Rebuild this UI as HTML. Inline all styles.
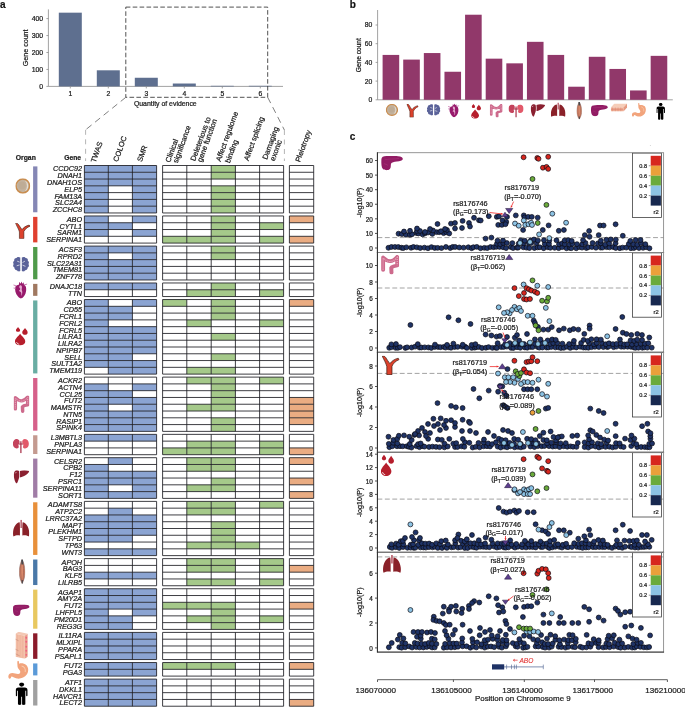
<!DOCTYPE html><html><head><meta charset="utf-8"><style>html,body{margin:0;padding:0;background:#fff;width:685px;height:707px;overflow:hidden}svg{display:block;font-family:"Liberation Sans",sans-serif;will-change:transform}svg text{stroke:#1a1a1a;stroke-width:.22px}</style></head><body>
<svg width="685" height="707" viewBox="0 0 685 707" font-family="Liberation Sans, sans-serif">
<defs><symbol id="ic-adipose" viewBox="0.7 0.7 18.6 18.6" preserveAspectRatio="none"><circle cx="10" cy="10" r="8.4" fill="#c3b29d" stroke="#c98d4f" stroke-width="1.8"/><path d="M12.5 3.6a7 7 0 0 1 0 12.8a9 9 0 0 0 0-12.8z" fill="#e4ddd3"/><circle cx="9" cy="9.5" r="4.5" fill="#b9a690" opacity="0.5"/></symbol><symbol id="ic-artery" viewBox="1 1.2 18.2 18.4" preserveAspectRatio="none"><path d="M1.2 1.6C2.6 1.2 3.8 1.6 4.6 2.6C6.4 4.8 7.6 7.2 9.2 8.8C11 6.6 13.5 4.6 17.8 3.6L18.9 4.9C15.2 6.2 12.8 8.6 11.4 11.2L11.4 19.4L6 19.4L6 11.6C5.2 8.6 3.2 5.4 1.2 1.6Z" fill="#dc412c" stroke="#3a1a10" stroke-width="0.7"/></symbol><symbol id="ic-brain" viewBox="1.6 1.6 16.8 16.4" preserveAspectRatio="none"><path d="M9.2 2.6C7.6 1.6 5.8 2 5.2 3.2C3.6 3.2 2.6 4.6 3 6C1.6 6.8 1.6 8.6 2.4 9.6C1.4 10.8 1.8 12.8 3.2 13.4C3 15 4.2 16.4 5.8 16.2C6.4 17.6 8.2 17.8 9.2 17Z" fill="#5a6299"/><path d="M10.8 2.6C12.4 1.6 14.2 2 14.8 3.2C16.4 3.2 17.4 4.6 17 6C18.4 6.8 18.4 8.6 17.6 9.6C18.6 10.8 18.2 12.8 16.8 13.4C17 15 15.8 16.4 14.2 16.2C13.6 17.6 11.8 17.8 10.8 17Z" fill="#5a6299"/><path d="M6 6.5l2.5 1M5.5 11.5l3 -1M14 6.5l-2.5 1.5M14.5 12l-3 -1.2" stroke="#fff" stroke-width="0.7" fill="none"/></symbol><symbol id="ic-heart" viewBox="1.5 2.5 16.5 17.2" preserveAspectRatio="none"><path d="M4 8C3 11 4 15 7 17.5C8.5 18.8 10 19.5 10.5 19.5C13 18.5 16 16 16.5 12C17 9 16 6.5 14 6L13.5 3.5L12.2 5L11 2.8L10 5L8.6 3.2L8 6C6 6.2 4.6 7 4 8Z" fill="#981a6c"/><path d="M9.5 6.5C8.2 7 8 9 9.5 9.8C10 10.5 9 11.5 8 12C9 12.5 10.5 12.5 10.8 14C11 15.5 10.5 16.5 10.5 17C12 16 12.5 13 11.5 11.5C11 10.5 12 9 11.5 7.5C11 6.5 10.3 6.3 9.5 6.5Z" fill="#e4acd0"/><path d="M1.5 6.2L5 7.2M1.6 9.2L4.4 9.6M13.8 6.2L17.8 5.4" stroke="#c46aa6" stroke-width="0.9" fill="none"/></symbol><symbol id="ic-blood" viewBox="3.2 0.6 11 19" preserveAspectRatio="none"><path d="M7.6 7.6C6 10.4 3.2 12.6 3.2 15.4C3.2 18 5.2 19.6 7.6 19.6C10 19.6 12 18 12 15.4C12 12.6 9.2 10.4 7.6 7.6Z" fill="#b61e2c"/><path d="M4.6 16.2C4.8 17.4 5.6 18.2 6.8 18.4" stroke="#fff" stroke-width="0.8" fill="none"/><path d="M5.8 0.6C5 2 4 2.8 4 4C4 5 4.8 5.6 5.8 5.6C6.8 5.6 7.6 5 7.6 4C7.6 2.8 6.6 2 5.8 0.6Z" fill="#b61e2c"/><path d="M11.8 1.6C10.8 3.4 9.4 4.6 9.4 6.2C9.4 7.6 10.6 8.6 11.8 8.6C13 8.6 14.2 7.6 14.2 6.2C14.2 4.6 12.8 3.4 11.8 1.6Z" fill="#b61e2c"/></symbol><symbol id="ic-colon" viewBox="1.8 1.6 16.4 19.2" preserveAspectRatio="none"><path d="M3.6 16.4L3.6 4C6.2 6.6 8 7.6 10 7.6C12 7.6 14 6.4 16.4 3.4L16.4 12C14 12.4 11.8 12.8 11 14.2L11.2 19" stroke="#cd6a8c" stroke-width="3.6" stroke-linecap="round" stroke-linejoin="round" fill="none"/><path d="M3.6 16L3.6 4.6C6.2 7 8 8 10 8C12 8 14 6.8 16.4 4L16.4 11.6" stroke="#eeb0c2" stroke-width="1" stroke-dasharray="1.1 0.9" fill="none"/></symbol><symbol id="ic-kidney" viewBox="1.4 3 17.2 16" preserveAspectRatio="none"><path d="M5.6 3C2.6 3 1.2 6 1.4 9C1.6 12 3.6 14 6 13.6C7.4 13.4 8 12.4 7.6 11.2C7.2 10 7.4 8.8 8.2 8C9 7 8.8 3.2 5.6 3Z" fill="#c4435c"/><path d="M14.4 3C17.4 3 18.8 6 18.6 9C18.4 12 16.4 14 14 13.6C12.6 13.4 12 12.4 12.4 11.2C12.8 10 12.6 8.8 11.8 8C11 7 11.2 3.2 14.4 3Z" fill="#e2596a"/><path d="M10 5.5L10 19M7.8 8.6L12.2 8.6" stroke="#a52a42" stroke-width="1.3" fill="none"/></symbol><symbol id="ic-liver" viewBox="0.6 1.6 18.6 14.6" preserveAspectRatio="none"><path d="M3 2C1 3 0.5 6 1 9C1.5 12 2.5 15 4 16C5 15.5 6 13 7 10C7.5 8 7.5 5 7 2.5C6 1.5 4.5 1.5 3 2Z" fill="#8a2030"/><path d="M8 2.5C11 1.5 15 1.5 19 2.5C18.5 4.5 16 6.5 13 8C11 9 9 9.5 8 9.5C8.3 7 8.3 4.5 8 2.5Z" fill="#8a2030"/><path d="M2.6 5L3.8 3.6" stroke="#f3dde0" stroke-width="0.8" fill="none"/></symbol><symbol id="ic-lung" viewBox="1.8 0.5 16.4 17.7" preserveAspectRatio="none"><path d="M8.5 3C5 3.5 2.5 8 2 13C1.8 15.5 2 17.5 2.5 18C4 17 6.5 16.5 8.8 17L8.8 10C8.8 7 8.8 5 8.5 3Z" fill="#8a2129"/><path d="M11.5 3C15 3.5 17.5 8 18 13C18.2 15.5 18 17.5 17.5 18C16 17 13.5 16.5 11.2 17L11.2 10C11.2 7 11.2 5 11.5 3Z" fill="#8a2129"/><path d="M9.3 0.5H10.7V9H9.3Z" fill="#b45462"/></symbol><symbol id="ic-muscle" viewBox="0.3 0.4 5.4 17.5" preserveAspectRatio="none"><path d="M3 0.5C1.5 3 0.5 6.5 0.5 9.5C0.5 12.5 1.5 15.5 3 17.8C4.5 15.5 5.5 12.5 5.5 9.5C5.5 6.5 4.5 3 3 0.5Z" fill="#d98a6c" stroke="#6a5050" stroke-width="0.35"/><path d="M2.2 0.5L3.6 0.5L4.2 4.2L2.3 4.2Z" fill="#4a4a4e"/><path d="M2.4 15.2L3.8 15.2L3.5 17.9L2.7 17.9Z" fill="#4a4a4e"/><path d="M2 4C1.5 8 1.8 13 2.6 16M4 4C4.4 8 4.2 12 3.6 16" stroke="#8a4a40" stroke-width="0.4" fill="none"/></symbol><symbol id="ic-pancreas" viewBox="0.8 0.2 21.2 15" preserveAspectRatio="none"><path d="M1 4C1 1.5 3 0.5 6 0.5C10 0.3 15 0.2 19 0.8C21 1.2 22 2.5 21.5 3.8C21 5 19 5.5 16 6C13 6.4 11.2 6.8 10.4 8C9.8 9.5 10.6 12 9.2 13.6C7.6 15.2 4.4 15.2 2.6 13.6C1 12 0.8 8 1 4Z" fill="#921c64"/><path d="M4 3.5C6 4.5 8 3.2 11 3.5C13 3.7 16 3 18 2.8M3.5 8C5 9 6 8.5 7.5 10" stroke="#a8357a" stroke-width="0.6" fill="none"/></symbol><symbol id="ic-skin" viewBox="1 6 18 8" preserveAspectRatio="none"><path d="M1 10L5 6L19 6L15 10Z" fill="#f6cdb8"/><path d="M1 10L15 10L15 14L1 14Z" fill="#efae94"/><path d="M15 10L19 6L19 10L15 14Z" fill="#e59a80"/><path d="M1 12L15 12M3 10V14M6 10V14M9 10V14M12 10V14" stroke="#d98070" stroke-width="0.5" fill="none"/></symbol><symbol id="ic-stomach" viewBox="0.3 0.3 20.4 18.3" preserveAspectRatio="none"><path d="M9.5 0.5C10.5 0.3 11 1 11 2L11 3.2C13 2.6 16 2.8 18 4.5C20.5 7 20.5 11 18.5 14C16.5 17 12.5 18.5 9 18C6.5 17.6 5.5 16.5 4 16C3 15.8 3.5 17.5 2.5 18C1 18.5 0.3 17 0.5 15.5C0.8 13.5 2.5 12.5 4.5 12.5C6.5 12.5 8 13.5 10 13.5C12 13.5 12.5 12 12 10.5C11.5 9 9.5 8 9.5 6C9.5 4 9 2 9.5 0.5Z" fill="#f2a47c"/><path d="M13.5 5.5C16 6 17.5 8.5 17 11.5" stroke="#f9cdb0" stroke-width="1" fill="none"/></symbol><symbol id="ic-person" viewBox="0 0 12 23.2" preserveAspectRatio="none"><ellipse cx="6" cy="2.3" rx="2.4" ry="2.1" fill="#000"/><path d="M3 5.2H9C10.8 5.2 11.8 6.2 11.8 8V13.2C11.8 14.2 10.4 14.2 10.4 13.2V8.6H9.6V22C9.6 23.2 6.4 23.2 6.4 22V14.6H5.6V22C5.6 23.2 2.4 23.2 2.4 22V8.6H1.6V13.2C1.6 14.2 0.2 14.2 0.2 13.2V8C0.2 6.2 1.2 5.2 3 5.2Z" fill="#000"/></symbol><symbol id="ic-skinv" viewBox="0 0 12 27" preserveAspectRatio="none"><path d="M0 2L3 0L12 2L9 4Z" fill="#f3c8b4"/><path d="M0 2L9 4L9 27L0 25Z" fill="#f3bea6"/><path d="M9 4L12 2L12 25L9 27Z" fill="#e9a08c"/><path d="M2 3V25M4.5 3.5V25.5M7 4V26" stroke="#e8a890" stroke-width="0.4" fill="none"/><path d="M-1 7L3 9M-1 17L3 19M0 22L4 24" stroke="#b07060" stroke-width="0.4" fill="none"/><circle cx="10.5" cy="6" r="0.9" fill="#f06080"/><circle cx="10.5" cy="10" r="0.9" fill="#f06080"/><circle cx="10.5" cy="15" r="0.9" fill="#f06080"/><circle cx="10.5" cy="19" r="0.9" fill="#f06080"/><circle cx="10.5" cy="23" r="0.9" fill="#f06080"/></symbol></defs>
<text x="0" y="8" font-size="10" font-weight="bold" fill="#111">a</text>
<line x1="48.4" y1="9.4" x2="48.4" y2="86.4" stroke="#8a8a8a" stroke-width="0.8"/>
<line x1="48.4" y1="86.4" x2="283" y2="86.4" stroke="#8a8a8a" stroke-width="0.8"/>
<line x1="46.4" y1="86.4" x2="48.4" y2="86.4" stroke="#8a8a8a" stroke-width="0.8"/>
<text x="43.199999999999996" y="88.8" font-size="6.9" text-anchor="end" fill="#1a1a1a">0</text>
<line x1="46.4" y1="69.45" x2="48.4" y2="69.45" stroke="#8a8a8a" stroke-width="0.8"/>
<text x="43.199999999999996" y="71.85" font-size="6.9" text-anchor="end" fill="#1a1a1a">100</text>
<line x1="46.4" y1="52.5" x2="48.4" y2="52.5" stroke="#8a8a8a" stroke-width="0.8"/>
<text x="43.199999999999996" y="54.9" font-size="6.9" text-anchor="end" fill="#1a1a1a">200</text>
<line x1="46.4" y1="35.55" x2="48.4" y2="35.55" stroke="#8a8a8a" stroke-width="0.8"/>
<text x="43.199999999999996" y="37.95" font-size="6.9" text-anchor="end" fill="#1a1a1a">300</text>
<line x1="46.4" y1="18.6" x2="48.4" y2="18.6" stroke="#8a8a8a" stroke-width="0.8"/>
<text x="43.199999999999996" y="21" font-size="6.9" text-anchor="end" fill="#1a1a1a">400</text>
<text transform="translate(28.3,47.8) rotate(-90)" font-size="7.1" text-anchor="middle" fill="#1a1a1a">Gene count</text>
<rect x="58.8" y="12.67" width="23" height="73.73" fill="#5e6f8f"/>
<line x1="70.3" y1="86.4" x2="70.3" y2="88.4" stroke="#8a8a8a" stroke-width="0.8"/>
<text x="70.3" y="96.4" font-size="6.8" text-anchor="middle" fill="#1a1a1a">1</text>
<rect x="96.8" y="70.3" width="23" height="16.1" fill="#5e6f8f"/>
<line x1="108.3" y1="86.4" x2="108.3" y2="88.4" stroke="#8a8a8a" stroke-width="0.8"/>
<text x="108.3" y="96.4" font-size="6.8" text-anchor="middle" fill="#1a1a1a">2</text>
<rect x="134.8" y="77.76" width="23" height="8.64" fill="#5e6f8f"/>
<line x1="146.3" y1="86.4" x2="146.3" y2="88.4" stroke="#8a8a8a" stroke-width="0.8"/>
<text x="146.3" y="96.4" font-size="6.8" text-anchor="middle" fill="#1a1a1a">3</text>
<rect x="172.8" y="83.52" width="23" height="2.88" fill="#5e6f8f"/>
<line x1="184.3" y1="86.4" x2="184.3" y2="88.4" stroke="#8a8a8a" stroke-width="0.8"/>
<text x="184.3" y="96.4" font-size="6.8" text-anchor="middle" fill="#1a1a1a">4</text>
<rect x="210.8" y="85.8" width="23" height="0.6" fill="#5e6f8f"/>
<line x1="222.3" y1="86.4" x2="222.3" y2="88.4" stroke="#8a8a8a" stroke-width="0.8"/>
<text x="222.3" y="96.4" font-size="6.8" text-anchor="middle" fill="#1a1a1a">5</text>
<rect x="248.8" y="85.8" width="23" height="0.6" fill="#5e6f8f"/>
<line x1="260.3" y1="86.4" x2="260.3" y2="88.4" stroke="#8a8a8a" stroke-width="0.8"/>
<text x="260.3" y="96.4" font-size="6.8" text-anchor="middle" fill="#1a1a1a">6</text>
<text x="165.3" y="105.6" font-size="6.9" text-anchor="middle" fill="#1a1a1a">Quantity of evidence</text>
<rect x="125.8" y="7.1" width="141.9" height="90.2" fill="none" stroke="#333" stroke-width="0.85" stroke-dasharray="4.6 2.3"/>
<line x1="125.8" y1="97.3" x2="85.6" y2="129.8" stroke="#555" stroke-width="0.75" stroke-dasharray="6.5 4.5"/>
<line x1="85.6" y1="129.8" x2="85.6" y2="161" stroke="#b5b5b5" stroke-width="1" stroke-dasharray="5 4.5"/>
<line x1="267.7" y1="97.3" x2="284.4" y2="130" stroke="#555" stroke-width="0.75" stroke-dasharray="6.5 4.5"/>
<line x1="284.4" y1="130" x2="284.4" y2="161" stroke="#b5b5b5" stroke-width="1" stroke-dasharray="5 4.5"/>
<text x="25.8" y="159.8" font-size="6.8" font-weight="bold" text-anchor="middle" fill="#222">Organ</text>
<text x="81" y="159.8" font-size="6.7" font-weight="bold" text-anchor="end" fill="#222">Gene</text>
<text transform="translate(95.4,163.0) rotate(-70)" font-size="7.5" fill="#1a1a1a">TWAS</text>
<text transform="translate(117.8,162.3) rotate(-70)" font-size="7.5" fill="#1a1a1a">COLOC</text>
<text transform="translate(141.7,162.3) rotate(-70)" font-size="7.5" fill="#1a1a1a">SMR</text>
<text transform="translate(170.0,162.9) rotate(-70)" font-size="7.5" fill="#1a1a1a">Clinical</text>
<text transform="translate(177.6,163.5) rotate(-70)" font-size="7.5" fill="#1a1a1a">significance</text>
<text transform="translate(195.1,161.5) rotate(-70)" font-size="7.5" fill="#1a1a1a">Deleterious to</text>
<text transform="translate(201.8,162.5) rotate(-70)" font-size="7.5" fill="#1a1a1a">gene function</text>
<text transform="translate(220.4,161.9) rotate(-70)" font-size="7.5" fill="#1a1a1a">Affect regulome</text>
<text transform="translate(229.8,163.5) rotate(-70)" font-size="7.5" fill="#1a1a1a">binding</text>
<text transform="translate(248.4,161.3) rotate(-70)" font-size="7.5" fill="#1a1a1a">Affect splicing</text>
<text transform="translate(267.0,160.0) rotate(-70)" font-size="7.5" fill="#1a1a1a">Damaging</text>
<text transform="translate(274.6,161.4) rotate(-70)" font-size="7.5" fill="#1a1a1a">exonic</text>
<text transform="translate(299.9,162.6) rotate(-70)" font-size="7.5" fill="#1a1a1a">Pleiotropy</text>
<rect x="33.1" y="166.4" width="4.3" height="45.86" fill="#8587b5"/>
<text x="82.1" y="171.4" font-size="7.25" font-style="italic" text-anchor="end" fill="#1a1a1a">CCDC92</text>
<text x="82.1" y="178.18" font-size="7.25" font-style="italic" text-anchor="end" fill="#1a1a1a">DNAH1</text>
<text x="82.1" y="184.96" font-size="7.25" font-style="italic" text-anchor="end" fill="#1a1a1a">DNAH1OS</text>
<text x="82.1" y="191.74" font-size="7.25" font-style="italic" text-anchor="end" fill="#1a1a1a">ELP5</text>
<text x="82.1" y="198.52" font-size="7.25" font-style="italic" text-anchor="end" fill="#1a1a1a">FAM13A</text>
<text x="82.1" y="205.3" font-size="7.25" font-style="italic" text-anchor="end" fill="#1a1a1a">SLC2A4</text>
<text x="82.1" y="212.08" font-size="7.25" font-style="italic" text-anchor="end" fill="#1a1a1a">ZCCHC8</text>
<rect x="84.4" y="165.5" width="23.9" height="6.78" fill="#8ba4d2"/>
<rect x="108.3" y="165.5" width="24.1" height="6.78" fill="#8ba4d2"/>
<rect x="132.4" y="165.5" width="24.2" height="6.78" fill="#8ba4d2"/>
<rect x="84.4" y="172.28" width="23.9" height="6.78" fill="#8ba4d2"/>
<rect x="108.3" y="172.28" width="24.1" height="6.78" fill="#8ba4d2"/>
<rect x="132.4" y="172.28" width="24.2" height="6.78" fill="#8ba4d2"/>
<rect x="84.4" y="179.06" width="23.9" height="6.78" fill="#8ba4d2"/>
<rect x="108.3" y="179.06" width="24.1" height="6.78" fill="#8ba4d2"/>
<rect x="132.4" y="179.06" width="24.2" height="6.78" fill="#8ba4d2"/>
<rect x="84.4" y="185.84" width="23.9" height="6.78" fill="#8ba4d2"/>
<rect x="132.4" y="185.84" width="24.2" height="6.78" fill="#8ba4d2"/>
<rect x="84.4" y="192.62" width="23.9" height="6.78" fill="#8ba4d2"/>
<rect x="132.4" y="192.62" width="24.2" height="6.78" fill="#8ba4d2"/>
<rect x="84.4" y="199.4" width="23.9" height="6.78" fill="#8ba4d2"/>
<rect x="132.4" y="199.4" width="24.2" height="6.78" fill="#8ba4d2"/>
<rect x="84.4" y="206.18" width="23.9" height="6.78" fill="#8ba4d2"/>
<rect x="132.4" y="206.18" width="24.2" height="6.78" fill="#8ba4d2"/>
<path d="M84.4 165.5H156.6M84.4 172.28H156.6M84.4 179.06H156.6M84.4 185.84H156.6M84.4 192.62H156.6M84.4 199.4H156.6M84.4 206.18H156.6M84.4 212.96H156.6M84.4 165.5V212.96M108.3 165.5V212.96M132.4 165.5V212.96M156.6 165.5V212.96" stroke="#1c1c22" stroke-width="0.85" fill="none"/>
<rect x="211.2" y="165.5" width="24.2" height="6.78" fill="#a5c98a"/>
<rect x="211.2" y="172.28" width="24.2" height="6.78" fill="#a5c98a"/>
<rect x="211.2" y="185.84" width="24.2" height="6.78" fill="#a5c98a"/>
<rect x="211.2" y="192.62" width="24.2" height="6.78" fill="#a5c98a"/>
<rect x="211.2" y="199.4" width="24.2" height="6.78" fill="#a5c98a"/>
<rect x="211.2" y="206.18" width="24.2" height="6.78" fill="#a5c98a"/>
<path d="M162.6 165.5H283.6M162.6 172.28H283.6M162.6 179.06H283.6M162.6 185.84H283.6M162.6 192.62H283.6M162.6 199.4H283.6M162.6 206.18H283.6M162.6 212.96H283.6M162.6 165.5V212.96M186.8 165.5V212.96M211.2 165.5V212.96M235.4 165.5V212.96M259.6 165.5V212.96M283.6 165.5V212.96" stroke="#1c1c22" stroke-width="0.85" fill="none"/>
<path d="M289.4 165.5H313.7M289.4 172.28H313.7M289.4 179.06H313.7M289.4 185.84H313.7M289.4 192.62H313.7M289.4 199.4H313.7M289.4 206.18H313.7M289.4 212.96H313.7M289.4 165.5V212.96M313.7 165.5V212.96" stroke="#1c1c22" stroke-width="0.85" fill="none"/>
<use href="#ic-adipose" x="15.3" y="178.2" width="15" height="15.5"/>
<rect x="33.1" y="216.86" width="4.3" height="25.52" fill="#e0402f"/>
<text x="82.1" y="221.86" font-size="7.25" font-style="italic" text-anchor="end" fill="#1a1a1a">ABO</text>
<text x="82.1" y="228.64" font-size="7.25" font-style="italic" text-anchor="end" fill="#1a1a1a">CYTL1</text>
<text x="82.1" y="235.42" font-size="7.25" font-style="italic" text-anchor="end" fill="#1a1a1a">SARM1</text>
<text x="82.1" y="242.2" font-size="7.25" font-style="italic" text-anchor="end" fill="#1a1a1a">SERPINA1</text>
<rect x="84.4" y="215.96" width="23.9" height="6.78" fill="#8ba4d2"/>
<rect x="132.4" y="215.96" width="24.2" height="6.78" fill="#8ba4d2"/>
<rect x="84.4" y="222.74" width="23.9" height="6.78" fill="#8ba4d2"/>
<rect x="108.3" y="222.74" width="24.1" height="6.78" fill="#8ba4d2"/>
<rect x="84.4" y="229.52" width="23.9" height="6.78" fill="#8ba4d2"/>
<rect x="132.4" y="229.52" width="24.2" height="6.78" fill="#8ba4d2"/>
<path d="M84.4 215.96H156.6M84.4 222.74H156.6M84.4 229.52H156.6M84.4 236.3H156.6M84.4 243.08H156.6M84.4 215.96V243.08M108.3 215.96V243.08M132.4 215.96V243.08M156.6 215.96V243.08" stroke="#1c1c22" stroke-width="0.85" fill="none"/>
<rect x="211.2" y="215.96" width="24.2" height="6.78" fill="#a5c98a"/>
<rect x="211.2" y="222.74" width="24.2" height="6.78" fill="#a5c98a"/>
<rect x="259.6" y="222.74" width="24" height="6.78" fill="#a5c98a"/>
<rect x="211.2" y="229.52" width="24.2" height="6.78" fill="#a5c98a"/>
<rect x="162.6" y="236.3" width="24.2" height="6.78" fill="#a5c98a"/>
<rect x="186.8" y="236.3" width="24.4" height="6.78" fill="#a5c98a"/>
<rect x="211.2" y="236.3" width="24.2" height="6.78" fill="#a5c98a"/>
<rect x="259.6" y="236.3" width="24" height="6.78" fill="#a5c98a"/>
<path d="M162.6 215.96H283.6M162.6 222.74H283.6M162.6 229.52H283.6M162.6 236.3H283.6M162.6 243.08H283.6M162.6 215.96V243.08M186.8 215.96V243.08M211.2 215.96V243.08M235.4 215.96V243.08M259.6 215.96V243.08M283.6 215.96V243.08" stroke="#1c1c22" stroke-width="0.85" fill="none"/>
<rect x="289.4" y="215.96" width="24.3" height="6.78" fill="#eaac82"/>
<rect x="289.4" y="236.3" width="24.3" height="6.78" fill="#eaac82"/>
<path d="M289.4 215.96H313.7M289.4 222.74H313.7M289.4 229.52H313.7M289.4 236.3H313.7M289.4 243.08H313.7M289.4 215.96V243.08M313.7 215.96V243.08" stroke="#1c1c22" stroke-width="0.85" fill="none"/>
<use href="#ic-artery" x="15.3" y="223" width="15" height="15.8"/>
<rect x="33.1" y="246.98" width="4.3" height="32.3" fill="#4f9a4a"/>
<text x="82.1" y="251.98" font-size="7.25" font-style="italic" text-anchor="end" fill="#1a1a1a">ACSF3</text>
<text x="82.1" y="258.76" font-size="7.25" font-style="italic" text-anchor="end" fill="#1a1a1a">RPRD2</text>
<text x="82.1" y="265.54" font-size="7.25" font-style="italic" text-anchor="end" fill="#1a1a1a">SLC22A31</text>
<text x="82.1" y="272.32" font-size="7.25" font-style="italic" text-anchor="end" fill="#1a1a1a">TMEM81</text>
<text x="82.1" y="279.1" font-size="7.25" font-style="italic" text-anchor="end" fill="#1a1a1a">ZNF778</text>
<rect x="84.4" y="246.08" width="23.9" height="6.78" fill="#8ba4d2"/>
<rect x="108.3" y="246.08" width="24.1" height="6.78" fill="#8ba4d2"/>
<rect x="132.4" y="246.08" width="24.2" height="6.78" fill="#8ba4d2"/>
<rect x="84.4" y="252.86" width="23.9" height="6.78" fill="#8ba4d2"/>
<rect x="132.4" y="252.86" width="24.2" height="6.78" fill="#8ba4d2"/>
<rect x="84.4" y="259.64" width="23.9" height="6.78" fill="#8ba4d2"/>
<rect x="108.3" y="259.64" width="24.1" height="6.78" fill="#8ba4d2"/>
<rect x="132.4" y="259.64" width="24.2" height="6.78" fill="#8ba4d2"/>
<rect x="84.4" y="266.42" width="23.9" height="6.78" fill="#8ba4d2"/>
<rect x="108.3" y="266.42" width="24.1" height="6.78" fill="#8ba4d2"/>
<rect x="132.4" y="266.42" width="24.2" height="6.78" fill="#8ba4d2"/>
<rect x="84.4" y="273.2" width="23.9" height="6.78" fill="#8ba4d2"/>
<rect x="108.3" y="273.2" width="24.1" height="6.78" fill="#8ba4d2"/>
<rect x="132.4" y="273.2" width="24.2" height="6.78" fill="#8ba4d2"/>
<path d="M84.4 246.08H156.6M84.4 252.86H156.6M84.4 259.64H156.6M84.4 266.42H156.6M84.4 273.2H156.6M84.4 279.98H156.6M84.4 246.08V279.98M108.3 246.08V279.98M132.4 246.08V279.98M156.6 246.08V279.98" stroke="#1c1c22" stroke-width="0.85" fill="none"/>
<rect x="211.2" y="246.08" width="24.2" height="6.78" fill="#a5c98a"/>
<rect x="211.2" y="252.86" width="24.2" height="6.78" fill="#a5c98a"/>
<path d="M162.6 246.08H283.6M162.6 252.86H283.6M162.6 259.64H283.6M162.6 266.42H283.6M162.6 273.2H283.6M162.6 279.98H283.6M162.6 246.08V279.98M186.8 246.08V279.98M211.2 246.08V279.98M235.4 246.08V279.98M259.6 246.08V279.98M283.6 246.08V279.98" stroke="#1c1c22" stroke-width="0.85" fill="none"/>
<path d="M289.4 246.08H313.7M289.4 252.86H313.7M289.4 259.64H313.7M289.4 266.42H313.7M289.4 273.2H313.7M289.4 279.98H313.7M289.4 246.08V279.98M313.7 246.08V279.98" stroke="#1c1c22" stroke-width="0.85" fill="none"/>
<use href="#ic-brain" x="12.9" y="256.6" width="16.3" height="15.3"/>
<rect x="33.1" y="283.88" width="4.3" height="11.96" fill="#a07860"/>
<text x="82.1" y="288.88" font-size="7.25" font-style="italic" text-anchor="end" fill="#1a1a1a">DNAJC18</text>
<text x="82.1" y="295.66" font-size="7.25" font-style="italic" text-anchor="end" fill="#1a1a1a">TTN</text>
<rect x="84.4" y="282.98" width="23.9" height="6.78" fill="#8ba4d2"/>
<rect x="108.3" y="282.98" width="24.1" height="6.78" fill="#8ba4d2"/>
<rect x="132.4" y="282.98" width="24.2" height="6.78" fill="#8ba4d2"/>
<path d="M84.4 282.98H156.6M84.4 289.76H156.6M84.4 296.54H156.6M84.4 282.98V296.54M108.3 282.98V296.54M132.4 282.98V296.54M156.6 282.98V296.54" stroke="#1c1c22" stroke-width="0.85" fill="none"/>
<rect x="211.2" y="282.98" width="24.2" height="6.78" fill="#a5c98a"/>
<rect x="186.8" y="289.76" width="24.4" height="6.78" fill="#a5c98a"/>
<rect x="211.2" y="289.76" width="24.2" height="6.78" fill="#a5c98a"/>
<rect x="259.6" y="289.76" width="24" height="6.78" fill="#a5c98a"/>
<path d="M162.6 282.98H283.6M162.6 289.76H283.6M162.6 296.54H283.6M162.6 282.98V296.54M186.8 282.98V296.54M211.2 282.98V296.54M235.4 282.98V296.54M259.6 282.98V296.54M283.6 282.98V296.54" stroke="#1c1c22" stroke-width="0.85" fill="none"/>
<path d="M289.4 282.98H313.7M289.4 289.76H313.7M289.4 296.54H313.7M289.4 282.98V296.54M313.7 282.98V296.54" stroke="#1c1c22" stroke-width="0.85" fill="none"/>
<use href="#ic-heart" x="13.3" y="281.1" width="14.1" height="17.7"/>
<rect x="33.1" y="300.44" width="4.3" height="72.98" fill="#69ada3"/>
<text x="82.1" y="305.44" font-size="7.25" font-style="italic" text-anchor="end" fill="#1a1a1a">ABO</text>
<text x="82.1" y="312.22" font-size="7.25" font-style="italic" text-anchor="end" fill="#1a1a1a">CD55</text>
<text x="82.1" y="319" font-size="7.25" font-style="italic" text-anchor="end" fill="#1a1a1a">FCRL1</text>
<text x="82.1" y="325.78" font-size="7.25" font-style="italic" text-anchor="end" fill="#1a1a1a">FCRL2</text>
<text x="82.1" y="332.56" font-size="7.25" font-style="italic" text-anchor="end" fill="#1a1a1a">FCRL5</text>
<text x="82.1" y="339.34" font-size="7.25" font-style="italic" text-anchor="end" fill="#1a1a1a">LILRA1</text>
<text x="82.1" y="346.12" font-size="7.25" font-style="italic" text-anchor="end" fill="#1a1a1a">LILRA2</text>
<text x="82.1" y="352.9" font-size="7.25" font-style="italic" text-anchor="end" fill="#1a1a1a">NPIPB7</text>
<text x="82.1" y="359.68" font-size="7.25" font-style="italic" text-anchor="end" fill="#1a1a1a">SELL</text>
<text x="82.1" y="366.46" font-size="7.25" font-style="italic" text-anchor="end" fill="#1a1a1a">SULT1A2</text>
<text x="82.1" y="373.24" font-size="7.25" font-style="italic" text-anchor="end" fill="#1a1a1a">TMEM119</text>
<rect x="84.4" y="299.54" width="23.9" height="6.78" fill="#8ba4d2"/>
<rect x="132.4" y="299.54" width="24.2" height="6.78" fill="#8ba4d2"/>
<rect x="84.4" y="306.32" width="23.9" height="6.78" fill="#8ba4d2"/>
<rect x="108.3" y="306.32" width="24.1" height="6.78" fill="#8ba4d2"/>
<rect x="84.4" y="313.1" width="23.9" height="6.78" fill="#8ba4d2"/>
<rect x="108.3" y="313.1" width="24.1" height="6.78" fill="#8ba4d2"/>
<rect x="84.4" y="319.88" width="23.9" height="6.78" fill="#8ba4d2"/>
<rect x="84.4" y="326.66" width="23.9" height="6.78" fill="#8ba4d2"/>
<rect x="108.3" y="326.66" width="24.1" height="6.78" fill="#8ba4d2"/>
<rect x="132.4" y="326.66" width="24.2" height="6.78" fill="#8ba4d2"/>
<rect x="84.4" y="333.44" width="23.9" height="6.78" fill="#8ba4d2"/>
<rect x="108.3" y="333.44" width="24.1" height="6.78" fill="#8ba4d2"/>
<rect x="132.4" y="333.44" width="24.2" height="6.78" fill="#8ba4d2"/>
<rect x="84.4" y="340.22" width="23.9" height="6.78" fill="#8ba4d2"/>
<rect x="108.3" y="340.22" width="24.1" height="6.78" fill="#8ba4d2"/>
<rect x="132.4" y="340.22" width="24.2" height="6.78" fill="#8ba4d2"/>
<rect x="84.4" y="347" width="23.9" height="6.78" fill="#8ba4d2"/>
<rect x="108.3" y="347" width="24.1" height="6.78" fill="#8ba4d2"/>
<rect x="132.4" y="347" width="24.2" height="6.78" fill="#8ba4d2"/>
<rect x="84.4" y="353.78" width="23.9" height="6.78" fill="#8ba4d2"/>
<rect x="108.3" y="353.78" width="24.1" height="6.78" fill="#8ba4d2"/>
<rect x="84.4" y="360.56" width="23.9" height="6.78" fill="#8ba4d2"/>
<rect x="108.3" y="360.56" width="24.1" height="6.78" fill="#8ba4d2"/>
<rect x="132.4" y="360.56" width="24.2" height="6.78" fill="#8ba4d2"/>
<rect x="108.3" y="367.34" width="24.1" height="6.78" fill="#8ba4d2"/>
<rect x="132.4" y="367.34" width="24.2" height="6.78" fill="#8ba4d2"/>
<path d="M84.4 299.54H156.6M84.4 306.32H156.6M84.4 313.1H156.6M84.4 319.88H156.6M84.4 326.66H156.6M84.4 333.44H156.6M84.4 340.22H156.6M84.4 347H156.6M84.4 353.78H156.6M84.4 360.56H156.6M84.4 367.34H156.6M84.4 374.12H156.6M84.4 299.54V374.12M108.3 299.54V374.12M132.4 299.54V374.12M156.6 299.54V374.12" stroke="#1c1c22" stroke-width="0.85" fill="none"/>
<rect x="162.6" y="299.54" width="24.2" height="6.78" fill="#a5c98a"/>
<rect x="211.2" y="299.54" width="24.2" height="6.78" fill="#a5c98a"/>
<rect x="211.2" y="306.32" width="24.2" height="6.78" fill="#a5c98a"/>
<rect x="211.2" y="313.1" width="24.2" height="6.78" fill="#a5c98a"/>
<rect x="186.8" y="319.88" width="24.4" height="6.78" fill="#a5c98a"/>
<rect x="259.6" y="319.88" width="24" height="6.78" fill="#a5c98a"/>
<rect x="211.2" y="333.44" width="24.2" height="6.78" fill="#a5c98a"/>
<rect x="211.2" y="353.78" width="24.2" height="6.78" fill="#a5c98a"/>
<rect x="186.8" y="367.34" width="24.4" height="6.78" fill="#a5c98a"/>
<rect x="211.2" y="367.34" width="24.2" height="6.78" fill="#a5c98a"/>
<path d="M162.6 299.54H283.6M162.6 306.32H283.6M162.6 313.1H283.6M162.6 319.88H283.6M162.6 326.66H283.6M162.6 333.44H283.6M162.6 340.22H283.6M162.6 347H283.6M162.6 353.78H283.6M162.6 360.56H283.6M162.6 367.34H283.6M162.6 374.12H283.6M162.6 299.54V374.12M186.8 299.54V374.12M211.2 299.54V374.12M235.4 299.54V374.12M259.6 299.54V374.12M283.6 299.54V374.12" stroke="#1c1c22" stroke-width="0.85" fill="none"/>
<rect x="289.4" y="299.54" width="24.3" height="6.78" fill="#eaac82"/>
<path d="M289.4 299.54H313.7M289.4 306.32H313.7M289.4 313.1H313.7M289.4 319.88H313.7M289.4 326.66H313.7M289.4 333.44H313.7M289.4 340.22H313.7M289.4 347H313.7M289.4 353.78H313.7M289.4 360.56H313.7M289.4 367.34H313.7M289.4 374.12H313.7M289.4 299.54V374.12M313.7 299.54V374.12" stroke="#1c1c22" stroke-width="0.85" fill="none"/>
<use href="#ic-blood" x="15" y="327" width="12.8" height="18.4"/>
<rect x="33.1" y="378.02" width="4.3" height="52.64" fill="#d6608a"/>
<text x="82.1" y="383.02" font-size="7.25" font-style="italic" text-anchor="end" fill="#1a1a1a">ACKR2</text>
<text x="82.1" y="389.8" font-size="7.25" font-style="italic" text-anchor="end" fill="#1a1a1a">ACTN4</text>
<text x="82.1" y="396.58" font-size="7.25" font-style="italic" text-anchor="end" fill="#1a1a1a">CCL25</text>
<text x="82.1" y="403.36" font-size="7.25" font-style="italic" text-anchor="end" fill="#1a1a1a">FUT2</text>
<text x="82.1" y="410.14" font-size="7.25" font-style="italic" text-anchor="end" fill="#1a1a1a">MAMSTR</text>
<text x="82.1" y="416.92" font-size="7.25" font-style="italic" text-anchor="end" fill="#1a1a1a">NTN5</text>
<text x="82.1" y="423.7" font-size="7.25" font-style="italic" text-anchor="end" fill="#1a1a1a">RASIP1</text>
<text x="82.1" y="430.48" font-size="7.25" font-style="italic" text-anchor="end" fill="#1a1a1a">SPINK4</text>
<rect x="84.4" y="383.9" width="23.9" height="6.78" fill="#8ba4d2"/>
<rect x="132.4" y="383.9" width="24.2" height="6.78" fill="#8ba4d2"/>
<rect x="84.4" y="390.68" width="23.9" height="6.78" fill="#8ba4d2"/>
<rect x="108.3" y="390.68" width="24.1" height="6.78" fill="#8ba4d2"/>
<rect x="84.4" y="397.46" width="23.9" height="6.78" fill="#8ba4d2"/>
<rect x="108.3" y="397.46" width="24.1" height="6.78" fill="#8ba4d2"/>
<rect x="132.4" y="397.46" width="24.2" height="6.78" fill="#8ba4d2"/>
<rect x="84.4" y="404.24" width="23.9" height="6.78" fill="#8ba4d2"/>
<rect x="132.4" y="404.24" width="24.2" height="6.78" fill="#8ba4d2"/>
<rect x="84.4" y="411.02" width="23.9" height="6.78" fill="#8ba4d2"/>
<rect x="108.3" y="411.02" width="24.1" height="6.78" fill="#8ba4d2"/>
<rect x="132.4" y="411.02" width="24.2" height="6.78" fill="#8ba4d2"/>
<rect x="84.4" y="417.8" width="23.9" height="6.78" fill="#8ba4d2"/>
<rect x="108.3" y="417.8" width="24.1" height="6.78" fill="#8ba4d2"/>
<rect x="132.4" y="417.8" width="24.2" height="6.78" fill="#8ba4d2"/>
<rect x="84.4" y="424.58" width="23.9" height="6.78" fill="#8ba4d2"/>
<rect x="108.3" y="424.58" width="24.1" height="6.78" fill="#8ba4d2"/>
<rect x="132.4" y="424.58" width="24.2" height="6.78" fill="#8ba4d2"/>
<path d="M84.4 377.12H156.6M84.4 383.9H156.6M84.4 390.68H156.6M84.4 397.46H156.6M84.4 404.24H156.6M84.4 411.02H156.6M84.4 417.8H156.6M84.4 424.58H156.6M84.4 431.36H156.6M84.4 377.12V431.36M108.3 377.12V431.36M132.4 377.12V431.36M156.6 377.12V431.36" stroke="#1c1c22" stroke-width="0.85" fill="none"/>
<rect x="186.8" y="377.12" width="24.4" height="6.78" fill="#a5c98a"/>
<rect x="211.2" y="377.12" width="24.2" height="6.78" fill="#a5c98a"/>
<rect x="259.6" y="377.12" width="24" height="6.78" fill="#a5c98a"/>
<rect x="211.2" y="383.9" width="24.2" height="6.78" fill="#a5c98a"/>
<rect x="211.2" y="390.68" width="24.2" height="6.78" fill="#a5c98a"/>
<rect x="211.2" y="397.46" width="24.2" height="6.78" fill="#a5c98a"/>
<rect x="186.8" y="404.24" width="24.4" height="6.78" fill="#a5c98a"/>
<rect x="211.2" y="404.24" width="24.2" height="6.78" fill="#a5c98a"/>
<rect x="211.2" y="417.8" width="24.2" height="6.78" fill="#a5c98a"/>
<rect x="211.2" y="424.58" width="24.2" height="6.78" fill="#a5c98a"/>
<path d="M162.6 377.12H283.6M162.6 383.9H283.6M162.6 390.68H283.6M162.6 397.46H283.6M162.6 404.24H283.6M162.6 411.02H283.6M162.6 417.8H283.6M162.6 424.58H283.6M162.6 431.36H283.6M162.6 377.12V431.36M186.8 377.12V431.36M211.2 377.12V431.36M235.4 377.12V431.36M259.6 377.12V431.36M283.6 377.12V431.36" stroke="#1c1c22" stroke-width="0.85" fill="none"/>
<rect x="289.4" y="397.46" width="24.3" height="6.78" fill="#eaac82"/>
<rect x="289.4" y="404.24" width="24.3" height="6.78" fill="#eaac82"/>
<rect x="289.4" y="411.02" width="24.3" height="6.78" fill="#eaac82"/>
<rect x="289.4" y="417.8" width="24.3" height="6.78" fill="#eaac82"/>
<path d="M289.4 377.12H313.7M289.4 383.9H313.7M289.4 390.68H313.7M289.4 397.46H313.7M289.4 404.24H313.7M289.4 411.02H313.7M289.4 417.8H313.7M289.4 424.58H313.7M289.4 431.36H313.7M289.4 377.12V431.36M313.7 377.12V431.36" stroke="#1c1c22" stroke-width="0.85" fill="none"/>
<use href="#ic-colon" x="13.6" y="395.4" width="15.8" height="17.5"/>
<rect x="33.1" y="435.26" width="4.3" height="18.74" fill="#c49a90"/>
<text x="82.1" y="440.26" font-size="7.25" font-style="italic" text-anchor="end" fill="#1a1a1a">L3MBTL3</text>
<text x="82.1" y="447.04" font-size="7.25" font-style="italic" text-anchor="end" fill="#1a1a1a">PNPLA3</text>
<text x="82.1" y="453.82" font-size="7.25" font-style="italic" text-anchor="end" fill="#1a1a1a">SERPINA1</text>
<rect x="84.4" y="434.36" width="23.9" height="6.78" fill="#8ba4d2"/>
<rect x="108.3" y="434.36" width="24.1" height="6.78" fill="#8ba4d2"/>
<rect x="132.4" y="434.36" width="24.2" height="6.78" fill="#8ba4d2"/>
<path d="M84.4 434.36H156.6M84.4 441.14H156.6M84.4 447.92H156.6M84.4 454.7H156.6M84.4 434.36V454.7M108.3 434.36V454.7M132.4 434.36V454.7M156.6 434.36V454.7" stroke="#1c1c22" stroke-width="0.85" fill="none"/>
<rect x="186.8" y="441.14" width="24.4" height="6.78" fill="#a5c98a"/>
<rect x="211.2" y="441.14" width="24.2" height="6.78" fill="#a5c98a"/>
<rect x="259.6" y="441.14" width="24" height="6.78" fill="#a5c98a"/>
<rect x="162.6" y="447.92" width="24.2" height="6.78" fill="#a5c98a"/>
<rect x="186.8" y="447.92" width="24.4" height="6.78" fill="#a5c98a"/>
<rect x="211.2" y="447.92" width="24.2" height="6.78" fill="#a5c98a"/>
<rect x="259.6" y="447.92" width="24" height="6.78" fill="#a5c98a"/>
<path d="M162.6 434.36H283.6M162.6 441.14H283.6M162.6 447.92H283.6M162.6 454.7H283.6M162.6 434.36V454.7M186.8 434.36V454.7M211.2 434.36V454.7M235.4 434.36V454.7M259.6 434.36V454.7M283.6 434.36V454.7" stroke="#1c1c22" stroke-width="0.85" fill="none"/>
<rect x="289.4" y="447.92" width="24.3" height="6.78" fill="#eaac82"/>
<path d="M289.4 434.36H313.7M289.4 441.14H313.7M289.4 447.92H313.7M289.4 454.7H313.7M289.4 434.36V454.7M313.7 434.36V454.7" stroke="#1c1c22" stroke-width="0.85" fill="none"/>
<use href="#ic-kidney" x="12.9" y="439" width="16" height="14.2"/>
<rect x="33.1" y="458.6" width="4.3" height="39.08" fill="#a07ca6"/>
<text x="82.1" y="463.6" font-size="7.25" font-style="italic" text-anchor="end" fill="#1a1a1a">CELSR2</text>
<text x="82.1" y="470.38" font-size="7.25" font-style="italic" text-anchor="end" fill="#1a1a1a">CPB2</text>
<text x="82.1" y="477.16" font-size="7.25" font-style="italic" text-anchor="end" fill="#1a1a1a">F12</text>
<text x="82.1" y="483.94" font-size="7.25" font-style="italic" text-anchor="end" fill="#1a1a1a">PSRC1</text>
<text x="82.1" y="490.72" font-size="7.25" font-style="italic" text-anchor="end" fill="#1a1a1a">SERPINA11</text>
<text x="82.1" y="497.5" font-size="7.25" font-style="italic" text-anchor="end" fill="#1a1a1a">SORT1</text>
<rect x="108.3" y="457.7" width="24.1" height="6.78" fill="#8ba4d2"/>
<rect x="84.4" y="464.48" width="23.9" height="6.78" fill="#8ba4d2"/>
<rect x="84.4" y="471.26" width="23.9" height="6.78" fill="#8ba4d2"/>
<rect x="108.3" y="471.26" width="24.1" height="6.78" fill="#8ba4d2"/>
<rect x="132.4" y="471.26" width="24.2" height="6.78" fill="#8ba4d2"/>
<rect x="84.4" y="478.04" width="23.9" height="6.78" fill="#8ba4d2"/>
<rect x="108.3" y="478.04" width="24.1" height="6.78" fill="#8ba4d2"/>
<rect x="132.4" y="478.04" width="24.2" height="6.78" fill="#8ba4d2"/>
<rect x="84.4" y="484.82" width="23.9" height="6.78" fill="#8ba4d2"/>
<rect x="132.4" y="484.82" width="24.2" height="6.78" fill="#8ba4d2"/>
<rect x="84.4" y="491.6" width="23.9" height="6.78" fill="#8ba4d2"/>
<rect x="108.3" y="491.6" width="24.1" height="6.78" fill="#8ba4d2"/>
<rect x="132.4" y="491.6" width="24.2" height="6.78" fill="#8ba4d2"/>
<path d="M84.4 457.7H156.6M84.4 464.48H156.6M84.4 471.26H156.6M84.4 478.04H156.6M84.4 484.82H156.6M84.4 491.6H156.6M84.4 498.38H156.6M84.4 457.7V498.38M108.3 457.7V498.38M132.4 457.7V498.38M156.6 457.7V498.38" stroke="#1c1c22" stroke-width="0.85" fill="none"/>
<rect x="186.8" y="457.7" width="24.4" height="6.78" fill="#a5c98a"/>
<rect x="211.2" y="457.7" width="24.2" height="6.78" fill="#a5c98a"/>
<rect x="186.8" y="464.48" width="24.4" height="6.78" fill="#a5c98a"/>
<rect x="211.2" y="464.48" width="24.2" height="6.78" fill="#a5c98a"/>
<rect x="211.2" y="478.04" width="24.2" height="6.78" fill="#a5c98a"/>
<rect x="186.8" y="484.82" width="24.4" height="6.78" fill="#a5c98a"/>
<rect x="211.2" y="484.82" width="24.2" height="6.78" fill="#a5c98a"/>
<path d="M162.6 457.7H283.6M162.6 464.48H283.6M162.6 471.26H283.6M162.6 478.04H283.6M162.6 484.82H283.6M162.6 491.6H283.6M162.6 498.38H283.6M162.6 457.7V498.38M186.8 457.7V498.38M211.2 457.7V498.38M235.4 457.7V498.38M259.6 457.7V498.38M283.6 457.7V498.38" stroke="#1c1c22" stroke-width="0.85" fill="none"/>
<rect x="289.4" y="457.7" width="24.3" height="6.78" fill="#eaac82"/>
<rect x="289.4" y="478.04" width="24.3" height="6.78" fill="#eaac82"/>
<rect x="289.4" y="491.6" width="24.3" height="6.78" fill="#eaac82"/>
<path d="M289.4 457.7H313.7M289.4 464.48H313.7M289.4 471.26H313.7M289.4 478.04H313.7M289.4 484.82H313.7M289.4 491.6H313.7M289.4 498.38H313.7M289.4 457.7V498.38M313.7 457.7V498.38" stroke="#1c1c22" stroke-width="0.85" fill="none"/>
<use href="#ic-liver" x="13.6" y="470.2" width="15.8" height="13.5"/>
<rect x="33.1" y="502.28" width="4.3" height="52.64" fill="#e8903a"/>
<text x="82.1" y="507.28" font-size="7.25" font-style="italic" text-anchor="end" fill="#1a1a1a">ADAMTS8</text>
<text x="82.1" y="514.06" font-size="7.25" font-style="italic" text-anchor="end" fill="#1a1a1a">ATP2C2</text>
<text x="82.1" y="520.84" font-size="7.25" font-style="italic" text-anchor="end" fill="#1a1a1a">LRRC37A2</text>
<text x="82.1" y="527.62" font-size="7.25" font-style="italic" text-anchor="end" fill="#1a1a1a">MAPT</text>
<text x="82.1" y="534.4" font-size="7.25" font-style="italic" text-anchor="end" fill="#1a1a1a">PLEKHM1</text>
<text x="82.1" y="541.18" font-size="7.25" font-style="italic" text-anchor="end" fill="#1a1a1a">SFTPD</text>
<text x="82.1" y="547.96" font-size="7.25" font-style="italic" text-anchor="end" fill="#1a1a1a">TP63</text>
<text x="82.1" y="554.74" font-size="7.25" font-style="italic" text-anchor="end" fill="#1a1a1a">WNT3</text>
<rect x="108.3" y="508.16" width="24.1" height="6.78" fill="#8ba4d2"/>
<rect x="84.4" y="514.94" width="23.9" height="6.78" fill="#8ba4d2"/>
<rect x="108.3" y="514.94" width="24.1" height="6.78" fill="#8ba4d2"/>
<rect x="132.4" y="514.94" width="24.2" height="6.78" fill="#8ba4d2"/>
<rect x="84.4" y="521.72" width="23.9" height="6.78" fill="#8ba4d2"/>
<rect x="108.3" y="521.72" width="24.1" height="6.78" fill="#8ba4d2"/>
<rect x="132.4" y="521.72" width="24.2" height="6.78" fill="#8ba4d2"/>
<rect x="84.4" y="528.5" width="23.9" height="6.78" fill="#8ba4d2"/>
<rect x="108.3" y="528.5" width="24.1" height="6.78" fill="#8ba4d2"/>
<rect x="132.4" y="528.5" width="24.2" height="6.78" fill="#8ba4d2"/>
<rect x="84.4" y="535.28" width="23.9" height="6.78" fill="#8ba4d2"/>
<rect x="108.3" y="535.28" width="24.1" height="6.78" fill="#8ba4d2"/>
<rect x="84.4" y="548.84" width="23.9" height="6.78" fill="#8ba4d2"/>
<rect x="108.3" y="548.84" width="24.1" height="6.78" fill="#8ba4d2"/>
<rect x="132.4" y="548.84" width="24.2" height="6.78" fill="#8ba4d2"/>
<path d="M84.4 501.38H156.6M84.4 508.16H156.6M84.4 514.94H156.6M84.4 521.72H156.6M84.4 528.5H156.6M84.4 535.28H156.6M84.4 542.06H156.6M84.4 548.84H156.6M84.4 555.62H156.6M84.4 501.38V555.62M108.3 501.38V555.62M132.4 501.38V555.62M156.6 501.38V555.62" stroke="#1c1c22" stroke-width="0.85" fill="none"/>
<rect x="186.8" y="501.38" width="24.4" height="6.78" fill="#a5c98a"/>
<rect x="211.2" y="501.38" width="24.2" height="6.78" fill="#a5c98a"/>
<rect x="259.6" y="501.38" width="24" height="6.78" fill="#a5c98a"/>
<rect x="186.8" y="508.16" width="24.4" height="6.78" fill="#a5c98a"/>
<rect x="211.2" y="508.16" width="24.2" height="6.78" fill="#a5c98a"/>
<rect x="211.2" y="521.72" width="24.2" height="6.78" fill="#a5c98a"/>
<rect x="211.2" y="528.5" width="24.2" height="6.78" fill="#a5c98a"/>
<rect x="211.2" y="535.28" width="24.2" height="6.78" fill="#a5c98a"/>
<rect x="186.8" y="542.06" width="24.4" height="6.78" fill="#a5c98a"/>
<rect x="211.2" y="542.06" width="24.2" height="6.78" fill="#a5c98a"/>
<rect x="235.4" y="542.06" width="24.2" height="6.78" fill="#a5c98a"/>
<path d="M162.6 501.38H283.6M162.6 508.16H283.6M162.6 514.94H283.6M162.6 521.72H283.6M162.6 528.5H283.6M162.6 535.28H283.6M162.6 542.06H283.6M162.6 548.84H283.6M162.6 555.62H283.6M162.6 501.38V555.62M186.8 501.38V555.62M211.2 501.38V555.62M235.4 501.38V555.62M259.6 501.38V555.62M283.6 501.38V555.62" stroke="#1c1c22" stroke-width="0.85" fill="none"/>
<path d="M289.4 501.38H313.7M289.4 508.16H313.7M289.4 514.94H313.7M289.4 521.72H313.7M289.4 528.5H313.7M289.4 535.28H313.7M289.4 542.06H313.7M289.4 548.84H313.7M289.4 555.62H313.7M289.4 501.38V555.62M313.7 501.38V555.62" stroke="#1c1c22" stroke-width="0.85" fill="none"/>
<use href="#ic-lung" x="12.9" y="519.8" width="16.5" height="16.9"/>
<rect x="33.1" y="559.52" width="4.3" height="25.52" fill="#4a78a8"/>
<text x="82.1" y="564.52" font-size="7.25" font-style="italic" text-anchor="end" fill="#1a1a1a">APOH</text>
<text x="82.1" y="571.3" font-size="7.25" font-style="italic" text-anchor="end" fill="#1a1a1a">BAG3</text>
<text x="82.1" y="578.08" font-size="7.25" font-style="italic" text-anchor="end" fill="#1a1a1a">KLF5</text>
<text x="82.1" y="584.86" font-size="7.25" font-style="italic" text-anchor="end" fill="#1a1a1a">LILRB5</text>
<rect x="84.4" y="572.18" width="23.9" height="6.78" fill="#8ba4d2"/>
<rect x="108.3" y="572.18" width="24.1" height="6.78" fill="#8ba4d2"/>
<rect x="132.4" y="572.18" width="24.2" height="6.78" fill="#8ba4d2"/>
<path d="M84.4 558.62H156.6M84.4 565.4H156.6M84.4 572.18H156.6M84.4 578.96H156.6M84.4 585.74H156.6M84.4 558.62V585.74M108.3 558.62V585.74M132.4 558.62V585.74M156.6 558.62V585.74" stroke="#1c1c22" stroke-width="0.85" fill="none"/>
<rect x="186.8" y="558.62" width="24.4" height="6.78" fill="#a5c98a"/>
<rect x="211.2" y="558.62" width="24.2" height="6.78" fill="#a5c98a"/>
<rect x="259.6" y="558.62" width="24" height="6.78" fill="#a5c98a"/>
<rect x="186.8" y="565.4" width="24.4" height="6.78" fill="#a5c98a"/>
<rect x="211.2" y="565.4" width="24.2" height="6.78" fill="#a5c98a"/>
<rect x="259.6" y="565.4" width="24" height="6.78" fill="#a5c98a"/>
<rect x="186.8" y="578.96" width="24.4" height="6.78" fill="#a5c98a"/>
<rect x="211.2" y="578.96" width="24.2" height="6.78" fill="#a5c98a"/>
<rect x="259.6" y="578.96" width="24" height="6.78" fill="#a5c98a"/>
<path d="M162.6 558.62H283.6M162.6 565.4H283.6M162.6 572.18H283.6M162.6 578.96H283.6M162.6 585.74H283.6M162.6 558.62V585.74M186.8 558.62V585.74M211.2 558.62V585.74M235.4 558.62V585.74M259.6 558.62V585.74M283.6 558.62V585.74" stroke="#1c1c22" stroke-width="0.85" fill="none"/>
<rect x="289.4" y="565.4" width="24.3" height="6.78" fill="#eaac82"/>
<path d="M289.4 558.62H313.7M289.4 565.4H313.7M289.4 572.18H313.7M289.4 578.96H313.7M289.4 585.74H313.7M289.4 558.62V585.74M313.7 558.62V585.74" stroke="#1c1c22" stroke-width="0.85" fill="none"/>
<use href="#ic-muscle" x="19" y="559.3" width="6.3" height="24.4"/>
<rect x="33.1" y="589.64" width="4.3" height="39.08" fill="#e8c860"/>
<text x="82.1" y="594.64" font-size="7.25" font-style="italic" text-anchor="end" fill="#1a1a1a">AGAP1</text>
<text x="82.1" y="601.42" font-size="7.25" font-style="italic" text-anchor="end" fill="#1a1a1a">AMY2A</text>
<text x="82.1" y="608.2" font-size="7.25" font-style="italic" text-anchor="end" fill="#1a1a1a">FUT2</text>
<text x="82.1" y="614.98" font-size="7.25" font-style="italic" text-anchor="end" fill="#1a1a1a">LHFPL5</text>
<text x="82.1" y="621.76" font-size="7.25" font-style="italic" text-anchor="end" fill="#1a1a1a">PM20D1</text>
<text x="82.1" y="628.54" font-size="7.25" font-style="italic" text-anchor="end" fill="#1a1a1a">REG3G</text>
<rect x="84.4" y="588.74" width="23.9" height="6.78" fill="#8ba4d2"/>
<rect x="108.3" y="588.74" width="24.1" height="6.78" fill="#8ba4d2"/>
<rect x="132.4" y="588.74" width="24.2" height="6.78" fill="#8ba4d2"/>
<rect x="84.4" y="595.52" width="23.9" height="6.78" fill="#8ba4d2"/>
<rect x="108.3" y="595.52" width="24.1" height="6.78" fill="#8ba4d2"/>
<rect x="132.4" y="595.52" width="24.2" height="6.78" fill="#8ba4d2"/>
<rect x="84.4" y="602.3" width="23.9" height="6.78" fill="#8ba4d2"/>
<rect x="108.3" y="602.3" width="24.1" height="6.78" fill="#8ba4d2"/>
<rect x="132.4" y="602.3" width="24.2" height="6.78" fill="#8ba4d2"/>
<rect x="84.4" y="609.08" width="23.9" height="6.78" fill="#8ba4d2"/>
<rect x="132.4" y="609.08" width="24.2" height="6.78" fill="#8ba4d2"/>
<rect x="84.4" y="615.86" width="23.9" height="6.78" fill="#8ba4d2"/>
<rect x="108.3" y="615.86" width="24.1" height="6.78" fill="#8ba4d2"/>
<rect x="84.4" y="622.64" width="23.9" height="6.78" fill="#8ba4d2"/>
<rect x="108.3" y="622.64" width="24.1" height="6.78" fill="#8ba4d2"/>
<path d="M84.4 588.74H156.6M84.4 595.52H156.6M84.4 602.3H156.6M84.4 609.08H156.6M84.4 615.86H156.6M84.4 622.64H156.6M84.4 629.42H156.6M84.4 588.74V629.42M108.3 588.74V629.42M132.4 588.74V629.42M156.6 588.74V629.42" stroke="#1c1c22" stroke-width="0.85" fill="none"/>
<rect x="162.6" y="602.3" width="24.2" height="6.78" fill="#a5c98a"/>
<rect x="186.8" y="602.3" width="24.4" height="6.78" fill="#a5c98a"/>
<rect x="211.2" y="602.3" width="24.2" height="6.78" fill="#a5c98a"/>
<rect x="211.2" y="609.08" width="24.2" height="6.78" fill="#a5c98a"/>
<rect x="186.8" y="615.86" width="24.4" height="6.78" fill="#a5c98a"/>
<rect x="211.2" y="615.86" width="24.2" height="6.78" fill="#a5c98a"/>
<rect x="259.6" y="615.86" width="24" height="6.78" fill="#a5c98a"/>
<rect x="211.2" y="622.64" width="24.2" height="6.78" fill="#a5c98a"/>
<path d="M162.6 588.74H283.6M162.6 595.52H283.6M162.6 602.3H283.6M162.6 609.08H283.6M162.6 615.86H283.6M162.6 622.64H283.6M162.6 629.42H283.6M162.6 588.74V629.42M186.8 588.74V629.42M211.2 588.74V629.42M235.4 588.74V629.42M259.6 588.74V629.42M283.6 588.74V629.42" stroke="#1c1c22" stroke-width="0.85" fill="none"/>
<rect x="289.4" y="602.3" width="24.3" height="6.78" fill="#eaac82"/>
<path d="M289.4 588.74H313.7M289.4 595.52H313.7M289.4 602.3H313.7M289.4 609.08H313.7M289.4 615.86H313.7M289.4 622.64H313.7M289.4 629.42H313.7M289.4 588.74V629.42M313.7 588.74V629.42" stroke="#1c1c22" stroke-width="0.85" fill="none"/>
<use href="#ic-pancreas" x="12.9" y="604.5" width="16.9" height="11.7"/>
<rect x="33.1" y="633.32" width="4.3" height="25.52" fill="#8b1a2a"/>
<text x="82.1" y="638.32" font-size="7.25" font-style="italic" text-anchor="end" fill="#1a1a1a">IL11RA</text>
<text x="82.1" y="645.1" font-size="7.25" font-style="italic" text-anchor="end" fill="#1a1a1a">MLXIPL</text>
<text x="82.1" y="651.88" font-size="7.25" font-style="italic" text-anchor="end" fill="#1a1a1a">PPARA</text>
<text x="82.1" y="658.66" font-size="7.25" font-style="italic" text-anchor="end" fill="#1a1a1a">PSAPL1</text>
<rect x="84.4" y="632.42" width="23.9" height="6.78" fill="#8ba4d2"/>
<rect x="108.3" y="632.42" width="24.1" height="6.78" fill="#8ba4d2"/>
<rect x="132.4" y="632.42" width="24.2" height="6.78" fill="#8ba4d2"/>
<rect x="84.4" y="639.2" width="23.9" height="6.78" fill="#8ba4d2"/>
<rect x="108.3" y="639.2" width="24.1" height="6.78" fill="#8ba4d2"/>
<rect x="132.4" y="639.2" width="24.2" height="6.78" fill="#8ba4d2"/>
<rect x="84.4" y="645.98" width="23.9" height="6.78" fill="#8ba4d2"/>
<rect x="108.3" y="645.98" width="24.1" height="6.78" fill="#8ba4d2"/>
<rect x="132.4" y="645.98" width="24.2" height="6.78" fill="#8ba4d2"/>
<rect x="84.4" y="652.76" width="23.9" height="6.78" fill="#8ba4d2"/>
<rect x="108.3" y="652.76" width="24.1" height="6.78" fill="#8ba4d2"/>
<rect x="132.4" y="652.76" width="24.2" height="6.78" fill="#8ba4d2"/>
<path d="M84.4 632.42H156.6M84.4 639.2H156.6M84.4 645.98H156.6M84.4 652.76H156.6M84.4 659.54H156.6M84.4 632.42V659.54M108.3 632.42V659.54M132.4 632.42V659.54M156.6 632.42V659.54" stroke="#1c1c22" stroke-width="0.85" fill="none"/>
<path d="M162.6 632.42H283.6M162.6 639.2H283.6M162.6 645.98H283.6M162.6 652.76H283.6M162.6 659.54H283.6M162.6 632.42V659.54M186.8 632.42V659.54M211.2 632.42V659.54M235.4 632.42V659.54M259.6 632.42V659.54M283.6 632.42V659.54" stroke="#1c1c22" stroke-width="0.85" fill="none"/>
<path d="M289.4 632.42H313.7M289.4 639.2H313.7M289.4 645.98H313.7M289.4 652.76H313.7M289.4 659.54H313.7M289.4 632.42V659.54M313.7 632.42V659.54" stroke="#1c1c22" stroke-width="0.85" fill="none"/>
<use href="#ic-skinv" x="15.5" y="631.7" width="12.3" height="27.1"/>
<rect x="33.1" y="663.44" width="4.3" height="11.96" fill="#5a9ad8"/>
<text x="82.1" y="668.44" font-size="7.25" font-style="italic" text-anchor="end" fill="#1a1a1a">FUT2</text>
<text x="82.1" y="675.22" font-size="7.25" font-style="italic" text-anchor="end" fill="#1a1a1a">PGA3</text>
<rect x="84.4" y="662.54" width="23.9" height="6.78" fill="#8ba4d2"/>
<rect x="108.3" y="662.54" width="24.1" height="6.78" fill="#8ba4d2"/>
<rect x="132.4" y="662.54" width="24.2" height="6.78" fill="#8ba4d2"/>
<rect x="84.4" y="669.32" width="23.9" height="6.78" fill="#8ba4d2"/>
<rect x="108.3" y="669.32" width="24.1" height="6.78" fill="#8ba4d2"/>
<rect x="132.4" y="669.32" width="24.2" height="6.78" fill="#8ba4d2"/>
<path d="M84.4 662.54H156.6M84.4 669.32H156.6M84.4 676.1H156.6M84.4 662.54V676.1M108.3 662.54V676.1M132.4 662.54V676.1M156.6 662.54V676.1" stroke="#1c1c22" stroke-width="0.85" fill="none"/>
<rect x="162.6" y="662.54" width="24.2" height="6.78" fill="#a5c98a"/>
<rect x="186.8" y="662.54" width="24.4" height="6.78" fill="#a5c98a"/>
<rect x="211.2" y="662.54" width="24.2" height="6.78" fill="#a5c98a"/>
<path d="M162.6 662.54H283.6M162.6 669.32H283.6M162.6 676.1H283.6M162.6 662.54V676.1M186.8 662.54V676.1M211.2 662.54V676.1M235.4 662.54V676.1M259.6 662.54V676.1M283.6 662.54V676.1" stroke="#1c1c22" stroke-width="0.85" fill="none"/>
<rect x="289.4" y="662.54" width="24.3" height="6.78" fill="#eaac82"/>
<path d="M289.4 662.54H313.7M289.4 669.32H313.7M289.4 676.1H313.7M289.4 662.54V676.1M313.7 662.54V676.1" stroke="#1c1c22" stroke-width="0.85" fill="none"/>
<use href="#ic-stomach" x="8.1" y="660.7" width="20.9" height="18.5"/>
<rect x="33.1" y="680" width="4.3" height="25.52" fill="#a0a0a0"/>
<text x="82.1" y="685" font-size="7.25" font-style="italic" text-anchor="end" fill="#1a1a1a">ATF1</text>
<text x="82.1" y="691.78" font-size="7.25" font-style="italic" text-anchor="end" fill="#1a1a1a">DKKL1</text>
<text x="82.1" y="698.56" font-size="7.25" font-style="italic" text-anchor="end" fill="#1a1a1a">HAVCR1</text>
<text x="82.1" y="705.34" font-size="7.25" font-style="italic" text-anchor="end" fill="#1a1a1a">LECT2</text>
<rect x="84.4" y="679.1" width="23.9" height="6.78" fill="#8ba4d2"/>
<rect x="108.3" y="679.1" width="24.1" height="6.78" fill="#8ba4d2"/>
<rect x="132.4" y="679.1" width="24.2" height="6.78" fill="#8ba4d2"/>
<rect x="84.4" y="685.88" width="23.9" height="6.78" fill="#8ba4d2"/>
<rect x="108.3" y="685.88" width="24.1" height="6.78" fill="#8ba4d2"/>
<rect x="132.4" y="685.88" width="24.2" height="6.78" fill="#8ba4d2"/>
<rect x="84.4" y="692.66" width="23.9" height="6.78" fill="#8ba4d2"/>
<rect x="108.3" y="692.66" width="24.1" height="6.78" fill="#8ba4d2"/>
<rect x="132.4" y="692.66" width="24.2" height="6.78" fill="#8ba4d2"/>
<rect x="84.4" y="699.44" width="23.9" height="6.78" fill="#8ba4d2"/>
<rect x="108.3" y="699.44" width="24.1" height="6.78" fill="#8ba4d2"/>
<rect x="132.4" y="699.44" width="24.2" height="6.78" fill="#8ba4d2"/>
<path d="M84.4 679.1H156.6M84.4 685.88H156.6M84.4 692.66H156.6M84.4 699.44H156.6M84.4 706.22H156.6M84.4 679.1V706.22M108.3 679.1V706.22M132.4 679.1V706.22M156.6 679.1V706.22" stroke="#1c1c22" stroke-width="0.85" fill="none"/>
<path d="M162.6 679.1H283.6M162.6 685.88H283.6M162.6 692.66H283.6M162.6 699.44H283.6M162.6 706.22H283.6M162.6 679.1V706.22M186.8 679.1V706.22M211.2 679.1V706.22M235.4 679.1V706.22M259.6 679.1V706.22M283.6 679.1V706.22" stroke="#1c1c22" stroke-width="0.85" fill="none"/>
<rect x="289.4" y="699.44" width="24.3" height="6.78" fill="#eaac82"/>
<path d="M289.4 679.1H313.7M289.4 685.88H313.7M289.4 692.66H313.7M289.4 699.44H313.7M289.4 706.22H313.7M289.4 679.1V706.22M313.7 679.1V706.22" stroke="#1c1c22" stroke-width="0.85" fill="none"/>
<use href="#ic-person" x="15.5" y="682.3" width="12.3" height="23"/>
<text x="349.8" y="7.9" font-size="10" font-weight="bold" fill="#111">b</text>
<line x1="377.6" y1="10" x2="377.6" y2="99.8" stroke="#8a8a8a" stroke-width="0.8"/>
<line x1="377.6" y1="99.8" x2="672.8" y2="99.8" stroke="#8a8a8a" stroke-width="0.8"/>
<line x1="375.6" y1="99.8" x2="377.6" y2="99.8" stroke="#8a8a8a" stroke-width="0.8"/>
<text x="372.3" y="102.2" font-size="6.8" text-anchor="end" fill="#1a1a1a">0</text>
<line x1="375.6" y1="81.1" x2="377.6" y2="81.1" stroke="#8a8a8a" stroke-width="0.8"/>
<text x="372.3" y="83.5" font-size="6.8" text-anchor="end" fill="#1a1a1a">20</text>
<line x1="375.6" y1="62.4" x2="377.6" y2="62.4" stroke="#8a8a8a" stroke-width="0.8"/>
<text x="372.3" y="64.8" font-size="6.8" text-anchor="end" fill="#1a1a1a">40</text>
<line x1="375.6" y1="43.7" x2="377.6" y2="43.7" stroke="#8a8a8a" stroke-width="0.8"/>
<text x="372.3" y="46.1" font-size="6.8" text-anchor="end" fill="#1a1a1a">60</text>
<line x1="375.6" y1="25" x2="377.6" y2="25" stroke="#8a8a8a" stroke-width="0.8"/>
<text x="372.3" y="27.4" font-size="6.8" text-anchor="end" fill="#1a1a1a">80</text>
<text transform="translate(361.2,55.2) rotate(-90)" font-size="6.6" text-anchor="middle" fill="#1a1a1a">Gene count</text>
<rect x="382.6" y="54.92" width="16.6" height="44.88" fill="#91386a"/>
<use href="#ic-adipose" x="385.8" y="103.9" width="12.3" height="12.1"/>
<rect x="403.22" y="59.59" width="16.6" height="40.2" fill="#91386a"/>
<use href="#ic-artery" x="406.6" y="103.9" width="11.9" height="13.6"/>
<rect x="423.84" y="53.05" width="16.6" height="46.75" fill="#91386a"/>
<use href="#ic-brain" x="426.7" y="103.9" width="13.8" height="11.9"/>
<rect x="444.46" y="71.75" width="16.6" height="28.05" fill="#91386a"/>
<use href="#ic-heart" x="448" y="103.3" width="11.4" height="14.2"/>
<rect x="465.08" y="14.72" width="16.6" height="85.08" fill="#91386a"/>
<use href="#ic-blood" x="471.1" y="104.1" width="9.9" height="14.6"/>
<rect x="485.7" y="58.66" width="16.6" height="41.14" fill="#91386a"/>
<use href="#ic-colon" x="489.8" y="103.9" width="12.8" height="13.6"/>
<rect x="506.32" y="63.34" width="16.6" height="36.46" fill="#91386a"/>
<use href="#ic-kidney" x="508.5" y="104.4" width="15.1" height="13.1"/>
<rect x="526.94" y="41.83" width="16.6" height="57.97" fill="#91386a"/>
<use href="#ic-liver" x="530.6" y="104.1" width="14.7" height="12.8"/>
<rect x="547.56" y="54.92" width="16.6" height="44.88" fill="#91386a"/>
<use href="#ic-lung" x="550.8" y="102.6" width="14.8" height="14.3"/>
<rect x="568.18" y="86.71" width="16.6" height="13.09" fill="#91386a"/>
<use href="#ic-muscle" x="576.5" y="101.8" width="5.5" height="17.5"/>
<rect x="588.8" y="56.79" width="16.6" height="43.01" fill="#91386a"/>
<use href="#ic-pancreas" x="590.9" y="105" width="17.2" height="11.5"/>
<rect x="609.42" y="68.94" width="16.6" height="30.85" fill="#91386a"/>
<use href="#ic-skin" x="610.8" y="103.6" width="16.3" height="7.8"/>
<rect x="630.04" y="90.45" width="16.6" height="9.35" fill="#91386a"/>
<use href="#ic-stomach" x="631.8" y="102.9" width="14.6" height="14"/>
<rect x="650.66" y="55.85" width="16.6" height="43.95" fill="#91386a"/>
<use href="#ic-person" x="656.3" y="102.7" width="8.8" height="17.3"/>
<text x="349.8" y="139.8" font-size="10" font-weight="bold" fill="#111">c</text>
<circle cx="650.3" cy="145.6" r="0.45" fill="#999"/>
<g>
<line x1="375.0" y1="248" x2="377.4" y2="248" stroke="#222" stroke-width="0.8"/>
<text x="372.9" y="250.8" font-size="6.4" text-anchor="end" fill="#1a1a1a">0</text>
<line x1="375.0" y1="233.42" x2="377.4" y2="233.42" stroke="#222" stroke-width="0.8"/>
<text x="372.9" y="236.22" font-size="6.4" text-anchor="end" fill="#1a1a1a">10</text>
<line x1="375.0" y1="218.84" x2="377.4" y2="218.84" stroke="#222" stroke-width="0.8"/>
<text x="372.9" y="221.64" font-size="6.4" text-anchor="end" fill="#1a1a1a">20</text>
<line x1="375.0" y1="204.26" x2="377.4" y2="204.26" stroke="#222" stroke-width="0.8"/>
<text x="372.9" y="207.06" font-size="6.4" text-anchor="end" fill="#1a1a1a">30</text>
<line x1="375.0" y1="189.68" x2="377.4" y2="189.68" stroke="#222" stroke-width="0.8"/>
<text x="372.9" y="192.48" font-size="6.4" text-anchor="end" fill="#1a1a1a">40</text>
<line x1="375.0" y1="175.1" x2="377.4" y2="175.1" stroke="#222" stroke-width="0.8"/>
<text x="372.9" y="177.9" font-size="6.4" text-anchor="end" fill="#1a1a1a">50</text>
<line x1="375.0" y1="160.52" x2="377.4" y2="160.52" stroke="#222" stroke-width="0.8"/>
<text x="372.9" y="163.32" font-size="6.4" text-anchor="end" fill="#1a1a1a">60</text>
<text transform="translate(362.0,202.6) rotate(-90)" font-size="7.2" text-anchor="middle" fill="#1a1a1a">-log10(P)</text>
<line x1="377.4" y1="237.6" x2="663.6" y2="237.6" stroke="#a3a3a3" stroke-width="1" stroke-dasharray="4.9 2.55"/>
<use href="#ic-pancreas" x="381.1" y="155.8" width="22.1" height="14.9"/>
<g stroke="#0a0a12" stroke-width="0.7">
<circle cx="388.44" cy="247.81" r="2.45" fill="#1f3366"/>
<circle cx="391.46" cy="246.98" r="2.45" fill="#1f3366"/>
<circle cx="394.98" cy="247" r="2.45" fill="#1f3366"/>
<circle cx="398.31" cy="247.07" r="2.45" fill="#1f3366"/>
<circle cx="401.44" cy="247.71" r="2.45" fill="#1f3366"/>
<circle cx="403.22" cy="248.1" r="2.45" fill="#1f3366"/>
<circle cx="406.37" cy="247.33" r="2.45" fill="#1f3366"/>
<circle cx="411.05" cy="247.79" r="2.45" fill="#1f3366"/>
<circle cx="413.41" cy="246.98" r="2.45" fill="#1f3366"/>
<circle cx="416.89" cy="247.34" r="2.45" fill="#1f3366"/>
<circle cx="420.23" cy="248.01" r="2.45" fill="#1f3366"/>
<circle cx="424.41" cy="247.64" r="2.45" fill="#1f3366"/>
<circle cx="427.99" cy="248.27" r="2.45" fill="#1f3366"/>
<circle cx="431.49" cy="247.11" r="2.45" fill="#1f3366"/>
<circle cx="434.73" cy="247.97" r="2.45" fill="#1f3366"/>
<circle cx="437.69" cy="247.87" r="2.45" fill="#1f3366"/>
<circle cx="441.47" cy="248.08" r="2.45" fill="#1f3366"/>
<circle cx="445.96" cy="246.98" r="2.45" fill="#1f3366"/>
<circle cx="450.23" cy="248.05" r="2.45" fill="#1f3366"/>
<circle cx="452.75" cy="246.93" r="2.45" fill="#1f3366"/>
<circle cx="455.2" cy="246.98" r="2.45" fill="#1f3366"/>
<circle cx="459.26" cy="247.45" r="2.45" fill="#1f3366"/>
<circle cx="463.62" cy="247.67" r="2.45" fill="#1f3366"/>
<circle cx="468.33" cy="247.29" r="2.45" fill="#1f3366"/>
<circle cx="471.62" cy="248.24" r="2.45" fill="#1f3366"/>
<circle cx="473.38" cy="247.23" r="2.45" fill="#1f3366"/>
<circle cx="476.81" cy="246.91" r="2.45" fill="#1f3366"/>
<circle cx="480.56" cy="248.23" r="2.45" fill="#1f3366"/>
<circle cx="484.36" cy="247.85" r="2.45" fill="#1f3366"/>
<circle cx="487.26" cy="248.12" r="2.45" fill="#1f3366"/>
<circle cx="490.56" cy="247.04" r="2.45" fill="#1f3366"/>
<circle cx="493.66" cy="247.19" r="2.45" fill="#1f3366"/>
<circle cx="496.28" cy="246.9" r="2.45" fill="#1f3366"/>
<circle cx="499.51" cy="246.94" r="2.45" fill="#1f3366"/>
<circle cx="503.08" cy="247.25" r="2.45" fill="#1f3366"/>
<circle cx="506.09" cy="248.09" r="2.45" fill="#1f3366"/>
<circle cx="510.78" cy="247.02" r="2.45" fill="#1f3366"/>
<circle cx="513.07" cy="248.06" r="2.45" fill="#1f3366"/>
<circle cx="516.91" cy="247.64" r="2.45" fill="#1f3366"/>
<circle cx="518.15" cy="247.64" r="2.45" fill="#1f3366"/>
<circle cx="523.31" cy="247.27" r="2.45" fill="#1f3366"/>
<circle cx="526.51" cy="247.65" r="2.45" fill="#1f3366"/>
<circle cx="529.39" cy="248.04" r="2.45" fill="#1f3366"/>
<circle cx="534.43" cy="248.05" r="2.45" fill="#1f3366"/>
<circle cx="537.66" cy="247.4" r="2.45" fill="#1f3366"/>
<circle cx="539.8" cy="247.26" r="2.45" fill="#1f3366"/>
<circle cx="543.69" cy="248.21" r="2.45" fill="#1f3366"/>
<circle cx="547.66" cy="247.21" r="2.45" fill="#1f3366"/>
<circle cx="550.25" cy="247.77" r="2.45" fill="#1f3366"/>
<circle cx="554.65" cy="247.81" r="2.45" fill="#1f3366"/>
<circle cx="558.74" cy="248.17" r="2.45" fill="#1f3366"/>
<circle cx="562.21" cy="247.15" r="2.45" fill="#1f3366"/>
<circle cx="566.51" cy="248.26" r="2.45" fill="#1f3366"/>
<circle cx="569.87" cy="247.91" r="2.45" fill="#1f3366"/>
<circle cx="571.35" cy="248.17" r="2.45" fill="#1f3366"/>
<circle cx="576.24" cy="248.27" r="2.45" fill="#1f3366"/>
<circle cx="579.35" cy="247.08" r="2.45" fill="#1f3366"/>
<circle cx="582.01" cy="247.64" r="2.45" fill="#1f3366"/>
<circle cx="586.38" cy="248.06" r="2.45" fill="#1f3366"/>
<circle cx="588.28" cy="247.24" r="2.45" fill="#1f3366"/>
<circle cx="591.92" cy="247.08" r="2.45" fill="#1f3366"/>
<circle cx="595.96" cy="247.72" r="2.45" fill="#1f3366"/>
<circle cx="600.67" cy="247.6" r="2.45" fill="#1f3366"/>
<circle cx="602.58" cy="247.52" r="2.45" fill="#1f3366"/>
<circle cx="606.61" cy="247.14" r="2.45" fill="#1f3366"/>
<circle cx="609.47" cy="247.36" r="2.45" fill="#1f3366"/>
<circle cx="613.17" cy="247.05" r="2.45" fill="#1f3366"/>
<circle cx="615.76" cy="247.98" r="2.45" fill="#1f3366"/>
<circle cx="619.84" cy="248.18" r="2.45" fill="#1f3366"/>
<circle cx="622.64" cy="247.62" r="2.45" fill="#1f3366"/>
<circle cx="626.3" cy="247.57" r="2.45" fill="#1f3366"/>
<circle cx="630.88" cy="248.22" r="2.45" fill="#1f3366"/>
<circle cx="633.89" cy="248.08" r="2.45" fill="#1f3366"/>
<circle cx="635.79" cy="247" r="2.45" fill="#1f3366"/>
<circle cx="639.03" cy="248" r="2.45" fill="#1f3366"/>
<circle cx="643.06" cy="247.82" r="2.45" fill="#1f3366"/>
<circle cx="646.17" cy="247.21" r="2.45" fill="#1f3366"/>
<circle cx="649.45" cy="248.29" r="2.45" fill="#1f3366"/>
<circle cx="496.89" cy="243.83" r="2.45" fill="#1f3366"/>
<circle cx="500.2" cy="244.2" r="2.45" fill="#1f3366"/>
<circle cx="503.29" cy="242.93" r="2.45" fill="#1f3366"/>
<circle cx="506.88" cy="243.02" r="2.45" fill="#1f3366"/>
<circle cx="512.34" cy="243.09" r="2.45" fill="#1f3366"/>
<circle cx="518.67" cy="243.66" r="2.45" fill="#1f3366"/>
<circle cx="523.46" cy="243.17" r="2.45" fill="#1f3366"/>
<circle cx="528.77" cy="243.06" r="2.45" fill="#1f3366"/>
<circle cx="531.29" cy="243.03" r="2.45" fill="#1f3366"/>
<circle cx="536.52" cy="243.05" r="2.45" fill="#1f3366"/>
<circle cx="544.75" cy="243.9" r="2.45" fill="#1f3366"/>
<circle cx="549.02" cy="243.85" r="2.45" fill="#1f3366"/>
<circle cx="559" cy="244.27" r="2.45" fill="#1f3366"/>
<circle cx="562.19" cy="243.52" r="2.45" fill="#1f3366"/>
<circle cx="564.82" cy="244.22" r="2.45" fill="#1f3366"/>
<circle cx="569.45" cy="244.58" r="2.45" fill="#1f3366"/>
<circle cx="572.43" cy="243.79" r="2.45" fill="#1f3366"/>
<circle cx="576.99" cy="244.14" r="2.45" fill="#1f3366"/>
<circle cx="582.23" cy="244.17" r="2.45" fill="#1f3366"/>
<circle cx="585.51" cy="243" r="2.45" fill="#1f3366"/>
<circle cx="592.57" cy="243.05" r="2.45" fill="#1f3366"/>
<circle cx="597.83" cy="243.41" r="2.45" fill="#1f3366"/>
<circle cx="600.8" cy="243.18" r="2.45" fill="#1f3366"/>
<circle cx="605.3" cy="244.65" r="2.45" fill="#1f3366"/>
<circle cx="609.2" cy="243.46" r="2.45" fill="#1f3366"/>
<circle cx="615.56" cy="243.26" r="2.45" fill="#1f3366"/>
<circle cx="628.79" cy="243.95" r="2.45" fill="#1f3366"/>
<circle cx="633.33" cy="244.19" r="2.45" fill="#1f3366"/>
<circle cx="637.32" cy="244.67" r="2.45" fill="#1f3366"/>
<circle cx="640.96" cy="242.98" r="2.45" fill="#1f3366"/>
<circle cx="645.37" cy="244.22" r="2.45" fill="#1f3366"/>
<circle cx="497.54" cy="240.69" r="2.45" fill="#1f3366"/>
<circle cx="502.98" cy="240.49" r="2.45" fill="#1f3366"/>
<circle cx="520.77" cy="240.4" r="2.45" fill="#1f3366"/>
<circle cx="524.79" cy="240.68" r="2.45" fill="#1f3366"/>
<circle cx="530.81" cy="240.45" r="2.45" fill="#1f3366"/>
<circle cx="533.96" cy="239.52" r="2.45" fill="#1f3366"/>
<circle cx="537.95" cy="240.58" r="2.45" fill="#1f3366"/>
<circle cx="543.92" cy="240.17" r="2.45" fill="#1f3366"/>
<circle cx="549.32" cy="240.43" r="2.45" fill="#1f3366"/>
<circle cx="556.48" cy="240.31" r="2.45" fill="#1f3366"/>
<circle cx="564.65" cy="240.48" r="2.45" fill="#1f3366"/>
<circle cx="568.41" cy="240.15" r="2.45" fill="#1f3366"/>
<circle cx="571.7" cy="240.97" r="2.45" fill="#1f3366"/>
<circle cx="583.04" cy="240.12" r="2.45" fill="#1f3366"/>
<circle cx="600.84" cy="240.71" r="2.45" fill="#1f3366"/>
<circle cx="606.38" cy="239.77" r="2.45" fill="#1f3366"/>
<circle cx="610.8" cy="239.41" r="2.45" fill="#1f3366"/>
<circle cx="615.83" cy="239.63" r="2.45" fill="#1f3366"/>
<circle cx="630.34" cy="240.88" r="2.45" fill="#1f3366"/>
<circle cx="635.7" cy="240" r="2.45" fill="#1f3366"/>
<circle cx="640.53" cy="239.98" r="2.45" fill="#1f3366"/>
<circle cx="398.54" cy="233.71" r="2.45" fill="#1f3366"/>
<circle cx="401.89" cy="234.09" r="2.45" fill="#1f3366"/>
<circle cx="405.95" cy="234.77" r="2.45" fill="#1f3366"/>
<circle cx="409.93" cy="234.75" r="2.45" fill="#1f3366"/>
<circle cx="412.13" cy="234.22" r="2.45" fill="#1f3366"/>
<circle cx="416.5" cy="233.08" r="2.45" fill="#1f3366"/>
<circle cx="418.38" cy="233.43" r="2.45" fill="#1f3366"/>
<circle cx="422.59" cy="234.39" r="2.45" fill="#1f3366"/>
<circle cx="424.96" cy="233.38" r="2.45" fill="#1f3366"/>
<circle cx="428.06" cy="232.51" r="2.45" fill="#1f3366"/>
<circle cx="432.36" cy="233.89" r="2.45" fill="#1f3366"/>
<circle cx="436.6" cy="232.17" r="2.45" fill="#1f3366"/>
<circle cx="439.31" cy="232.18" r="2.45" fill="#1f3366"/>
<circle cx="443.66" cy="233.15" r="2.45" fill="#1f3366"/>
<circle cx="446.42" cy="232.23" r="2.45" fill="#1f3366"/>
<circle cx="449.25" cy="233.44" r="2.45" fill="#1f3366"/>
<circle cx="404" cy="231.5" r="2.45" fill="#1f3366"/>
<circle cx="410" cy="230.8" r="2.45" fill="#1f3366"/>
<circle cx="417" cy="231" r="2.45" fill="#1f3366"/>
<circle cx="425" cy="232" r="2.45" fill="#1f3366"/>
<circle cx="433" cy="230.5" r="2.45" fill="#1f3366"/>
<circle cx="441" cy="231.2" r="2.45" fill="#1f3366"/>
<circle cx="447" cy="230" r="2.45" fill="#1f3366"/>
<circle cx="437.5" cy="224" r="2.45" fill="#1f3366"/>
<circle cx="451" cy="223.6" r="2.45" fill="#1f3366"/>
<circle cx="455" cy="223" r="2.45" fill="#1f3366"/>
<circle cx="462.6" cy="220.9" r="2.45" fill="#1f3366"/>
<circle cx="469" cy="223" r="2.45" fill="#1f3366"/>
<circle cx="474" cy="217.8" r="2.45" fill="#1f3366"/>
<circle cx="479" cy="220.3" r="2.45" fill="#1f3366"/>
<circle cx="488.8" cy="216.2" r="2.45" fill="#1f3366"/>
<circle cx="480.7" cy="220.5" r="2.45" fill="#1f3366"/>
<circle cx="455" cy="228.5" r="2.45" fill="#1f3366"/>
<circle cx="462" cy="228" r="2.45" fill="#1f3366"/>
<circle cx="445" cy="229" r="2.45" fill="#1f3366"/>
<circle cx="470" cy="226.5" r="2.45" fill="#1f3366"/>
<circle cx="485.6" cy="238.6" r="2.45" fill="#1f3366"/>
<circle cx="491.4" cy="237.6" r="2.45" fill="#1f3366"/>
<circle cx="496.8" cy="216.9" r="2.45" fill="#1f3366"/>
<circle cx="499" cy="216.5" r="2.45" fill="#1f3366"/>
<circle cx="507" cy="216.9" r="2.45" fill="#1f3366"/>
<circle cx="502.6" cy="220.5" r="2.45" fill="#1f3366"/>
<circle cx="506.3" cy="222" r="2.45" fill="#1f3366"/>
<circle cx="498.2" cy="224.9" r="2.45" fill="#1f3366"/>
<circle cx="501.9" cy="224.9" r="2.45" fill="#1f3366"/>
<circle cx="505.5" cy="224.2" r="2.45" fill="#1f3366"/>
<circle cx="515.8" cy="215.4" r="2.45" fill="#1f3366"/>
<circle cx="523.8" cy="215.4" r="2.45" fill="#1f3366"/>
<circle cx="524.5" cy="217.5" r="2.45" fill="#1f3366"/>
<circle cx="528.2" cy="216.9" r="2.45" fill="#1f3366"/>
<circle cx="531.8" cy="216.9" r="2.45" fill="#1f3366"/>
<circle cx="537.7" cy="217.6" r="2.45" fill="#1f3366"/>
<circle cx="523.1" cy="230" r="2.45" fill="#1f3366"/>
<circle cx="548.6" cy="225.4" r="2.45" fill="#1f3366"/>
<circle cx="542.8" cy="230" r="2.45" fill="#1f3366"/>
<circle cx="558.8" cy="230.8" r="2.45" fill="#1f3366"/>
<circle cx="563.9" cy="230" r="2.45" fill="#1f3366"/>
<circle cx="589.1" cy="231" r="2.45" fill="#1f3366"/>
<circle cx="584.8" cy="235.1" r="2.45" fill="#1f3366"/>
<circle cx="589.6" cy="236.8" r="2.45" fill="#1f3366"/>
<circle cx="600" cy="225.5" r="2.45" fill="#1f3366"/>
<circle cx="603.6" cy="225.5" r="2.45" fill="#1f3366"/>
<circle cx="615.6" cy="224.3" r="2.45" fill="#1f3366"/>
<circle cx="598.7" cy="235.1" r="2.45" fill="#1f3366"/>
<circle cx="622.8" cy="235.8" r="2.45" fill="#1f3366"/>
<circle cx="430" cy="229" r="2.45" fill="#1f3366"/>
<circle cx="420" cy="231" r="2.45" fill="#1f3366"/>
<circle cx="417" cy="228.5" r="2.45" fill="#1f3366"/>
<circle cx="515" cy="223.5" r="2.45" fill="#8cc3e4"/>
<circle cx="518.7" cy="225.7" r="2.45" fill="#8cc3e4"/>
<circle cx="523.8" cy="220.5" r="2.45" fill="#8cc3e4"/>
<circle cx="525.3" cy="224.9" r="2.45" fill="#8cc3e4"/>
<circle cx="528.5" cy="224.2" r="2.45" fill="#8cc3e4"/>
<circle cx="531.1" cy="222.7" r="2.45" fill="#8cc3e4"/>
<circle cx="532" cy="225" r="2.45" fill="#8cc3e4"/>
<circle cx="552.3" cy="213.7" r="2.45" fill="#8cc3e4"/>
<circle cx="566.1" cy="222.7" r="2.45" fill="#8cc3e4"/>
<circle cx="539.1" cy="234.4" r="2.45" fill="#8cc3e4"/>
<circle cx="549.3" cy="238.1" r="2.45" fill="#8cc3e4"/>
<circle cx="520" cy="243" r="2.45" fill="#8cc3e4"/>
<circle cx="530" cy="242" r="2.45" fill="#8cc3e4"/>
<circle cx="546.4" cy="204.9" r="2.45" fill="#6aaa3a"/>
<circle cx="537.7" cy="223" r="2.45" fill="#6aaa3a"/>
<circle cx="532.5" cy="179" r="2.45" fill="#6aaa3a"/>
<circle cx="523.6" cy="157.3" r="2.45" fill="#d7261e"/>
<circle cx="537.3" cy="158" r="2.45" fill="#d7261e"/>
<circle cx="538.5" cy="158.8" r="2.45" fill="#d7261e"/>
<circle cx="548.2" cy="156.8" r="2.45" fill="#d7261e"/>
<circle cx="542.9" cy="167.7" r="2.45" fill="#d7261e"/>
<circle cx="546.5" cy="166.9" r="2.45" fill="#d7261e"/>
<circle cx="548.2" cy="168.9" r="2.45" fill="#d7261e"/>
</g>
<text x="453.2" y="205.6" font-size="7.3" text-anchor="start" fill="#1a1a1a">rs8176746</text><text x="453.0" y="214.4" font-size="7.3" text-anchor="start" fill="#1a1a1a">(β<tspan font-size="5.0" dy="1.9">G</tspan><tspan dy="-1.9">=0.173)</tspan></text><text x="504.6" y="190.1" font-size="7.3" text-anchor="start" fill="#1a1a1a">rs8176719</text><text x="504.2" y="199.1" font-size="7.3" text-anchor="start" fill="#1a1a1a">(β<tspan font-size="5.0" dy="1.9">T</tspan><tspan dy="-1.9">=-0.070)</tspan></text><path d="M505.60 208.46L512.80 208.46L509.20 213.50Z" fill="#5e3f8f" stroke="#1a1030" stroke-width="0.5"/><path d="M501.80 216.68L508.20 216.68L505.00 212.20Z" fill="#5e3f8f" stroke="#1a1030" stroke-width="0.5"/><path d="M489.5 212.5L502.8 214.0" stroke="#ee2a2a" stroke-width="0.8" fill="none"/><path d="M502.8 214.0L500.7 214.7L500.9 212.8Z" fill="#ee2a2a"/><path d="M513.6 201.6L510.9 207.6" stroke="#ee2a2a" stroke-width="0.8" fill="none"/><path d="M510.9 207.6L510.8 205.4L512.6 206.2Z" fill="#ee2a2a"/>
<rect x="632.5" y="153.1" width="29.1" height="64.3" fill="#fff" stroke="#333" stroke-width="0.75"/>
<rect x="650.7" y="155.8" width="10.2" height="10" fill="#d7261e"/>
<rect x="650.7" y="165.75" width="10.2" height="10" fill="#eba03a"/>
<rect x="650.7" y="175.7" width="10.2" height="10" fill="#6aaa3a"/>
<rect x="650.7" y="185.65" width="10.2" height="10" fill="#8cc3e4"/>
<rect x="650.7" y="195.6" width="10.2" height="10" fill="#17284f"/>
<text x="647" y="167.75" font-size="5.6" text-anchor="end" fill="#1a1a1a">0.8</text>
<line x1="648.8" y1="165.75" x2="650.5" y2="165.75" stroke="#333" stroke-width="0.5"/>
<text x="647" y="177.7" font-size="5.6" text-anchor="end" fill="#1a1a1a">0.6</text>
<line x1="648.8" y1="175.7" x2="650.5" y2="175.7" stroke="#333" stroke-width="0.5"/>
<text x="647" y="187.65" font-size="5.6" text-anchor="end" fill="#1a1a1a">0.4</text>
<line x1="648.8" y1="185.65" x2="650.5" y2="185.65" stroke="#333" stroke-width="0.5"/>
<text x="647" y="197.6" font-size="5.6" text-anchor="end" fill="#1a1a1a">0.2</text>
<line x1="648.8" y1="195.6" x2="650.5" y2="195.6" stroke="#333" stroke-width="0.5"/>
<text x="656.2" y="214.3" font-size="5.8" text-anchor="middle" fill="#1a1a1a">r2</text>
</g>
<rect x="377.4" y="152.7" width="286.2" height="99.8" fill="none" stroke="#8a8a8a" stroke-width="0.9"/>
<line x1="377.4" y1="252.5" x2="664.0500000000001" y2="252.5" stroke="#333" stroke-width="0.95"/>
<line x1="377.4" y1="152.25" x2="377.4" y2="252.95" stroke="#222" stroke-width="0.95"/>
<g>
<line x1="375.0" y1="348" x2="377.4" y2="348" stroke="#222" stroke-width="0.8"/>
<text x="372.9" y="350.8" font-size="6.4" text-anchor="end" fill="#1a1a1a">0</text>
<line x1="375.0" y1="331.5" x2="377.4" y2="331.5" stroke="#222" stroke-width="0.8"/>
<text x="372.9" y="334.3" font-size="6.4" text-anchor="end" fill="#1a1a1a">2</text>
<line x1="375.0" y1="315" x2="377.4" y2="315" stroke="#222" stroke-width="0.8"/>
<text x="372.9" y="317.8" font-size="6.4" text-anchor="end" fill="#1a1a1a">4</text>
<line x1="375.0" y1="298.5" x2="377.4" y2="298.5" stroke="#222" stroke-width="0.8"/>
<text x="372.9" y="301.3" font-size="6.4" text-anchor="end" fill="#1a1a1a">6</text>
<line x1="375.0" y1="282" x2="377.4" y2="282" stroke="#222" stroke-width="0.8"/>
<text x="372.9" y="284.8" font-size="6.4" text-anchor="end" fill="#1a1a1a">8</text>
<line x1="375.0" y1="265.5" x2="377.4" y2="265.5" stroke="#222" stroke-width="0.8"/>
<text x="372.9" y="268.3" font-size="6.4" text-anchor="end" fill="#1a1a1a">10</text>
<text transform="translate(362.0,302.4) rotate(-90)" font-size="7.2" text-anchor="middle" fill="#1a1a1a">-log10(P)</text>
<line x1="377.4" y1="288.0" x2="663.6" y2="288.0" stroke="#a3a3a3" stroke-width="1" stroke-dasharray="4.9 2.55"/>
<use href="#ic-colon" x="381.1" y="255" width="18.1" height="19.5"/>
<g stroke="#0a0a12" stroke-width="0.7">
<circle cx="389.21" cy="347.81" r="2.45" fill="#1f3366"/>
<circle cx="391.43" cy="347.16" r="2.45" fill="#1f3366"/>
<circle cx="395.6" cy="347.82" r="2.45" fill="#1f3366"/>
<circle cx="397.89" cy="347.85" r="2.45" fill="#1f3366"/>
<circle cx="400.01" cy="347.15" r="2.45" fill="#1f3366"/>
<circle cx="405.38" cy="347.96" r="2.45" fill="#1f3366"/>
<circle cx="407.15" cy="347.33" r="2.45" fill="#1f3366"/>
<circle cx="411.65" cy="347.51" r="2.45" fill="#1f3366"/>
<circle cx="415.12" cy="346.66" r="2.45" fill="#1f3366"/>
<circle cx="419.47" cy="347.5" r="2.45" fill="#1f3366"/>
<circle cx="421.38" cy="347.49" r="2.45" fill="#1f3366"/>
<circle cx="424.72" cy="347.33" r="2.45" fill="#1f3366"/>
<circle cx="428.4" cy="347.44" r="2.45" fill="#1f3366"/>
<circle cx="431.27" cy="347.94" r="2.45" fill="#1f3366"/>
<circle cx="434.83" cy="346.93" r="2.45" fill="#1f3366"/>
<circle cx="438.08" cy="347.03" r="2.45" fill="#1f3366"/>
<circle cx="440.55" cy="347.19" r="2.45" fill="#1f3366"/>
<circle cx="443.85" cy="346.92" r="2.45" fill="#1f3366"/>
<circle cx="445.57" cy="347.56" r="2.45" fill="#1f3366"/>
<circle cx="448.88" cy="347.31" r="2.45" fill="#1f3366"/>
<circle cx="451.01" cy="347.75" r="2.45" fill="#1f3366"/>
<circle cx="454.59" cy="347.01" r="2.45" fill="#1f3366"/>
<circle cx="457.71" cy="346.91" r="2.45" fill="#1f3366"/>
<circle cx="462.1" cy="346.8" r="2.45" fill="#1f3366"/>
<circle cx="465.26" cy="346.8" r="2.45" fill="#1f3366"/>
<circle cx="466.89" cy="347.86" r="2.45" fill="#1f3366"/>
<circle cx="471.79" cy="347.9" r="2.45" fill="#1f3366"/>
<circle cx="474.71" cy="347.64" r="2.45" fill="#1f3366"/>
<circle cx="476.35" cy="347.12" r="2.45" fill="#1f3366"/>
<circle cx="478.77" cy="346.99" r="2.45" fill="#1f3366"/>
<circle cx="482.02" cy="347.95" r="2.45" fill="#1f3366"/>
<circle cx="485.95" cy="347.75" r="2.45" fill="#1f3366"/>
<circle cx="488.58" cy="347.12" r="2.45" fill="#1f3366"/>
<circle cx="492.4" cy="347.86" r="2.45" fill="#1f3366"/>
<circle cx="495.64" cy="347.67" r="2.45" fill="#1f3366"/>
<circle cx="496.98" cy="347.89" r="2.45" fill="#1f3366"/>
<circle cx="501.22" cy="347.07" r="2.45" fill="#1f3366"/>
<circle cx="503.69" cy="346.97" r="2.45" fill="#1f3366"/>
<circle cx="506.8" cy="346.61" r="2.45" fill="#1f3366"/>
<circle cx="511.1" cy="347.92" r="2.45" fill="#1f3366"/>
<circle cx="513.36" cy="347.94" r="2.45" fill="#1f3366"/>
<circle cx="517.05" cy="347.2" r="2.45" fill="#1f3366"/>
<circle cx="520.23" cy="347.72" r="2.45" fill="#1f3366"/>
<circle cx="524.87" cy="347.45" r="2.45" fill="#1f3366"/>
<circle cx="527.23" cy="347.7" r="2.45" fill="#1f3366"/>
<circle cx="530.46" cy="346.95" r="2.45" fill="#1f3366"/>
<circle cx="532.72" cy="347.06" r="2.45" fill="#1f3366"/>
<circle cx="537.51" cy="346.97" r="2.45" fill="#1f3366"/>
<circle cx="539.34" cy="347.59" r="2.45" fill="#1f3366"/>
<circle cx="542.42" cy="347.47" r="2.45" fill="#1f3366"/>
<circle cx="546.7" cy="347.53" r="2.45" fill="#1f3366"/>
<circle cx="548.49" cy="347.39" r="2.45" fill="#1f3366"/>
<circle cx="551.43" cy="346.95" r="2.45" fill="#1f3366"/>
<circle cx="555.4" cy="347.41" r="2.45" fill="#1f3366"/>
<circle cx="558.59" cy="347.31" r="2.45" fill="#1f3366"/>
<circle cx="560.9" cy="347.99" r="2.45" fill="#1f3366"/>
<circle cx="563.81" cy="347.78" r="2.45" fill="#1f3366"/>
<circle cx="566.95" cy="346.77" r="2.45" fill="#1f3366"/>
<circle cx="570.21" cy="347.9" r="2.45" fill="#1f3366"/>
<circle cx="573.08" cy="346.96" r="2.45" fill="#1f3366"/>
<circle cx="576.29" cy="347.43" r="2.45" fill="#1f3366"/>
<circle cx="580.21" cy="346.8" r="2.45" fill="#1f3366"/>
<circle cx="583.39" cy="347.51" r="2.45" fill="#1f3366"/>
<circle cx="585.76" cy="347.55" r="2.45" fill="#1f3366"/>
<circle cx="588.35" cy="347.71" r="2.45" fill="#1f3366"/>
<circle cx="591.56" cy="347.15" r="2.45" fill="#1f3366"/>
<circle cx="594.93" cy="346.83" r="2.45" fill="#1f3366"/>
<circle cx="598.86" cy="347.03" r="2.45" fill="#1f3366"/>
<circle cx="603.36" cy="347.1" r="2.45" fill="#1f3366"/>
<circle cx="607.21" cy="347.11" r="2.45" fill="#1f3366"/>
<circle cx="608.74" cy="346.61" r="2.45" fill="#1f3366"/>
<circle cx="613.69" cy="347.17" r="2.45" fill="#1f3366"/>
<circle cx="616.57" cy="346.62" r="2.45" fill="#1f3366"/>
<circle cx="621.15" cy="346.72" r="2.45" fill="#1f3366"/>
<circle cx="624" cy="346.8" r="2.45" fill="#1f3366"/>
<circle cx="627.62" cy="346.75" r="2.45" fill="#1f3366"/>
<circle cx="630.97" cy="346.88" r="2.45" fill="#1f3366"/>
<circle cx="633.67" cy="347.28" r="2.45" fill="#1f3366"/>
<circle cx="635.29" cy="347.87" r="2.45" fill="#1f3366"/>
<circle cx="638.42" cy="347.7" r="2.45" fill="#1f3366"/>
<circle cx="642.36" cy="347.76" r="2.45" fill="#1f3366"/>
<circle cx="644.43" cy="347.33" r="2.45" fill="#1f3366"/>
<circle cx="647.29" cy="347.61" r="2.45" fill="#1f3366"/>
<circle cx="651.75" cy="347.66" r="2.45" fill="#1f3366"/>
<circle cx="391.39" cy="344.38" r="2.45" fill="#1f3366"/>
<circle cx="396" cy="344.06" r="2.45" fill="#1f3366"/>
<circle cx="417.82" cy="344.12" r="2.45" fill="#1f3366"/>
<circle cx="434.98" cy="344.62" r="2.45" fill="#1f3366"/>
<circle cx="447.05" cy="344.84" r="2.45" fill="#1f3366"/>
<circle cx="453.38" cy="343.65" r="2.45" fill="#1f3366"/>
<circle cx="462.71" cy="344.72" r="2.45" fill="#1f3366"/>
<circle cx="471.69" cy="344.91" r="2.45" fill="#1f3366"/>
<circle cx="475.4" cy="344.2" r="2.45" fill="#1f3366"/>
<circle cx="497.63" cy="343.2" r="2.45" fill="#1f3366"/>
<circle cx="504.98" cy="344.47" r="2.45" fill="#1f3366"/>
<circle cx="509.72" cy="343.09" r="2.45" fill="#1f3366"/>
<circle cx="513.67" cy="344.34" r="2.45" fill="#1f3366"/>
<circle cx="517.32" cy="343.55" r="2.45" fill="#1f3366"/>
<circle cx="520.98" cy="344.24" r="2.45" fill="#1f3366"/>
<circle cx="524.04" cy="344.05" r="2.45" fill="#1f3366"/>
<circle cx="529.42" cy="343.46" r="2.45" fill="#1f3366"/>
<circle cx="535.04" cy="343.82" r="2.45" fill="#1f3366"/>
<circle cx="542.21" cy="342.9" r="2.45" fill="#1f3366"/>
<circle cx="550.17" cy="343.96" r="2.45" fill="#1f3366"/>
<circle cx="553.23" cy="343.14" r="2.45" fill="#1f3366"/>
<circle cx="557.34" cy="343.07" r="2.45" fill="#1f3366"/>
<circle cx="562.41" cy="343.62" r="2.45" fill="#1f3366"/>
<circle cx="569.15" cy="344.06" r="2.45" fill="#1f3366"/>
<circle cx="573.46" cy="343.35" r="2.45" fill="#1f3366"/>
<circle cx="581.09" cy="343.01" r="2.45" fill="#1f3366"/>
<circle cx="589.16" cy="343.26" r="2.45" fill="#1f3366"/>
<circle cx="593.97" cy="344.36" r="2.45" fill="#1f3366"/>
<circle cx="596.6" cy="342.99" r="2.45" fill="#1f3366"/>
<circle cx="601.81" cy="342.91" r="2.45" fill="#1f3366"/>
<circle cx="605.86" cy="344.24" r="2.45" fill="#1f3366"/>
<circle cx="609" cy="343.32" r="2.45" fill="#1f3366"/>
<circle cx="612.95" cy="344.15" r="2.45" fill="#1f3366"/>
<circle cx="616.63" cy="343.9" r="2.45" fill="#1f3366"/>
<circle cx="620.72" cy="343.38" r="2.45" fill="#1f3366"/>
<circle cx="624.3" cy="344.48" r="2.45" fill="#1f3366"/>
<circle cx="627.21" cy="344.24" r="2.45" fill="#1f3366"/>
<circle cx="632" cy="344.48" r="2.45" fill="#1f3366"/>
<circle cx="636.41" cy="344.04" r="2.45" fill="#1f3366"/>
<circle cx="640.69" cy="343.75" r="2.45" fill="#1f3366"/>
<circle cx="644.94" cy="343.69" r="2.45" fill="#1f3366"/>
<circle cx="648.28" cy="343.28" r="2.45" fill="#1f3366"/>
<circle cx="519.18" cy="340.55" r="2.45" fill="#1f3366"/>
<circle cx="534.87" cy="339.42" r="2.45" fill="#1f3366"/>
<circle cx="540.41" cy="339.49" r="2.45" fill="#1f3366"/>
<circle cx="547.65" cy="340.44" r="2.45" fill="#1f3366"/>
<circle cx="552.15" cy="339.48" r="2.45" fill="#1f3366"/>
<circle cx="555.7" cy="339.87" r="2.45" fill="#1f3366"/>
<circle cx="573.92" cy="340.83" r="2.45" fill="#1f3366"/>
<circle cx="583.63" cy="339.92" r="2.45" fill="#1f3366"/>
<circle cx="587.81" cy="340.85" r="2.45" fill="#1f3366"/>
<circle cx="591.39" cy="339.3" r="2.45" fill="#1f3366"/>
<circle cx="596.6" cy="339.31" r="2.45" fill="#1f3366"/>
<circle cx="600.89" cy="339.63" r="2.45" fill="#1f3366"/>
<circle cx="619.93" cy="339.5" r="2.45" fill="#1f3366"/>
<circle cx="630.56" cy="340.43" r="2.45" fill="#1f3366"/>
<circle cx="634.2" cy="340.9" r="2.45" fill="#1f3366"/>
<circle cx="637.26" cy="339.67" r="2.45" fill="#1f3366"/>
<circle cx="642.08" cy="339.98" r="2.45" fill="#1f3366"/>
<circle cx="410.4" cy="325" r="2.45" fill="#1f3366"/>
<circle cx="448.6" cy="317.3" r="2.45" fill="#1f3366"/>
<circle cx="458.4" cy="320.3" r="2.45" fill="#1f3366"/>
<circle cx="470.5" cy="324" r="2.45" fill="#1f3366"/>
<circle cx="485.6" cy="334.5" r="2.45" fill="#1f3366"/>
<circle cx="491.4" cy="335.5" r="2.45" fill="#1f3366"/>
<circle cx="496.6" cy="336.6" r="2.45" fill="#1f3366"/>
<circle cx="514.8" cy="337.6" r="2.45" fill="#1f3366"/>
<circle cx="543.4" cy="329.6" r="2.45" fill="#1f3366"/>
<circle cx="548.2" cy="329.6" r="2.45" fill="#1f3366"/>
<circle cx="551.8" cy="327.1" r="2.45" fill="#1f3366"/>
<circle cx="559" cy="330.3" r="2.45" fill="#1f3366"/>
<circle cx="563.8" cy="328.6" r="2.45" fill="#1f3366"/>
<circle cx="569.8" cy="330.3" r="2.45" fill="#1f3366"/>
<circle cx="573.5" cy="329" r="2.45" fill="#1f3366"/>
<circle cx="578.3" cy="329.6" r="2.45" fill="#1f3366"/>
<circle cx="584.3" cy="333.9" r="2.45" fill="#1f3366"/>
<circle cx="589.6" cy="325.5" r="2.45" fill="#1f3366"/>
<circle cx="589.6" cy="328.6" r="2.45" fill="#1f3366"/>
<circle cx="615.6" cy="329" r="2.45" fill="#1f3366"/>
<circle cx="622.3" cy="317" r="2.45" fill="#1f3366"/>
<circle cx="622.8" cy="332.7" r="2.45" fill="#1f3366"/>
<circle cx="626.5" cy="334" r="2.45" fill="#1f3366"/>
<circle cx="631.3" cy="335" r="2.45" fill="#1f3366"/>
<circle cx="637.3" cy="334" r="2.45" fill="#1f3366"/>
<circle cx="642" cy="335" r="2.45" fill="#1f3366"/>
<circle cx="649.3" cy="337.5" r="2.45" fill="#1f3366"/>
<circle cx="533.7" cy="320.6" r="2.45" fill="#1f3366"/>
<circle cx="534.9" cy="323" r="2.45" fill="#1f3366"/>
<circle cx="500" cy="336" r="2.45" fill="#1f3366"/>
<circle cx="507" cy="337" r="2.45" fill="#1f3366"/>
<circle cx="517" cy="335" r="2.45" fill="#1f3366"/>
<circle cx="527" cy="334" r="2.45" fill="#1f3366"/>
<circle cx="538" cy="327" r="2.45" fill="#1f3366"/>
<circle cx="523.6" cy="284.5" r="2.45" fill="#8cc3e4"/>
<circle cx="537.3" cy="285.7" r="2.45" fill="#8cc3e4"/>
<circle cx="548.2" cy="287" r="2.45" fill="#8cc3e4"/>
<circle cx="545.8" cy="307.9" r="2.45" fill="#8cc3e4"/>
<circle cx="514.5" cy="306.9" r="2.45" fill="#8cc3e4"/>
<circle cx="517" cy="309.3" r="2.45" fill="#8cc3e4"/>
<circle cx="519.3" cy="307.9" r="2.45" fill="#8cc3e4"/>
<circle cx="509.6" cy="313.4" r="2.45" fill="#8cc3e4"/>
<circle cx="507.2" cy="312.2" r="2.45" fill="#8cc3e4"/>
<circle cx="504" cy="313" r="2.45" fill="#8cc3e4"/>
<circle cx="527.7" cy="315.8" r="2.45" fill="#8cc3e4"/>
<circle cx="532.5" cy="315.8" r="2.45" fill="#8cc3e4"/>
<circle cx="549.4" cy="321.1" r="2.45" fill="#8cc3e4"/>
<circle cx="607.2" cy="336.3" r="2.45" fill="#8cc3e4"/>
<circle cx="498.7" cy="307.3" r="2.45" fill="#8cc3e4"/>
<circle cx="512" cy="310" r="2.45" fill="#8cc3e4"/>
<circle cx="521" cy="311" r="2.45" fill="#8cc3e4"/>
<circle cx="515" cy="343" r="2.45" fill="#8cc3e4"/>
<circle cx="522" cy="344" r="2.45" fill="#8cc3e4"/>
<circle cx="530" cy="342.5" r="2.45" fill="#8cc3e4"/>
<circle cx="538" cy="344" r="2.45" fill="#8cc3e4"/>
<circle cx="507" cy="345" r="2.45" fill="#8cc3e4"/>
<circle cx="545" cy="343" r="2.45" fill="#8cc3e4"/>
<circle cx="532.5" cy="280.4" r="2.45" fill="#6aaa3a"/>
<circle cx="542.1" cy="300.7" r="2.45" fill="#6aaa3a"/>
<circle cx="547" cy="301.4" r="2.45" fill="#6aaa3a"/>
<circle cx="548.2" cy="297.8" r="2.45" fill="#6aaa3a"/>
<circle cx="535.6" cy="325.5" r="2.45" fill="#6aaa3a"/>
<circle cx="538.5" cy="330.3" r="2.45" fill="#6aaa3a"/>
<circle cx="514.5" cy="288.1" r="2.45" fill="#d7261e"/>
<circle cx="518.8" cy="296.1" r="2.45" fill="#d7261e"/>
<circle cx="524" cy="293" r="2.45" fill="#d7261e"/>
<circle cx="526.5" cy="288.1" r="2.45" fill="#d7261e"/>
<circle cx="528.9" cy="289.3" r="2.45" fill="#d7261e"/>
<circle cx="531.3" cy="290.5" r="2.45" fill="#d7261e"/>
<circle cx="534.9" cy="291.7" r="2.45" fill="#d7261e"/>
<circle cx="537.3" cy="293" r="2.45" fill="#d7261e"/>
<circle cx="524" cy="299" r="2.45" fill="#d7261e"/>
<circle cx="526.5" cy="299.5" r="2.45" fill="#d7261e"/>
<circle cx="530" cy="299" r="2.45" fill="#d7261e"/>
</g>
<text x="470.5" y="259.7" font-size="7.3" text-anchor="start" fill="#1a1a1a">rs8176719</text><text x="470.5" y="268.7" font-size="7.3" text-anchor="start" fill="#1a1a1a">(β<tspan font-size="5.0" dy="1.9">T</tspan><tspan dy="-1.9">=0.062)</tspan></text><path d="M505.60 259.54L512.80 259.54L509.20 254.50Z" fill="#5e3f8f" stroke="#1a1030" stroke-width="0.5"/><text x="481.0" y="321.7" font-size="7.3" text-anchor="start" fill="#1a1a1a">rs8176746</text><text x="480.2" y="329.7" font-size="7.3" text-anchor="start" fill="#1a1a1a">(β<tspan font-size="5.0" dy="1.9">G</tspan><tspan dy="-1.9">=-0.005)</tspan></text><path d="M503.0 332.5L505.0 337.6" stroke="#ee2a2a" stroke-width="0.8" fill="none"/><path d="M505.0 337.6L503.4 336.1L505.2 335.4Z" fill="#ee2a2a"/><path d="M501.80 338.75L507.80 338.75L504.80 342.95Z" fill="#5e3f8f" stroke="#1a1030" stroke-width="0.5"/>
<rect x="632.5" y="252.9" width="29.1" height="64.3" fill="#fff" stroke="#333" stroke-width="0.75"/>
<rect x="650.7" y="255.6" width="10.2" height="10" fill="#d7261e"/>
<rect x="650.7" y="265.55" width="10.2" height="10" fill="#eba03a"/>
<rect x="650.7" y="275.5" width="10.2" height="10" fill="#6aaa3a"/>
<rect x="650.7" y="285.45" width="10.2" height="10" fill="#8cc3e4"/>
<rect x="650.7" y="295.4" width="10.2" height="10" fill="#17284f"/>
<text x="647" y="267.55" font-size="5.6" text-anchor="end" fill="#1a1a1a">0.8</text>
<line x1="648.8" y1="265.55" x2="650.5" y2="265.55" stroke="#333" stroke-width="0.5"/>
<text x="647" y="277.5" font-size="5.6" text-anchor="end" fill="#1a1a1a">0.6</text>
<line x1="648.8" y1="275.5" x2="650.5" y2="275.5" stroke="#333" stroke-width="0.5"/>
<text x="647" y="287.45" font-size="5.6" text-anchor="end" fill="#1a1a1a">0.4</text>
<line x1="648.8" y1="285.45" x2="650.5" y2="285.45" stroke="#333" stroke-width="0.5"/>
<text x="647" y="297.4" font-size="5.6" text-anchor="end" fill="#1a1a1a">0.2</text>
<line x1="648.8" y1="295.4" x2="650.5" y2="295.4" stroke="#333" stroke-width="0.5"/>
<text x="656.2" y="314.1" font-size="5.8" text-anchor="middle" fill="#1a1a1a">r2</text>
</g>
<rect x="377.4" y="252.5" width="286.2" height="99.8" fill="none" stroke="#8a8a8a" stroke-width="0.9"/>
<line x1="377.4" y1="352.3" x2="664.0500000000001" y2="352.3" stroke="#333" stroke-width="0.95"/>
<line x1="377.4" y1="252.05" x2="377.4" y2="352.75" stroke="#222" stroke-width="0.95"/>
<g>
<line x1="375.0" y1="448" x2="377.4" y2="448" stroke="#222" stroke-width="0.8"/>
<text x="372.9" y="450.8" font-size="6.4" text-anchor="end" fill="#1a1a1a">0</text>
<line x1="375.0" y1="427.5" x2="377.4" y2="427.5" stroke="#222" stroke-width="0.8"/>
<text x="372.9" y="430.3" font-size="6.4" text-anchor="end" fill="#1a1a1a">2</text>
<line x1="375.0" y1="407" x2="377.4" y2="407" stroke="#222" stroke-width="0.8"/>
<text x="372.9" y="409.8" font-size="6.4" text-anchor="end" fill="#1a1a1a">4</text>
<line x1="375.0" y1="386.5" x2="377.4" y2="386.5" stroke="#222" stroke-width="0.8"/>
<text x="372.9" y="389.3" font-size="6.4" text-anchor="end" fill="#1a1a1a">6</text>
<line x1="375.0" y1="366" x2="377.4" y2="366" stroke="#222" stroke-width="0.8"/>
<text x="372.9" y="368.8" font-size="6.4" text-anchor="end" fill="#1a1a1a">8</text>
<text transform="translate(362.0,402.3) rotate(-90)" font-size="7.2" text-anchor="middle" fill="#1a1a1a">-log10(P)</text>
<line x1="377.4" y1="373.4" x2="663.6" y2="373.4" stroke="#a3a3a3" stroke-width="1" stroke-dasharray="4.9 2.55"/>
<use href="#ic-artery" x="382" y="355.7" width="17.5" height="19.2"/>
<g stroke="#0a0a12" stroke-width="0.7">
<circle cx="389.41" cy="447.2" r="2.45" fill="#1f3366"/>
<circle cx="392.37" cy="446.25" r="2.45" fill="#1f3366"/>
<circle cx="397.02" cy="446.27" r="2.45" fill="#1f3366"/>
<circle cx="400.05" cy="446.2" r="2.45" fill="#1f3366"/>
<circle cx="402.84" cy="446.31" r="2.45" fill="#1f3366"/>
<circle cx="406.88" cy="446.25" r="2.45" fill="#1f3366"/>
<circle cx="408.86" cy="446.84" r="2.45" fill="#1f3366"/>
<circle cx="411.47" cy="447.56" r="2.45" fill="#1f3366"/>
<circle cx="416.49" cy="446.16" r="2.45" fill="#1f3366"/>
<circle cx="419.43" cy="447.17" r="2.45" fill="#1f3366"/>
<circle cx="422.47" cy="446.17" r="2.45" fill="#1f3366"/>
<circle cx="424.4" cy="446.64" r="2.45" fill="#1f3366"/>
<circle cx="429.04" cy="447.01" r="2.45" fill="#1f3366"/>
<circle cx="432.55" cy="446.65" r="2.45" fill="#1f3366"/>
<circle cx="436.08" cy="446.92" r="2.45" fill="#1f3366"/>
<circle cx="439.58" cy="447.16" r="2.45" fill="#1f3366"/>
<circle cx="444.38" cy="447.36" r="2.45" fill="#1f3366"/>
<circle cx="447.69" cy="446.5" r="2.45" fill="#1f3366"/>
<circle cx="454.99" cy="447.01" r="2.45" fill="#1f3366"/>
<circle cx="457.55" cy="446.99" r="2.45" fill="#1f3366"/>
<circle cx="461.55" cy="446.29" r="2.45" fill="#1f3366"/>
<circle cx="464.35" cy="446.78" r="2.45" fill="#1f3366"/>
<circle cx="472.66" cy="447.5" r="2.45" fill="#1f3366"/>
<circle cx="475.76" cy="446.87" r="2.45" fill="#1f3366"/>
<circle cx="479.63" cy="447.33" r="2.45" fill="#1f3366"/>
<circle cx="483.57" cy="446.34" r="2.45" fill="#1f3366"/>
<circle cx="486.98" cy="446.2" r="2.45" fill="#1f3366"/>
<circle cx="490.08" cy="446.44" r="2.45" fill="#1f3366"/>
<circle cx="497.59" cy="446.56" r="2.45" fill="#1f3366"/>
<circle cx="500.66" cy="447.5" r="2.45" fill="#1f3366"/>
<circle cx="504.21" cy="446.63" r="2.45" fill="#1f3366"/>
<circle cx="507.08" cy="447.3" r="2.45" fill="#1f3366"/>
<circle cx="510.36" cy="446.36" r="2.45" fill="#1f3366"/>
<circle cx="514.67" cy="447.31" r="2.45" fill="#1f3366"/>
<circle cx="518.06" cy="446.88" r="2.45" fill="#1f3366"/>
<circle cx="520.92" cy="447.36" r="2.45" fill="#1f3366"/>
<circle cx="523.76" cy="446.68" r="2.45" fill="#1f3366"/>
<circle cx="530.39" cy="446.48" r="2.45" fill="#1f3366"/>
<circle cx="534.38" cy="447.05" r="2.45" fill="#1f3366"/>
<circle cx="537.9" cy="446.09" r="2.45" fill="#1f3366"/>
<circle cx="541.74" cy="446.22" r="2.45" fill="#1f3366"/>
<circle cx="544.47" cy="446.02" r="2.45" fill="#1f3366"/>
<circle cx="549.02" cy="446.16" r="2.45" fill="#1f3366"/>
<circle cx="552.65" cy="446.55" r="2.45" fill="#1f3366"/>
<circle cx="555.49" cy="446.27" r="2.45" fill="#1f3366"/>
<circle cx="559.54" cy="447.07" r="2.45" fill="#1f3366"/>
<circle cx="563.7" cy="446.32" r="2.45" fill="#1f3366"/>
<circle cx="567.27" cy="446.7" r="2.45" fill="#1f3366"/>
<circle cx="570.56" cy="446.37" r="2.45" fill="#1f3366"/>
<circle cx="573.01" cy="446.75" r="2.45" fill="#1f3366"/>
<circle cx="576.51" cy="446.86" r="2.45" fill="#1f3366"/>
<circle cx="584.61" cy="447.06" r="2.45" fill="#1f3366"/>
<circle cx="588.36" cy="447.54" r="2.45" fill="#1f3366"/>
<circle cx="591.39" cy="446.05" r="2.45" fill="#1f3366"/>
<circle cx="595.45" cy="446.53" r="2.45" fill="#1f3366"/>
<circle cx="598.95" cy="447.44" r="2.45" fill="#1f3366"/>
<circle cx="601.78" cy="446.54" r="2.45" fill="#1f3366"/>
<circle cx="605.56" cy="446.84" r="2.45" fill="#1f3366"/>
<circle cx="609.35" cy="446.68" r="2.45" fill="#1f3366"/>
<circle cx="612.62" cy="447.32" r="2.45" fill="#1f3366"/>
<circle cx="615.82" cy="446.81" r="2.45" fill="#1f3366"/>
<circle cx="620.86" cy="446.53" r="2.45" fill="#1f3366"/>
<circle cx="623.62" cy="447.02" r="2.45" fill="#1f3366"/>
<circle cx="631.22" cy="446.08" r="2.45" fill="#1f3366"/>
<circle cx="637.25" cy="447.05" r="2.45" fill="#1f3366"/>
<circle cx="641.15" cy="446.99" r="2.45" fill="#1f3366"/>
<circle cx="644.74" cy="447.09" r="2.45" fill="#1f3366"/>
<circle cx="647.43" cy="447.22" r="2.45" fill="#1f3366"/>
<circle cx="649.48" cy="447.24" r="2.45" fill="#1f3366"/>
<circle cx="388.79" cy="443.85" r="2.45" fill="#1f3366"/>
<circle cx="393.19" cy="442.8" r="2.45" fill="#1f3366"/>
<circle cx="397.31" cy="443.48" r="2.45" fill="#1f3366"/>
<circle cx="409.78" cy="444.04" r="2.45" fill="#1f3366"/>
<circle cx="418.02" cy="444.16" r="2.45" fill="#1f3366"/>
<circle cx="420.64" cy="443.49" r="2.45" fill="#1f3366"/>
<circle cx="444.39" cy="443.67" r="2.45" fill="#1f3366"/>
<circle cx="453.3" cy="443.66" r="2.45" fill="#1f3366"/>
<circle cx="456.23" cy="443.12" r="2.45" fill="#1f3366"/>
<circle cx="464.91" cy="442.23" r="2.45" fill="#1f3366"/>
<circle cx="469.32" cy="442.82" r="2.45" fill="#1f3366"/>
<circle cx="478.47" cy="442.94" r="2.45" fill="#1f3366"/>
<circle cx="483.61" cy="442.49" r="2.45" fill="#1f3366"/>
<circle cx="488.15" cy="443.46" r="2.45" fill="#1f3366"/>
<circle cx="492.21" cy="444.09" r="2.45" fill="#1f3366"/>
<circle cx="495.99" cy="442.32" r="2.45" fill="#1f3366"/>
<circle cx="501.79" cy="442.86" r="2.45" fill="#1f3366"/>
<circle cx="506.01" cy="443.4" r="2.45" fill="#1f3366"/>
<circle cx="509.72" cy="442.95" r="2.45" fill="#1f3366"/>
<circle cx="514.1" cy="443.81" r="2.45" fill="#1f3366"/>
<circle cx="520.7" cy="443.83" r="2.45" fill="#1f3366"/>
<circle cx="530.59" cy="443.34" r="2.45" fill="#1f3366"/>
<circle cx="534.04" cy="443.57" r="2.45" fill="#1f3366"/>
<circle cx="537.71" cy="443.31" r="2.45" fill="#1f3366"/>
<circle cx="547.05" cy="443.41" r="2.45" fill="#1f3366"/>
<circle cx="551.36" cy="442.71" r="2.45" fill="#1f3366"/>
<circle cx="556.27" cy="442.38" r="2.45" fill="#1f3366"/>
<circle cx="560.52" cy="443.36" r="2.45" fill="#1f3366"/>
<circle cx="565.77" cy="443.15" r="2.45" fill="#1f3366"/>
<circle cx="577.81" cy="443" r="2.45" fill="#1f3366"/>
<circle cx="584.63" cy="442.41" r="2.45" fill="#1f3366"/>
<circle cx="588.54" cy="443.39" r="2.45" fill="#1f3366"/>
<circle cx="592.02" cy="442.27" r="2.45" fill="#1f3366"/>
<circle cx="597.74" cy="443.33" r="2.45" fill="#1f3366"/>
<circle cx="601.17" cy="444.09" r="2.45" fill="#1f3366"/>
<circle cx="606.56" cy="442.71" r="2.45" fill="#1f3366"/>
<circle cx="615.95" cy="443.12" r="2.45" fill="#1f3366"/>
<circle cx="619.56" cy="443.4" r="2.45" fill="#1f3366"/>
<circle cx="633.83" cy="443.54" r="2.45" fill="#1f3366"/>
<circle cx="636.34" cy="444.13" r="2.45" fill="#1f3366"/>
<circle cx="649.29" cy="443.87" r="2.45" fill="#1f3366"/>
<circle cx="652.08" cy="443.49" r="2.45" fill="#1f3366"/>
<circle cx="393.49" cy="439.95" r="2.45" fill="#1f3366"/>
<circle cx="397.33" cy="438.81" r="2.45" fill="#1f3366"/>
<circle cx="411.69" cy="440.03" r="2.45" fill="#1f3366"/>
<circle cx="428.17" cy="438.88" r="2.45" fill="#1f3366"/>
<circle cx="437.82" cy="439.5" r="2.45" fill="#1f3366"/>
<circle cx="441.81" cy="439.86" r="2.45" fill="#1f3366"/>
<circle cx="449.29" cy="438.89" r="2.45" fill="#1f3366"/>
<circle cx="462.86" cy="438.94" r="2.45" fill="#1f3366"/>
<circle cx="483.98" cy="439.55" r="2.45" fill="#1f3366"/>
<circle cx="498.87" cy="438.8" r="2.45" fill="#1f3366"/>
<circle cx="501.6" cy="440.05" r="2.45" fill="#1f3366"/>
<circle cx="505.66" cy="440.21" r="2.45" fill="#1f3366"/>
<circle cx="514.17" cy="438.97" r="2.45" fill="#1f3366"/>
<circle cx="518.12" cy="439.74" r="2.45" fill="#1f3366"/>
<circle cx="527.08" cy="438.76" r="2.45" fill="#1f3366"/>
<circle cx="531.21" cy="439.15" r="2.45" fill="#1f3366"/>
<circle cx="535.47" cy="440.22" r="2.45" fill="#1f3366"/>
<circle cx="543.38" cy="440.04" r="2.45" fill="#1f3366"/>
<circle cx="546.84" cy="440.28" r="2.45" fill="#1f3366"/>
<circle cx="555.99" cy="440.34" r="2.45" fill="#1f3366"/>
<circle cx="589.06" cy="439.24" r="2.45" fill="#1f3366"/>
<circle cx="604.19" cy="439.63" r="2.45" fill="#1f3366"/>
<circle cx="608.1" cy="440.53" r="2.45" fill="#1f3366"/>
<circle cx="625.03" cy="438.64" r="2.45" fill="#1f3366"/>
<circle cx="630.39" cy="440.01" r="2.45" fill="#1f3366"/>
<circle cx="634.38" cy="438.69" r="2.45" fill="#1f3366"/>
<circle cx="650.44" cy="438.89" r="2.45" fill="#1f3366"/>
<circle cx="388.46" cy="436.78" r="2.45" fill="#1f3366"/>
<circle cx="398.85" cy="435.75" r="2.45" fill="#1f3366"/>
<circle cx="404.04" cy="435.38" r="2.45" fill="#1f3366"/>
<circle cx="409.2" cy="436.73" r="2.45" fill="#1f3366"/>
<circle cx="414.41" cy="434.93" r="2.45" fill="#1f3366"/>
<circle cx="419.09" cy="435.4" r="2.45" fill="#1f3366"/>
<circle cx="539.78" cy="436.07" r="2.45" fill="#1f3366"/>
<circle cx="553.48" cy="437.05" r="2.45" fill="#1f3366"/>
<circle cx="558.98" cy="436.92" r="2.45" fill="#1f3366"/>
<circle cx="561.83" cy="436.43" r="2.45" fill="#1f3366"/>
<circle cx="572.3" cy="436.05" r="2.45" fill="#1f3366"/>
<circle cx="577.19" cy="435.53" r="2.45" fill="#1f3366"/>
<circle cx="588.16" cy="435.44" r="2.45" fill="#1f3366"/>
<circle cx="615.67" cy="436.17" r="2.45" fill="#1f3366"/>
<circle cx="631.46" cy="435.55" r="2.45" fill="#1f3366"/>
<circle cx="650.33" cy="436.14" r="2.45" fill="#1f3366"/>
<circle cx="473.5" cy="389" r="2.45" fill="#1f3366"/>
<circle cx="488.7" cy="390.6" r="2.45" fill="#1f3366"/>
<circle cx="479.3" cy="398.3" r="2.45" fill="#1f3366"/>
<circle cx="437.5" cy="403.1" r="2.45" fill="#1f3366"/>
<circle cx="451.1" cy="405.9" r="2.45" fill="#1f3366"/>
<circle cx="455.9" cy="407.3" r="2.45" fill="#1f3366"/>
<circle cx="462.6" cy="408" r="2.45" fill="#1f3366"/>
<circle cx="433.4" cy="418.8" r="2.45" fill="#1f3366"/>
<circle cx="440.7" cy="418.4" r="2.45" fill="#1f3366"/>
<circle cx="446" cy="420.8" r="2.45" fill="#1f3366"/>
<circle cx="451.1" cy="420.2" r="2.45" fill="#1f3366"/>
<circle cx="462.6" cy="419.8" r="2.45" fill="#1f3366"/>
<circle cx="468.9" cy="421.8" r="2.45" fill="#1f3366"/>
<circle cx="470" cy="423" r="2.45" fill="#1f3366"/>
<circle cx="507.5" cy="369.1" r="2.45" fill="#1f3366"/>
<circle cx="498.1" cy="391.7" r="2.45" fill="#1f3366"/>
<circle cx="502.3" cy="386.4" r="2.45" fill="#1f3366"/>
<circle cx="504.3" cy="392.7" r="2.45" fill="#1f3366"/>
<circle cx="506.4" cy="395.8" r="2.45" fill="#1f3366"/>
<circle cx="503.3" cy="405.2" r="2.45" fill="#1f3366"/>
<circle cx="505.4" cy="406.7" r="2.45" fill="#1f3366"/>
<circle cx="507.5" cy="408" r="2.45" fill="#1f3366"/>
<circle cx="524" cy="389.3" r="2.45" fill="#1f3366"/>
<circle cx="527.7" cy="389.3" r="2.45" fill="#1f3366"/>
<circle cx="531.3" cy="389.3" r="2.45" fill="#1f3366"/>
<circle cx="537.3" cy="389.3" r="2.45" fill="#1f3366"/>
<circle cx="545.8" cy="408.6" r="2.45" fill="#1f3366"/>
<circle cx="548.2" cy="407.9" r="2.45" fill="#1f3366"/>
<circle cx="590.3" cy="408.6" r="2.45" fill="#1f3366"/>
<circle cx="598.7" cy="411" r="2.45" fill="#1f3366"/>
<circle cx="603.6" cy="413" r="2.45" fill="#1f3366"/>
<circle cx="615.6" cy="423.8" r="2.45" fill="#1f3366"/>
<circle cx="642.1" cy="426.2" r="2.45" fill="#1f3366"/>
<circle cx="647.4" cy="423.8" r="2.45" fill="#1f3366"/>
<circle cx="648.1" cy="431.5" r="2.45" fill="#1f3366"/>
<circle cx="650.5" cy="433.2" r="2.45" fill="#1f3366"/>
<circle cx="590.3" cy="430.3" r="2.45" fill="#1f3366"/>
<circle cx="592.7" cy="431.5" r="2.45" fill="#1f3366"/>
<circle cx="596.3" cy="435" r="2.45" fill="#1f3366"/>
<circle cx="600" cy="437.5" r="2.45" fill="#1f3366"/>
<circle cx="543.4" cy="432.7" r="2.45" fill="#1f3366"/>
<circle cx="550.6" cy="431.5" r="2.45" fill="#1f3366"/>
<circle cx="557.8" cy="437.5" r="2.45" fill="#1f3366"/>
<circle cx="434" cy="426" r="2.45" fill="#1f3366"/>
<circle cx="440" cy="430" r="2.45" fill="#1f3366"/>
<circle cx="446" cy="428" r="2.45" fill="#1f3366"/>
<circle cx="455" cy="427" r="2.45" fill="#1f3366"/>
<circle cx="462" cy="431" r="2.45" fill="#1f3366"/>
<circle cx="418" cy="431" r="2.45" fill="#1f3366"/>
<circle cx="425" cy="432" r="2.45" fill="#1f3366"/>
<circle cx="430" cy="433" r="2.45" fill="#1f3366"/>
<circle cx="422" cy="428" r="2.45" fill="#1f3366"/>
<circle cx="428" cy="424" r="2.45" fill="#1f3366"/>
<circle cx="438" cy="424" r="2.45" fill="#1f3366"/>
<circle cx="444" cy="425" r="2.45" fill="#1f3366"/>
<circle cx="455" cy="423" r="2.45" fill="#1f3366"/>
<circle cx="415" cy="434" r="2.45" fill="#1f3366"/>
<circle cx="426" cy="436" r="2.45" fill="#1f3366"/>
<circle cx="470" cy="431" r="2.45" fill="#1f3366"/>
<circle cx="476" cy="433" r="2.45" fill="#1f3366"/>
<circle cx="488" cy="432" r="2.45" fill="#1f3366"/>
<circle cx="494" cy="436" r="2.45" fill="#1f3366"/>
<circle cx="503" cy="430" r="2.45" fill="#1f3366"/>
<circle cx="508" cy="431" r="2.45" fill="#1f3366"/>
<circle cx="512" cy="433" r="2.45" fill="#1f3366"/>
<circle cx="500" cy="386" r="2.45" fill="#1f3366"/>
<circle cx="498" cy="373.5" r="2.45" fill="#8cc3e4"/>
<circle cx="504.8" cy="377.3" r="2.45" fill="#8cc3e4"/>
<circle cx="508.4" cy="377.3" r="2.45" fill="#8cc3e4"/>
<circle cx="513.2" cy="377.3" r="2.45" fill="#8cc3e4"/>
<circle cx="518" cy="379" r="2.45" fill="#8cc3e4"/>
<circle cx="514.5" cy="382.8" r="2.45" fill="#8cc3e4"/>
<circle cx="524" cy="382.1" r="2.45" fill="#8cc3e4"/>
<circle cx="527.7" cy="382.1" r="2.45" fill="#8cc3e4"/>
<circle cx="532.5" cy="382.8" r="2.45" fill="#8cc3e4"/>
<circle cx="538.5" cy="379.7" r="2.45" fill="#8cc3e4"/>
<circle cx="548.2" cy="383.8" r="2.45" fill="#8cc3e4"/>
<circle cx="542.1" cy="394.1" r="2.45" fill="#8cc3e4"/>
<circle cx="547" cy="396.6" r="2.45" fill="#8cc3e4"/>
<circle cx="522.9" cy="432" r="2.45" fill="#8cc3e4"/>
<circle cx="607.2" cy="431" r="2.45" fill="#8cc3e4"/>
<circle cx="521" cy="384" r="2.45" fill="#8cc3e4"/>
<circle cx="510" cy="382" r="2.45" fill="#8cc3e4"/>
<circle cx="506" cy="382" r="2.45" fill="#8cc3e4"/>
<circle cx="504" cy="443" r="2.45" fill="#8cc3e4"/>
<circle cx="512" cy="445" r="2.45" fill="#8cc3e4"/>
<circle cx="520" cy="444" r="2.45" fill="#8cc3e4"/>
<circle cx="528" cy="443" r="2.45" fill="#8cc3e4"/>
<circle cx="536" cy="444" r="2.45" fill="#8cc3e4"/>
<circle cx="515.7" cy="371.3" r="2.45" fill="#6aaa3a"/>
<circle cx="519.3" cy="376.1" r="2.45" fill="#6aaa3a"/>
<circle cx="538.5" cy="411" r="2.45" fill="#6aaa3a"/>
<circle cx="535.6" cy="429" r="2.45" fill="#6aaa3a"/>
<circle cx="517.5" cy="374" r="2.45" fill="#6aaa3a"/>
<circle cx="521" cy="373" r="2.45" fill="#6aaa3a"/>
<circle cx="532.5" cy="412.7" r="2.45" fill="#eba03a"/>
<circle cx="514.4" cy="360.8" r="2.45" fill="#d7261e"/>
<circle cx="526.5" cy="362.1" r="2.45" fill="#d7261e"/>
<circle cx="528.9" cy="361.6" r="2.45" fill="#d7261e"/>
<circle cx="531.3" cy="361.2" r="2.45" fill="#d7261e"/>
<circle cx="532.5" cy="357.3" r="2.45" fill="#d7261e"/>
<circle cx="537.3" cy="361.2" r="2.45" fill="#d7261e"/>
<circle cx="524" cy="369.3" r="2.45" fill="#d7261e"/>
<circle cx="526.5" cy="372.5" r="2.45" fill="#d7261e"/>
<circle cx="530.1" cy="373.2" r="2.45" fill="#d7261e"/>
</g>
<text x="452.6" y="364.9" font-size="7.3" text-anchor="start" fill="#1a1a1a">rs8176719</text><text x="452.6" y="374.3" font-size="7.3" text-anchor="start" fill="#1a1a1a">(β<tspan font-size="5.0" dy="1.9">T</tspan><tspan dy="-1.9">=0.054)</tspan></text><path d="M489.7 366.6L498.6 366.6" stroke="#ee2a2a" stroke-width="0.8" fill="none"/><path d="M498.6 366.6L496.6 367.6L496.6 365.6Z" fill="#ee2a2a"/><path d="M498.70 368.74L505.90 368.74L502.30 363.70Z" fill="#5e3f8f" stroke="#1a1030" stroke-width="0.5"/><text x="499.5" y="399.1" font-size="7.3" text-anchor="start" fill="#1a1a1a">rs8176746</text><text x="499.3" y="407.6" font-size="7.3" text-anchor="start" fill="#1a1a1a">(β<tspan font-size="5.0" dy="1.9">G</tspan><tspan dy="-1.9">=0.089)</tspan></text><path d="M504.6 393.0L501.2 389.6" stroke="#ee2a2a" stroke-width="0.8" fill="none"/><path d="M501.2 389.6L503.3 390.3L501.9 391.7Z" fill="#ee2a2a"/><path d="M497.20 385.25L503.20 385.25L500.20 389.45Z" fill="#5e3f8f" stroke="#1a1030" stroke-width="0.5"/>
<rect x="632.5" y="352.7" width="29.1" height="64.3" fill="#fff" stroke="#333" stroke-width="0.75"/>
<rect x="650.7" y="355.4" width="10.2" height="10" fill="#d7261e"/>
<rect x="650.7" y="365.35" width="10.2" height="10" fill="#eba03a"/>
<rect x="650.7" y="375.3" width="10.2" height="10" fill="#6aaa3a"/>
<rect x="650.7" y="385.25" width="10.2" height="10" fill="#8cc3e4"/>
<rect x="650.7" y="395.2" width="10.2" height="10" fill="#17284f"/>
<text x="647" y="367.35" font-size="5.6" text-anchor="end" fill="#1a1a1a">0.8</text>
<line x1="648.8" y1="365.35" x2="650.5" y2="365.35" stroke="#333" stroke-width="0.5"/>
<text x="647" y="377.3" font-size="5.6" text-anchor="end" fill="#1a1a1a">0.6</text>
<line x1="648.8" y1="375.3" x2="650.5" y2="375.3" stroke="#333" stroke-width="0.5"/>
<text x="647" y="387.25" font-size="5.6" text-anchor="end" fill="#1a1a1a">0.4</text>
<line x1="648.8" y1="385.25" x2="650.5" y2="385.25" stroke="#333" stroke-width="0.5"/>
<text x="647" y="397.2" font-size="5.6" text-anchor="end" fill="#1a1a1a">0.2</text>
<line x1="648.8" y1="395.2" x2="650.5" y2="395.2" stroke="#333" stroke-width="0.5"/>
<text x="656.2" y="413.9" font-size="5.8" text-anchor="middle" fill="#1a1a1a">r2</text>
</g>
<rect x="377.4" y="352.3" width="286.2" height="100" fill="none" stroke="#8a8a8a" stroke-width="0.9"/>
<line x1="377.4" y1="452.3" x2="664.0500000000001" y2="452.3" stroke="#333" stroke-width="0.95"/>
<line x1="377.4" y1="351.85" x2="377.4" y2="452.75" stroke="#222" stroke-width="0.95"/>
<g>
<line x1="375.0" y1="548" x2="377.4" y2="548" stroke="#222" stroke-width="0.8"/>
<text x="372.9" y="550.8" font-size="6.4" text-anchor="end" fill="#1a1a1a">0</text>
<line x1="375.0" y1="534.6" x2="377.4" y2="534.6" stroke="#222" stroke-width="0.8"/>
<text x="372.9" y="537.4" font-size="6.4" text-anchor="end" fill="#1a1a1a">2</text>
<line x1="375.0" y1="521.2" x2="377.4" y2="521.2" stroke="#222" stroke-width="0.8"/>
<text x="372.9" y="524" font-size="6.4" text-anchor="end" fill="#1a1a1a">4</text>
<line x1="375.0" y1="507.8" x2="377.4" y2="507.8" stroke="#222" stroke-width="0.8"/>
<text x="372.9" y="510.6" font-size="6.4" text-anchor="end" fill="#1a1a1a">6</text>
<line x1="375.0" y1="494.4" x2="377.4" y2="494.4" stroke="#222" stroke-width="0.8"/>
<text x="372.9" y="497.2" font-size="6.4" text-anchor="end" fill="#1a1a1a">8</text>
<line x1="375.0" y1="481" x2="377.4" y2="481" stroke="#222" stroke-width="0.8"/>
<text x="372.9" y="483.8" font-size="6.4" text-anchor="end" fill="#1a1a1a">10</text>
<line x1="375.0" y1="467.6" x2="377.4" y2="467.6" stroke="#222" stroke-width="0.8"/>
<text x="372.9" y="470.4" font-size="6.4" text-anchor="end" fill="#1a1a1a">12</text>
<line x1="375.0" y1="454.2" x2="377.4" y2="454.2" stroke="#222" stroke-width="0.8"/>
<text x="372.9" y="457" font-size="6.4" text-anchor="end" fill="#1a1a1a">14</text>
<text transform="translate(362.0,502.3) rotate(-90)" font-size="7.2" text-anchor="middle" fill="#1a1a1a">-log10(P)</text>
<line x1="377.4" y1="499.1" x2="663.6" y2="499.1" stroke="#a3a3a3" stroke-width="1" stroke-dasharray="4.9 2.55"/>
<use href="#ic-blood" x="380.9" y="454.7" width="13.1" height="21.3"/>
<g stroke="#0a0a12" stroke-width="0.7">
<circle cx="389.78" cy="547.01" r="2.45" fill="#1f3366"/>
<circle cx="392.06" cy="547.82" r="2.45" fill="#1f3366"/>
<circle cx="395.77" cy="547.22" r="2.45" fill="#1f3366"/>
<circle cx="399.2" cy="547.94" r="2.45" fill="#1f3366"/>
<circle cx="403.07" cy="547.09" r="2.45" fill="#1f3366"/>
<circle cx="407.48" cy="547.75" r="2.45" fill="#1f3366"/>
<circle cx="410.64" cy="547.66" r="2.45" fill="#1f3366"/>
<circle cx="413.84" cy="547.88" r="2.45" fill="#1f3366"/>
<circle cx="415.4" cy="547.67" r="2.45" fill="#1f3366"/>
<circle cx="420.38" cy="547.4" r="2.45" fill="#1f3366"/>
<circle cx="423.4" cy="547.45" r="2.45" fill="#1f3366"/>
<circle cx="425.84" cy="547.61" r="2.45" fill="#1f3366"/>
<circle cx="428.95" cy="547.14" r="2.45" fill="#1f3366"/>
<circle cx="432.43" cy="547.3" r="2.45" fill="#1f3366"/>
<circle cx="434.76" cy="546.8" r="2.45" fill="#1f3366"/>
<circle cx="437.84" cy="547.89" r="2.45" fill="#1f3366"/>
<circle cx="442.05" cy="547.94" r="2.45" fill="#1f3366"/>
<circle cx="444.98" cy="546.61" r="2.45" fill="#1f3366"/>
<circle cx="446.87" cy="547.89" r="2.45" fill="#1f3366"/>
<circle cx="451.42" cy="547.32" r="2.45" fill="#1f3366"/>
<circle cx="453.78" cy="547.1" r="2.45" fill="#1f3366"/>
<circle cx="458.13" cy="547.55" r="2.45" fill="#1f3366"/>
<circle cx="460.55" cy="547.16" r="2.45" fill="#1f3366"/>
<circle cx="464.76" cy="547.95" r="2.45" fill="#1f3366"/>
<circle cx="467.63" cy="547.99" r="2.45" fill="#1f3366"/>
<circle cx="470.98" cy="546.84" r="2.45" fill="#1f3366"/>
<circle cx="473.99" cy="547.32" r="2.45" fill="#1f3366"/>
<circle cx="476.43" cy="547.75" r="2.45" fill="#1f3366"/>
<circle cx="480.11" cy="546.82" r="2.45" fill="#1f3366"/>
<circle cx="483.2" cy="546.86" r="2.45" fill="#1f3366"/>
<circle cx="486.13" cy="547.09" r="2.45" fill="#1f3366"/>
<circle cx="489.35" cy="547.18" r="2.45" fill="#1f3366"/>
<circle cx="494.16" cy="546.61" r="2.45" fill="#1f3366"/>
<circle cx="496.97" cy="547.54" r="2.45" fill="#1f3366"/>
<circle cx="499.72" cy="546.97" r="2.45" fill="#1f3366"/>
<circle cx="503.97" cy="547.4" r="2.45" fill="#1f3366"/>
<circle cx="505.78" cy="547.66" r="2.45" fill="#1f3366"/>
<circle cx="508.45" cy="547.33" r="2.45" fill="#1f3366"/>
<circle cx="513.3" cy="546.69" r="2.45" fill="#1f3366"/>
<circle cx="515.03" cy="547.6" r="2.45" fill="#1f3366"/>
<circle cx="517.99" cy="546.74" r="2.45" fill="#1f3366"/>
<circle cx="522.09" cy="547.23" r="2.45" fill="#1f3366"/>
<circle cx="526.07" cy="547.42" r="2.45" fill="#1f3366"/>
<circle cx="529.7" cy="546.95" r="2.45" fill="#1f3366"/>
<circle cx="532.62" cy="547.04" r="2.45" fill="#1f3366"/>
<circle cx="535.7" cy="547.44" r="2.45" fill="#1f3366"/>
<circle cx="540.79" cy="546.94" r="2.45" fill="#1f3366"/>
<circle cx="542.74" cy="547.03" r="2.45" fill="#1f3366"/>
<circle cx="547.57" cy="546.94" r="2.45" fill="#1f3366"/>
<circle cx="549.37" cy="547.96" r="2.45" fill="#1f3366"/>
<circle cx="552.21" cy="547.35" r="2.45" fill="#1f3366"/>
<circle cx="555.24" cy="546.77" r="2.45" fill="#1f3366"/>
<circle cx="559.36" cy="546.87" r="2.45" fill="#1f3366"/>
<circle cx="561.97" cy="547.53" r="2.45" fill="#1f3366"/>
<circle cx="566.08" cy="546.73" r="2.45" fill="#1f3366"/>
<circle cx="568.08" cy="547.22" r="2.45" fill="#1f3366"/>
<circle cx="571.98" cy="547.09" r="2.45" fill="#1f3366"/>
<circle cx="576.93" cy="546.89" r="2.45" fill="#1f3366"/>
<circle cx="579.8" cy="547.23" r="2.45" fill="#1f3366"/>
<circle cx="582.55" cy="547.86" r="2.45" fill="#1f3366"/>
<circle cx="585.97" cy="547.45" r="2.45" fill="#1f3366"/>
<circle cx="588.6" cy="547.32" r="2.45" fill="#1f3366"/>
<circle cx="593" cy="547.14" r="2.45" fill="#1f3366"/>
<circle cx="595.83" cy="547.15" r="2.45" fill="#1f3366"/>
<circle cx="599.31" cy="547.05" r="2.45" fill="#1f3366"/>
<circle cx="602.41" cy="547.11" r="2.45" fill="#1f3366"/>
<circle cx="604.92" cy="547.04" r="2.45" fill="#1f3366"/>
<circle cx="608.81" cy="547" r="2.45" fill="#1f3366"/>
<circle cx="612.04" cy="547.84" r="2.45" fill="#1f3366"/>
<circle cx="615.14" cy="546.64" r="2.45" fill="#1f3366"/>
<circle cx="618.86" cy="547.18" r="2.45" fill="#1f3366"/>
<circle cx="622.26" cy="547.79" r="2.45" fill="#1f3366"/>
<circle cx="625.21" cy="546.76" r="2.45" fill="#1f3366"/>
<circle cx="630.04" cy="546.66" r="2.45" fill="#1f3366"/>
<circle cx="631.75" cy="547.02" r="2.45" fill="#1f3366"/>
<circle cx="635.04" cy="547.49" r="2.45" fill="#1f3366"/>
<circle cx="638.22" cy="547.6" r="2.45" fill="#1f3366"/>
<circle cx="641.3" cy="547.09" r="2.45" fill="#1f3366"/>
<circle cx="643.93" cy="547" r="2.45" fill="#1f3366"/>
<circle cx="646.2" cy="546.67" r="2.45" fill="#1f3366"/>
<circle cx="649.37" cy="546.89" r="2.45" fill="#1f3366"/>
<circle cx="391.34" cy="544.35" r="2.45" fill="#1f3366"/>
<circle cx="396.12" cy="543.61" r="2.45" fill="#1f3366"/>
<circle cx="398.5" cy="544.77" r="2.45" fill="#1f3366"/>
<circle cx="403.31" cy="544.23" r="2.45" fill="#1f3366"/>
<circle cx="410.69" cy="544.77" r="2.45" fill="#1f3366"/>
<circle cx="413.03" cy="544.36" r="2.45" fill="#1f3366"/>
<circle cx="418.22" cy="544.84" r="2.45" fill="#1f3366"/>
<circle cx="421.8" cy="543.21" r="2.45" fill="#1f3366"/>
<circle cx="425.26" cy="543.66" r="2.45" fill="#1f3366"/>
<circle cx="429.12" cy="543.53" r="2.45" fill="#1f3366"/>
<circle cx="432.07" cy="544.78" r="2.45" fill="#1f3366"/>
<circle cx="436.29" cy="543.36" r="2.45" fill="#1f3366"/>
<circle cx="440.1" cy="544.09" r="2.45" fill="#1f3366"/>
<circle cx="447.94" cy="544.48" r="2.45" fill="#1f3366"/>
<circle cx="455.36" cy="543.21" r="2.45" fill="#1f3366"/>
<circle cx="462.78" cy="543.68" r="2.45" fill="#1f3366"/>
<circle cx="466.61" cy="543.23" r="2.45" fill="#1f3366"/>
<circle cx="470.41" cy="543.25" r="2.45" fill="#1f3366"/>
<circle cx="474.32" cy="543.3" r="2.45" fill="#1f3366"/>
<circle cx="477.5" cy="544.08" r="2.45" fill="#1f3366"/>
<circle cx="481.1" cy="544.23" r="2.45" fill="#1f3366"/>
<circle cx="485.1" cy="543.54" r="2.45" fill="#1f3366"/>
<circle cx="492.6" cy="543.43" r="2.45" fill="#1f3366"/>
<circle cx="497.67" cy="543.4" r="2.45" fill="#1f3366"/>
<circle cx="501.72" cy="543.69" r="2.45" fill="#1f3366"/>
<circle cx="504.24" cy="543.76" r="2.45" fill="#1f3366"/>
<circle cx="508.96" cy="543.53" r="2.45" fill="#1f3366"/>
<circle cx="511.56" cy="544.58" r="2.45" fill="#1f3366"/>
<circle cx="516.26" cy="543.99" r="2.45" fill="#1f3366"/>
<circle cx="522.09" cy="544.34" r="2.45" fill="#1f3366"/>
<circle cx="526.68" cy="543.26" r="2.45" fill="#1f3366"/>
<circle cx="528.36" cy="544.4" r="2.45" fill="#1f3366"/>
<circle cx="532.28" cy="544.52" r="2.45" fill="#1f3366"/>
<circle cx="535.63" cy="544.03" r="2.45" fill="#1f3366"/>
<circle cx="538.92" cy="544.3" r="2.45" fill="#1f3366"/>
<circle cx="542.9" cy="543.63" r="2.45" fill="#1f3366"/>
<circle cx="546.89" cy="543.45" r="2.45" fill="#1f3366"/>
<circle cx="550.08" cy="544.85" r="2.45" fill="#1f3366"/>
<circle cx="555.48" cy="544.83" r="2.45" fill="#1f3366"/>
<circle cx="558.04" cy="544.32" r="2.45" fill="#1f3366"/>
<circle cx="562.87" cy="544.82" r="2.45" fill="#1f3366"/>
<circle cx="566.19" cy="543.72" r="2.45" fill="#1f3366"/>
<circle cx="574.17" cy="543.25" r="2.45" fill="#1f3366"/>
<circle cx="578.49" cy="543.85" r="2.45" fill="#1f3366"/>
<circle cx="582.05" cy="543.31" r="2.45" fill="#1f3366"/>
<circle cx="585.49" cy="543.3" r="2.45" fill="#1f3366"/>
<circle cx="589.25" cy="544.06" r="2.45" fill="#1f3366"/>
<circle cx="593.31" cy="543.51" r="2.45" fill="#1f3366"/>
<circle cx="600.32" cy="543.83" r="2.45" fill="#1f3366"/>
<circle cx="604.56" cy="544.09" r="2.45" fill="#1f3366"/>
<circle cx="607.57" cy="544.88" r="2.45" fill="#1f3366"/>
<circle cx="616.31" cy="544.83" r="2.45" fill="#1f3366"/>
<circle cx="620.17" cy="544.5" r="2.45" fill="#1f3366"/>
<circle cx="634.55" cy="544.7" r="2.45" fill="#1f3366"/>
<circle cx="638.8" cy="544.75" r="2.45" fill="#1f3366"/>
<circle cx="647.89" cy="544.32" r="2.45" fill="#1f3366"/>
<circle cx="400.72" cy="541.2" r="2.45" fill="#1f3366"/>
<circle cx="402.91" cy="540.89" r="2.45" fill="#1f3366"/>
<circle cx="414.03" cy="540.25" r="2.45" fill="#1f3366"/>
<circle cx="419.03" cy="540.1" r="2.45" fill="#1f3366"/>
<circle cx="441.29" cy="541.14" r="2.45" fill="#1f3366"/>
<circle cx="445.76" cy="540.52" r="2.45" fill="#1f3366"/>
<circle cx="455.05" cy="540.23" r="2.45" fill="#1f3366"/>
<circle cx="460.95" cy="540.76" r="2.45" fill="#1f3366"/>
<circle cx="464.77" cy="541.47" r="2.45" fill="#1f3366"/>
<circle cx="478.78" cy="540.21" r="2.45" fill="#1f3366"/>
<circle cx="510.25" cy="540.39" r="2.45" fill="#1f3366"/>
<circle cx="524.88" cy="540.91" r="2.45" fill="#1f3366"/>
<circle cx="531.28" cy="541.04" r="2.45" fill="#1f3366"/>
<circle cx="540.45" cy="541.59" r="2.45" fill="#1f3366"/>
<circle cx="550.09" cy="541.04" r="2.45" fill="#1f3366"/>
<circle cx="554.18" cy="540.01" r="2.45" fill="#1f3366"/>
<circle cx="585.94" cy="540.2" r="2.45" fill="#1f3366"/>
<circle cx="594.1" cy="541.59" r="2.45" fill="#1f3366"/>
<circle cx="598.38" cy="540.04" r="2.45" fill="#1f3366"/>
<circle cx="602.89" cy="540.54" r="2.45" fill="#1f3366"/>
<circle cx="617" cy="540.36" r="2.45" fill="#1f3366"/>
<circle cx="624.47" cy="540.62" r="2.45" fill="#1f3366"/>
<circle cx="629.42" cy="541.07" r="2.45" fill="#1f3366"/>
<circle cx="633.48" cy="540.98" r="2.45" fill="#1f3366"/>
<circle cx="636.97" cy="540.51" r="2.45" fill="#1f3366"/>
<circle cx="645.04" cy="541.56" r="2.45" fill="#1f3366"/>
<circle cx="498.7" cy="508" r="2.45" fill="#1f3366"/>
<circle cx="503.5" cy="511.6" r="2.45" fill="#1f3366"/>
<circle cx="506.6" cy="512.6" r="2.45" fill="#1f3366"/>
<circle cx="510" cy="511.6" r="2.45" fill="#1f3366"/>
<circle cx="514.4" cy="510.5" r="2.45" fill="#1f3366"/>
<circle cx="516.5" cy="512.6" r="2.45" fill="#1f3366"/>
<circle cx="519" cy="511" r="2.45" fill="#1f3366"/>
<circle cx="527.7" cy="512.2" r="2.45" fill="#1f3366"/>
<circle cx="533.7" cy="512.2" r="2.45" fill="#1f3366"/>
<circle cx="415.6" cy="532.4" r="2.45" fill="#1f3366"/>
<circle cx="458.4" cy="534.5" r="2.45" fill="#1f3366"/>
<circle cx="472" cy="535" r="2.45" fill="#1f3366"/>
<circle cx="485.6" cy="537.6" r="2.45" fill="#1f3366"/>
<circle cx="491.4" cy="539.7" r="2.45" fill="#1f3366"/>
<circle cx="457.4" cy="538" r="2.45" fill="#1f3366"/>
<circle cx="466.8" cy="539.3" r="2.45" fill="#1f3366"/>
<circle cx="535.6" cy="524.3" r="2.45" fill="#1f3366"/>
<circle cx="542.1" cy="530.3" r="2.45" fill="#1f3366"/>
<circle cx="545.8" cy="531.5" r="2.45" fill="#1f3366"/>
<circle cx="548.2" cy="533.9" r="2.45" fill="#1f3366"/>
<circle cx="559" cy="530.3" r="2.45" fill="#1f3366"/>
<circle cx="563.8" cy="530.3" r="2.45" fill="#1f3366"/>
<circle cx="569.8" cy="532.7" r="2.45" fill="#1f3366"/>
<circle cx="578.3" cy="538.7" r="2.45" fill="#1f3366"/>
<circle cx="584.3" cy="536.3" r="2.45" fill="#1f3366"/>
<circle cx="589.1" cy="529.6" r="2.45" fill="#1f3366"/>
<circle cx="590.3" cy="535.1" r="2.45" fill="#1f3366"/>
<circle cx="622.8" cy="524.7" r="2.45" fill="#1f3366"/>
<circle cx="615.6" cy="530.3" r="2.45" fill="#1f3366"/>
<circle cx="630.1" cy="531" r="2.45" fill="#1f3366"/>
<circle cx="642" cy="535" r="2.45" fill="#1f3366"/>
<circle cx="646.9" cy="535" r="2.45" fill="#1f3366"/>
<circle cx="651.7" cy="539.9" r="2.45" fill="#1f3366"/>
<circle cx="412" cy="537" r="2.45" fill="#1f3366"/>
<circle cx="405" cy="538" r="2.45" fill="#1f3366"/>
<circle cx="420" cy="538" r="2.45" fill="#1f3366"/>
<circle cx="514.4" cy="490.2" r="2.45" fill="#8cc3e4"/>
<circle cx="518" cy="493.4" r="2.45" fill="#8cc3e4"/>
<circle cx="514.5" cy="489.3" r="2.45" fill="#8cc3e4"/>
<circle cx="524" cy="489.3" r="2.45" fill="#8cc3e4"/>
<circle cx="526.5" cy="490.5" r="2.45" fill="#8cc3e4"/>
<circle cx="528.9" cy="489.3" r="2.45" fill="#8cc3e4"/>
<circle cx="531.3" cy="488.1" r="2.45" fill="#8cc3e4"/>
<circle cx="524" cy="494.1" r="2.45" fill="#8cc3e4"/>
<circle cx="527.7" cy="494.1" r="2.45" fill="#8cc3e4"/>
<circle cx="530.1" cy="494.1" r="2.45" fill="#8cc3e4"/>
<circle cx="551.8" cy="523" r="2.45" fill="#8cc3e4"/>
<circle cx="549.4" cy="527.1" r="2.45" fill="#8cc3e4"/>
<circle cx="538.5" cy="529.6" r="2.45" fill="#8cc3e4"/>
<circle cx="566.2" cy="535.1" r="2.45" fill="#8cc3e4"/>
<circle cx="410.4" cy="524.4" r="2.45" fill="#8cc3e4"/>
<circle cx="520" cy="492" r="2.45" fill="#8cc3e4"/>
<circle cx="532.5" cy="474.4" r="2.45" fill="#6aaa3a"/>
<circle cx="546.5" cy="488.1" r="2.45" fill="#6aaa3a"/>
<circle cx="537.3" cy="491.3" r="2.45" fill="#6aaa3a"/>
<circle cx="523.6" cy="459.2" r="2.45" fill="#d7261e"/>
<circle cx="537.3" cy="456.8" r="2.45" fill="#d7261e"/>
<circle cx="539" cy="458" r="2.45" fill="#d7261e"/>
<circle cx="548.2" cy="461.2" r="2.45" fill="#d7261e"/>
<circle cx="542.1" cy="468.4" r="2.45" fill="#d7261e"/>
<circle cx="547" cy="470.8" r="2.45" fill="#d7261e"/>
<circle cx="548.2" cy="471.7" r="2.45" fill="#d7261e"/>
</g>
<text x="491.4" y="471.6" font-size="7.3" text-anchor="start" fill="#1a1a1a">rs8176719</text><text x="491.2" y="481.2" font-size="7.3" text-anchor="start" fill="#1a1a1a">(β<tspan font-size="5.0" dy="1.9">T</tspan><tspan dy="-1.9">=0.039)</tspan></text><path d="M504.50 487.64L511.70 487.64L508.10 482.60Z" fill="#5e3f8f" stroke="#1a1030" stroke-width="0.5"/><text x="486.6" y="526.5" font-size="7.3" text-anchor="start" fill="#1a1a1a">rs8176746</text><text x="485.4" y="534.5" font-size="7.3" text-anchor="start" fill="#1a1a1a">(β<tspan font-size="5.0" dy="1.9">G</tspan><tspan dy="-1.9">=-0.017)</tspan></text><path d="M505.5 536.0L505.5 540.2" stroke="#ee2a2a" stroke-width="0.8" fill="none"/><path d="M505.5 540.2L504.5 538.2L506.5 538.2Z" fill="#ee2a2a"/><path d="M502.40 540.85L508.40 540.85L505.40 545.05Z" fill="#5e3f8f" stroke="#1a1030" stroke-width="0.5"/>
<rect x="632.5" y="452.7" width="29.1" height="64.3" fill="#fff" stroke="#333" stroke-width="0.75"/>
<rect x="650.7" y="455.4" width="10.2" height="10" fill="#d7261e"/>
<rect x="650.7" y="465.35" width="10.2" height="10" fill="#eba03a"/>
<rect x="650.7" y="475.3" width="10.2" height="10" fill="#6aaa3a"/>
<rect x="650.7" y="485.25" width="10.2" height="10" fill="#8cc3e4"/>
<rect x="650.7" y="495.2" width="10.2" height="10" fill="#17284f"/>
<text x="647" y="467.35" font-size="5.6" text-anchor="end" fill="#1a1a1a">0.8</text>
<line x1="648.8" y1="465.35" x2="650.5" y2="465.35" stroke="#333" stroke-width="0.5"/>
<text x="647" y="477.3" font-size="5.6" text-anchor="end" fill="#1a1a1a">0.6</text>
<line x1="648.8" y1="475.3" x2="650.5" y2="475.3" stroke="#333" stroke-width="0.5"/>
<text x="647" y="487.25" font-size="5.6" text-anchor="end" fill="#1a1a1a">0.4</text>
<line x1="648.8" y1="485.25" x2="650.5" y2="485.25" stroke="#333" stroke-width="0.5"/>
<text x="647" y="497.2" font-size="5.6" text-anchor="end" fill="#1a1a1a">0.2</text>
<line x1="648.8" y1="495.2" x2="650.5" y2="495.2" stroke="#333" stroke-width="0.5"/>
<text x="656.2" y="513.9" font-size="5.8" text-anchor="middle" fill="#1a1a1a">r2</text>
</g>
<rect x="377.4" y="452.3" width="286.2" height="100" fill="none" stroke="#8a8a8a" stroke-width="0.9"/>
<line x1="377.4" y1="552.3" x2="664.0500000000001" y2="552.3" stroke="#333" stroke-width="0.95"/>
<line x1="377.4" y1="451.85" x2="377.4" y2="552.75" stroke="#222" stroke-width="0.95"/>
<g>
<line x1="375.0" y1="647.9" x2="377.4" y2="647.9" stroke="#222" stroke-width="0.8"/>
<text x="372.9" y="650.7" font-size="6.4" text-anchor="end" fill="#1a1a1a">0</text>
<line x1="375.0" y1="623" x2="377.4" y2="623" stroke="#222" stroke-width="0.8"/>
<text x="372.9" y="625.8" font-size="6.4" text-anchor="end" fill="#1a1a1a">2</text>
<line x1="375.0" y1="598.1" x2="377.4" y2="598.1" stroke="#222" stroke-width="0.8"/>
<text x="372.9" y="600.9" font-size="6.4" text-anchor="end" fill="#1a1a1a">4</text>
<line x1="375.0" y1="573.2" x2="377.4" y2="573.2" stroke="#222" stroke-width="0.8"/>
<text x="372.9" y="576" font-size="6.4" text-anchor="end" fill="#1a1a1a">6</text>
<text transform="translate(362.0,602.2) rotate(-90)" font-size="7.2" text-anchor="middle" fill="#1a1a1a">-log10(P)</text>
<line x1="377.4" y1="556.9" x2="663.6" y2="556.9" stroke="#a3a3a3" stroke-width="1" stroke-dasharray="4.9 2.55"/>
<use href="#ic-lung" x="382.9" y="555" width="18.1" height="17.9"/>
<g stroke="#0a0a12" stroke-width="0.7">
<circle cx="388.85" cy="647.29" r="2.45" fill="#1f3366"/>
<circle cx="399.28" cy="647.16" r="2.45" fill="#1f3366"/>
<circle cx="401.58" cy="647.68" r="2.45" fill="#1f3366"/>
<circle cx="405.26" cy="647.18" r="2.45" fill="#1f3366"/>
<circle cx="409.22" cy="646.45" r="2.45" fill="#1f3366"/>
<circle cx="412.08" cy="647.5" r="2.45" fill="#1f3366"/>
<circle cx="416.25" cy="647.09" r="2.45" fill="#1f3366"/>
<circle cx="419.61" cy="647.39" r="2.45" fill="#1f3366"/>
<circle cx="423.38" cy="647.44" r="2.45" fill="#1f3366"/>
<circle cx="426.89" cy="646.93" r="2.45" fill="#1f3366"/>
<circle cx="429.94" cy="646.41" r="2.45" fill="#1f3366"/>
<circle cx="432.13" cy="647.44" r="2.45" fill="#1f3366"/>
<circle cx="434.7" cy="647.41" r="2.45" fill="#1f3366"/>
<circle cx="443.77" cy="647.7" r="2.45" fill="#1f3366"/>
<circle cx="447.03" cy="647.38" r="2.45" fill="#1f3366"/>
<circle cx="451.03" cy="647.44" r="2.45" fill="#1f3366"/>
<circle cx="454.83" cy="647.22" r="2.45" fill="#1f3366"/>
<circle cx="458" cy="646.72" r="2.45" fill="#1f3366"/>
<circle cx="462.64" cy="646.3" r="2.45" fill="#1f3366"/>
<circle cx="466.6" cy="646.3" r="2.45" fill="#1f3366"/>
<circle cx="470.3" cy="647.71" r="2.45" fill="#1f3366"/>
<circle cx="472.96" cy="646.62" r="2.45" fill="#1f3366"/>
<circle cx="476.27" cy="647.41" r="2.45" fill="#1f3366"/>
<circle cx="481.28" cy="646.55" r="2.45" fill="#1f3366"/>
<circle cx="484.69" cy="647.59" r="2.45" fill="#1f3366"/>
<circle cx="487.72" cy="646.65" r="2.45" fill="#1f3366"/>
<circle cx="491.04" cy="646.46" r="2.45" fill="#1f3366"/>
<circle cx="494.15" cy="647.13" r="2.45" fill="#1f3366"/>
<circle cx="499.01" cy="646.78" r="2.45" fill="#1f3366"/>
<circle cx="501.88" cy="647.58" r="2.45" fill="#1f3366"/>
<circle cx="505.99" cy="646.38" r="2.45" fill="#1f3366"/>
<circle cx="515.68" cy="646.36" r="2.45" fill="#1f3366"/>
<circle cx="517.57" cy="646.74" r="2.45" fill="#1f3366"/>
<circle cx="523.07" cy="647.77" r="2.45" fill="#1f3366"/>
<circle cx="525.61" cy="647.3" r="2.45" fill="#1f3366"/>
<circle cx="527.4" cy="646.89" r="2.45" fill="#1f3366"/>
<circle cx="535.61" cy="646.39" r="2.45" fill="#1f3366"/>
<circle cx="538.36" cy="646.49" r="2.45" fill="#1f3366"/>
<circle cx="542.68" cy="647" r="2.45" fill="#1f3366"/>
<circle cx="545.12" cy="647.67" r="2.45" fill="#1f3366"/>
<circle cx="549.11" cy="647.61" r="2.45" fill="#1f3366"/>
<circle cx="551.75" cy="646.62" r="2.45" fill="#1f3366"/>
<circle cx="558.62" cy="646.78" r="2.45" fill="#1f3366"/>
<circle cx="561.41" cy="647.07" r="2.45" fill="#1f3366"/>
<circle cx="565.53" cy="647.6" r="2.45" fill="#1f3366"/>
<circle cx="568.35" cy="646.87" r="2.45" fill="#1f3366"/>
<circle cx="572.78" cy="646.86" r="2.45" fill="#1f3366"/>
<circle cx="575.05" cy="647.17" r="2.45" fill="#1f3366"/>
<circle cx="580.26" cy="646.8" r="2.45" fill="#1f3366"/>
<circle cx="582.52" cy="647.55" r="2.45" fill="#1f3366"/>
<circle cx="586.41" cy="647.31" r="2.45" fill="#1f3366"/>
<circle cx="590.4" cy="646.7" r="2.45" fill="#1f3366"/>
<circle cx="598.59" cy="647.15" r="2.45" fill="#1f3366"/>
<circle cx="603.15" cy="647.39" r="2.45" fill="#1f3366"/>
<circle cx="606.06" cy="647.04" r="2.45" fill="#1f3366"/>
<circle cx="609.64" cy="647.21" r="2.45" fill="#1f3366"/>
<circle cx="613.68" cy="646.62" r="2.45" fill="#1f3366"/>
<circle cx="618.07" cy="647.04" r="2.45" fill="#1f3366"/>
<circle cx="620.61" cy="647.68" r="2.45" fill="#1f3366"/>
<circle cx="624.77" cy="647.5" r="2.45" fill="#1f3366"/>
<circle cx="628.29" cy="646.94" r="2.45" fill="#1f3366"/>
<circle cx="632.15" cy="647.59" r="2.45" fill="#1f3366"/>
<circle cx="634.75" cy="647.51" r="2.45" fill="#1f3366"/>
<circle cx="636.66" cy="646.36" r="2.45" fill="#1f3366"/>
<circle cx="640.34" cy="646.92" r="2.45" fill="#1f3366"/>
<circle cx="643.88" cy="647.31" r="2.45" fill="#1f3366"/>
<circle cx="646.97" cy="647.41" r="2.45" fill="#1f3366"/>
<circle cx="649.17" cy="647.03" r="2.45" fill="#1f3366"/>
<circle cx="391.74" cy="642.96" r="2.45" fill="#1f3366"/>
<circle cx="402.17" cy="642.85" r="2.45" fill="#1f3366"/>
<circle cx="405.36" cy="643.47" r="2.45" fill="#1f3366"/>
<circle cx="414.77" cy="642.94" r="2.45" fill="#1f3366"/>
<circle cx="417.46" cy="643.63" r="2.45" fill="#1f3366"/>
<circle cx="421.5" cy="643.82" r="2.45" fill="#1f3366"/>
<circle cx="425.09" cy="644.05" r="2.45" fill="#1f3366"/>
<circle cx="428.69" cy="642.94" r="2.45" fill="#1f3366"/>
<circle cx="431.99" cy="643.71" r="2.45" fill="#1f3366"/>
<circle cx="436.43" cy="644" r="2.45" fill="#1f3366"/>
<circle cx="445.08" cy="643.88" r="2.45" fill="#1f3366"/>
<circle cx="449.59" cy="643.08" r="2.45" fill="#1f3366"/>
<circle cx="453.47" cy="643.54" r="2.45" fill="#1f3366"/>
<circle cx="456.7" cy="643.56" r="2.45" fill="#1f3366"/>
<circle cx="461.97" cy="642.44" r="2.45" fill="#1f3366"/>
<circle cx="472.89" cy="642.31" r="2.45" fill="#1f3366"/>
<circle cx="477.13" cy="642.31" r="2.45" fill="#1f3366"/>
<circle cx="481.67" cy="644.2" r="2.45" fill="#1f3366"/>
<circle cx="485.6" cy="642.87" r="2.45" fill="#1f3366"/>
<circle cx="498.32" cy="643.92" r="2.45" fill="#1f3366"/>
<circle cx="502.69" cy="642.3" r="2.45" fill="#1f3366"/>
<circle cx="506.91" cy="643.91" r="2.45" fill="#1f3366"/>
<circle cx="512.84" cy="643.13" r="2.45" fill="#1f3366"/>
<circle cx="516.81" cy="643.8" r="2.45" fill="#1f3366"/>
<circle cx="520.51" cy="642.3" r="2.45" fill="#1f3366"/>
<circle cx="523.91" cy="643.33" r="2.45" fill="#1f3366"/>
<circle cx="536.86" cy="643.11" r="2.45" fill="#1f3366"/>
<circle cx="542.19" cy="642.32" r="2.45" fill="#1f3366"/>
<circle cx="544.73" cy="643.93" r="2.45" fill="#1f3366"/>
<circle cx="548.08" cy="644.04" r="2.45" fill="#1f3366"/>
<circle cx="552.71" cy="643.55" r="2.45" fill="#1f3366"/>
<circle cx="559.92" cy="644.04" r="2.45" fill="#1f3366"/>
<circle cx="567.81" cy="643.03" r="2.45" fill="#1f3366"/>
<circle cx="575.67" cy="642.31" r="2.45" fill="#1f3366"/>
<circle cx="588.46" cy="643.32" r="2.45" fill="#1f3366"/>
<circle cx="591.78" cy="643.88" r="2.45" fill="#1f3366"/>
<circle cx="596.13" cy="642.98" r="2.45" fill="#1f3366"/>
<circle cx="598.65" cy="642.65" r="2.45" fill="#1f3366"/>
<circle cx="606.34" cy="643.56" r="2.45" fill="#1f3366"/>
<circle cx="609.07" cy="644.05" r="2.45" fill="#1f3366"/>
<circle cx="614.71" cy="642.78" r="2.45" fill="#1f3366"/>
<circle cx="618.36" cy="644.06" r="2.45" fill="#1f3366"/>
<circle cx="622.13" cy="643.4" r="2.45" fill="#1f3366"/>
<circle cx="633.26" cy="644.05" r="2.45" fill="#1f3366"/>
<circle cx="637.51" cy="642.89" r="2.45" fill="#1f3366"/>
<circle cx="640.93" cy="642.87" r="2.45" fill="#1f3366"/>
<circle cx="397.81" cy="639.5" r="2.45" fill="#1f3366"/>
<circle cx="403.42" cy="638.47" r="2.45" fill="#1f3366"/>
<circle cx="420.8" cy="638.74" r="2.45" fill="#1f3366"/>
<circle cx="431.83" cy="638.7" r="2.45" fill="#1f3366"/>
<circle cx="434.75" cy="639.39" r="2.45" fill="#1f3366"/>
<circle cx="448.44" cy="638.8" r="2.45" fill="#1f3366"/>
<circle cx="462.26" cy="638.43" r="2.45" fill="#1f3366"/>
<circle cx="472.36" cy="638.86" r="2.45" fill="#1f3366"/>
<circle cx="484.72" cy="640.18" r="2.45" fill="#1f3366"/>
<circle cx="488.11" cy="639.59" r="2.45" fill="#1f3366"/>
<circle cx="492.86" cy="638.89" r="2.45" fill="#1f3366"/>
<circle cx="497.44" cy="639.64" r="2.45" fill="#1f3366"/>
<circle cx="502.75" cy="640.02" r="2.45" fill="#1f3366"/>
<circle cx="506.53" cy="640.28" r="2.45" fill="#1f3366"/>
<circle cx="519.37" cy="639.09" r="2.45" fill="#1f3366"/>
<circle cx="533.24" cy="639.36" r="2.45" fill="#1f3366"/>
<circle cx="537.82" cy="639.9" r="2.45" fill="#1f3366"/>
<circle cx="547" cy="638.58" r="2.45" fill="#1f3366"/>
<circle cx="555.35" cy="639.89" r="2.45" fill="#1f3366"/>
<circle cx="559.37" cy="640.21" r="2.45" fill="#1f3366"/>
<circle cx="564.09" cy="639.58" r="2.45" fill="#1f3366"/>
<circle cx="568.32" cy="640.14" r="2.45" fill="#1f3366"/>
<circle cx="571.88" cy="640.29" r="2.45" fill="#1f3366"/>
<circle cx="575.84" cy="638.9" r="2.45" fill="#1f3366"/>
<circle cx="593.72" cy="639.18" r="2.45" fill="#1f3366"/>
<circle cx="598.7" cy="640.28" r="2.45" fill="#1f3366"/>
<circle cx="607.55" cy="639.08" r="2.45" fill="#1f3366"/>
<circle cx="612.09" cy="638.41" r="2.45" fill="#1f3366"/>
<circle cx="619.41" cy="639.61" r="2.45" fill="#1f3366"/>
<circle cx="632.44" cy="638.58" r="2.45" fill="#1f3366"/>
<circle cx="636.58" cy="639.72" r="2.45" fill="#1f3366"/>
<circle cx="399.78" cy="634.94" r="2.45" fill="#1f3366"/>
<circle cx="416.97" cy="636.77" r="2.45" fill="#1f3366"/>
<circle cx="420.64" cy="635.67" r="2.45" fill="#1f3366"/>
<circle cx="446.6" cy="635.3" r="2.45" fill="#1f3366"/>
<circle cx="452.92" cy="634.58" r="2.45" fill="#1f3366"/>
<circle cx="479.64" cy="635.27" r="2.45" fill="#1f3366"/>
<circle cx="491.76" cy="635.47" r="2.45" fill="#1f3366"/>
<circle cx="497.66" cy="636.2" r="2.45" fill="#1f3366"/>
<circle cx="505.85" cy="634.75" r="2.45" fill="#1f3366"/>
<circle cx="524.05" cy="635.71" r="2.45" fill="#1f3366"/>
<circle cx="529.42" cy="636.33" r="2.45" fill="#1f3366"/>
<circle cx="541.09" cy="635.07" r="2.45" fill="#1f3366"/>
<circle cx="550.51" cy="634.74" r="2.45" fill="#1f3366"/>
<circle cx="555.25" cy="636.17" r="2.45" fill="#1f3366"/>
<circle cx="569.3" cy="634.85" r="2.45" fill="#1f3366"/>
<circle cx="572.6" cy="635.17" r="2.45" fill="#1f3366"/>
<circle cx="586.67" cy="634.89" r="2.45" fill="#1f3366"/>
<circle cx="608.69" cy="635.74" r="2.45" fill="#1f3366"/>
<circle cx="613.8" cy="635.27" r="2.45" fill="#1f3366"/>
<circle cx="628.34" cy="636.38" r="2.45" fill="#1f3366"/>
<circle cx="650.11" cy="635.39" r="2.45" fill="#1f3366"/>
<circle cx="413.5" cy="632" r="2.45" fill="#1f3366"/>
<circle cx="418" cy="632" r="2.45" fill="#1f3366"/>
<circle cx="422" cy="632" r="2.45" fill="#1f3366"/>
<circle cx="427" cy="632.5" r="2.45" fill="#1f3366"/>
<circle cx="431" cy="632" r="2.45" fill="#1f3366"/>
<circle cx="435" cy="633" r="2.45" fill="#1f3366"/>
<circle cx="488.7" cy="596.3" r="2.45" fill="#1f3366"/>
<circle cx="496.4" cy="598.4" r="2.45" fill="#1f3366"/>
<circle cx="498.1" cy="605.2" r="2.45" fill="#1f3366"/>
<circle cx="502.3" cy="607.3" r="2.45" fill="#1f3366"/>
<circle cx="499" cy="612.5" r="2.45" fill="#1f3366"/>
<circle cx="503.3" cy="611.5" r="2.45" fill="#1f3366"/>
<circle cx="505.4" cy="620.9" r="2.45" fill="#1f3366"/>
<circle cx="506.4" cy="624" r="2.45" fill="#1f3366"/>
<circle cx="515.8" cy="607.3" r="2.45" fill="#1f3366"/>
<circle cx="524" cy="606.9" r="2.45" fill="#1f3366"/>
<circle cx="527.7" cy="606.2" r="2.45" fill="#1f3366"/>
<circle cx="531.3" cy="606.2" r="2.45" fill="#1f3366"/>
<circle cx="537.3" cy="602.6" r="2.45" fill="#1f3366"/>
<circle cx="522.9" cy="617" r="2.45" fill="#1f3366"/>
<circle cx="543.4" cy="614.6" r="2.45" fill="#1f3366"/>
<circle cx="560.2" cy="617" r="2.45" fill="#1f3366"/>
<circle cx="543.4" cy="623" r="2.45" fill="#1f3366"/>
<circle cx="549.4" cy="623" r="2.45" fill="#1f3366"/>
<circle cx="559" cy="623" r="2.45" fill="#1f3366"/>
<circle cx="563.8" cy="623" r="2.45" fill="#1f3366"/>
<circle cx="572.3" cy="623" r="2.45" fill="#1f3366"/>
<circle cx="578.3" cy="623" r="2.45" fill="#1f3366"/>
<circle cx="589.1" cy="621.8" r="2.45" fill="#1f3366"/>
<circle cx="584.3" cy="606.9" r="2.45" fill="#1f3366"/>
<circle cx="589.1" cy="609.3" r="2.45" fill="#1f3366"/>
<circle cx="598.7" cy="617.5" r="2.45" fill="#1f3366"/>
<circle cx="603.6" cy="620.6" r="2.45" fill="#1f3366"/>
<circle cx="615.6" cy="608.6" r="2.45" fill="#1f3366"/>
<circle cx="618" cy="611" r="2.45" fill="#1f3366"/>
<circle cx="620.4" cy="614.6" r="2.45" fill="#1f3366"/>
<circle cx="625.2" cy="612.2" r="2.45" fill="#1f3366"/>
<circle cx="630.1" cy="611.7" r="2.45" fill="#1f3366"/>
<circle cx="625.2" cy="626.7" r="2.45" fill="#1f3366"/>
<circle cx="631.3" cy="625.5" r="2.45" fill="#1f3366"/>
<circle cx="640.9" cy="627.9" r="2.45" fill="#1f3366"/>
<circle cx="443.8" cy="606.7" r="2.45" fill="#1f3366"/>
<circle cx="449" cy="609.4" r="2.45" fill="#1f3366"/>
<circle cx="451.1" cy="606.7" r="2.45" fill="#1f3366"/>
<circle cx="455.9" cy="605.9" r="2.45" fill="#1f3366"/>
<circle cx="449" cy="611.5" r="2.45" fill="#1f3366"/>
<circle cx="456.3" cy="611.5" r="2.45" fill="#1f3366"/>
<circle cx="462.2" cy="608.8" r="2.45" fill="#1f3366"/>
<circle cx="461.6" cy="613" r="2.45" fill="#1f3366"/>
<circle cx="468.9" cy="605.9" r="2.45" fill="#1f3366"/>
<circle cx="469" cy="609" r="2.45" fill="#1f3366"/>
<circle cx="474.1" cy="601.1" r="2.45" fill="#1f3366"/>
<circle cx="479.3" cy="602.5" r="2.45" fill="#1f3366"/>
<circle cx="472" cy="603" r="2.45" fill="#1f3366"/>
<circle cx="442.8" cy="613.6" r="2.45" fill="#1f3366"/>
<circle cx="433.8" cy="616.7" r="2.45" fill="#1f3366"/>
<circle cx="433.4" cy="619.9" r="2.45" fill="#1f3366"/>
<circle cx="436.5" cy="620.9" r="2.45" fill="#1f3366"/>
<circle cx="439.6" cy="621.3" r="2.45" fill="#1f3366"/>
<circle cx="443.8" cy="623" r="2.45" fill="#1f3366"/>
<circle cx="445.9" cy="625" r="2.45" fill="#1f3366"/>
<circle cx="449.7" cy="624.7" r="2.45" fill="#1f3366"/>
<circle cx="462.6" cy="624.7" r="2.45" fill="#1f3366"/>
<circle cx="480" cy="628" r="2.45" fill="#1f3366"/>
<circle cx="490" cy="630" r="2.45" fill="#1f3366"/>
<circle cx="485" cy="632" r="2.45" fill="#1f3366"/>
<circle cx="470" cy="631" r="2.45" fill="#1f3366"/>
<circle cx="500" cy="631" r="2.45" fill="#1f3366"/>
<circle cx="510" cy="629" r="2.45" fill="#1f3366"/>
<circle cx="455" cy="630" r="2.45" fill="#1f3366"/>
<circle cx="445" cy="631" r="2.45" fill="#1f3366"/>
<circle cx="410.4" cy="610" r="2.45" fill="#8cc3e4"/>
<circle cx="514.4" cy="632.4" r="2.45" fill="#8cc3e4"/>
<circle cx="551.8" cy="613.4" r="2.45" fill="#8cc3e4"/>
<circle cx="526.5" cy="631.5" r="2.45" fill="#8cc3e4"/>
<circle cx="530.1" cy="632" r="2.45" fill="#8cc3e4"/>
<circle cx="533.7" cy="631.5" r="2.45" fill="#8cc3e4"/>
<circle cx="538.1" cy="632" r="2.45" fill="#8cc3e4"/>
<circle cx="519" cy="627.2" r="2.45" fill="#6aaa3a"/>
<circle cx="546.5" cy="589.3" r="2.45" fill="#6aaa3a"/>
<circle cx="532.5" cy="594.9" r="2.45" fill="#6aaa3a"/>
<circle cx="523.6" cy="628.6" r="2.45" fill="#6aaa3a"/>
<circle cx="526.5" cy="628.6" r="2.45" fill="#6aaa3a"/>
<circle cx="530.1" cy="628.6" r="2.45" fill="#6aaa3a"/>
<circle cx="523.6" cy="573.2" r="2.45" fill="#d7261e"/>
<circle cx="537.3" cy="573.7" r="2.45" fill="#d7261e"/>
<circle cx="538.5" cy="570.8" r="2.45" fill="#d7261e"/>
<circle cx="542.1" cy="568.9" r="2.45" fill="#d7261e"/>
<circle cx="545.8" cy="569.3" r="2.45" fill="#d7261e"/>
<circle cx="548.2" cy="573.2" r="2.45" fill="#d7261e"/>
<circle cx="548.7" cy="578" r="2.45" fill="#d7261e"/>
</g>
<text x="490.4" y="562.9" font-size="7.3" text-anchor="start" fill="#1a1a1a">rs8176719</text><text x="490.2" y="571.5" font-size="7.3" text-anchor="start" fill="#1a1a1a">(β<tspan font-size="5.0" dy="1.9">T</tspan><tspan dy="-1.9">=0.027)</tspan></text><path d="M504.50 579.14L511.70 579.14L508.10 574.10Z" fill="#5e3f8f" stroke="#1a1030" stroke-width="0.5"/><text x="515.0" y="591.8" font-size="7.3" text-anchor="start" fill="#1a1a1a">rs8176746</text><text x="513.6" y="600.3" font-size="7.3" text-anchor="start" fill="#1a1a1a">(β<tspan font-size="5.0" dy="1.9">G</tspan><tspan dy="-1.9">=-0.062)</tspan></text><path d="M513.6 596.0L507.6 600.6" stroke="#ee2a2a" stroke-width="0.8" fill="none"/><path d="M507.6 600.6L508.6 598.6L509.8 600.2Z" fill="#ee2a2a"/><path d="M502.40 600.15L508.40 600.15L505.40 604.35Z" fill="#5e3f8f" stroke="#1a1030" stroke-width="0.5"/>
<rect x="632.5" y="552.7" width="29.1" height="64.3" fill="#fff" stroke="#333" stroke-width="0.75"/>
<rect x="650.7" y="555.4" width="10.2" height="10" fill="#d7261e"/>
<rect x="650.7" y="565.35" width="10.2" height="10" fill="#eba03a"/>
<rect x="650.7" y="575.3" width="10.2" height="10" fill="#6aaa3a"/>
<rect x="650.7" y="585.25" width="10.2" height="10" fill="#8cc3e4"/>
<rect x="650.7" y="595.2" width="10.2" height="10" fill="#17284f"/>
<text x="647" y="567.35" font-size="5.6" text-anchor="end" fill="#1a1a1a">0.8</text>
<line x1="648.8" y1="565.35" x2="650.5" y2="565.35" stroke="#333" stroke-width="0.5"/>
<text x="647" y="577.3" font-size="5.6" text-anchor="end" fill="#1a1a1a">0.6</text>
<line x1="648.8" y1="575.3" x2="650.5" y2="575.3" stroke="#333" stroke-width="0.5"/>
<text x="647" y="587.25" font-size="5.6" text-anchor="end" fill="#1a1a1a">0.4</text>
<line x1="648.8" y1="585.25" x2="650.5" y2="585.25" stroke="#333" stroke-width="0.5"/>
<text x="647" y="597.2" font-size="5.6" text-anchor="end" fill="#1a1a1a">0.2</text>
<line x1="648.8" y1="595.2" x2="650.5" y2="595.2" stroke="#333" stroke-width="0.5"/>
<text x="656.2" y="613.9" font-size="5.8" text-anchor="middle" fill="#1a1a1a">r2</text>
</g>
<rect x="377.4" y="552.3" width="286.2" height="99.8" fill="none" stroke="#8a8a8a" stroke-width="0.9"/>
<line x1="377.4" y1="652.1" x2="664.0500000000001" y2="652.1" stroke="#333" stroke-width="0.95"/>
<line x1="377.4" y1="551.8499999999999" x2="377.4" y2="652.5500000000001" stroke="#222" stroke-width="0.95"/>
<rect x="492" y="664.3" width="12.2" height="5.2" fill="#1f3366"/>
<line x1="504" y1="666.9" x2="543.3" y2="666.9" stroke="#4a5f8f" stroke-width="0.7"/>
<line x1="506.6" y1="664.6" x2="506.6" y2="669.2" stroke="#4a5f8f" stroke-width="0.6"/>
<line x1="511.5" y1="664.6" x2="511.5" y2="669.2" stroke="#4a5f8f" stroke-width="0.6"/>
<line x1="514.4" y1="664.6" x2="514.4" y2="669.2" stroke="#4a5f8f" stroke-width="0.6"/>
<line x1="516.4" y1="664.6" x2="516.4" y2="669.2" stroke="#4a5f8f" stroke-width="0.6"/>
<line x1="543.3" y1="664.6" x2="543.3" y2="669.2" stroke="#4a5f8f" stroke-width="0.6"/>
<path d="M513.3 660.2h4.3M513.3 660.2l1.6 -1.1M513.3 660.2l1.6 1.1" stroke="#e03030" stroke-width="0.7" fill="none"/>
<text x="519.4" y="662.5" font-size="6.6" font-style="italic" fill="#e03030" style="stroke:#e03030;stroke-width:.1px">ABO</text>
<line x1="377.5" y1="679.7" x2="667.4" y2="679.7" stroke="#333" stroke-width="0.8"/>
<line x1="377.5" y1="679.7" x2="377.5" y2="682" stroke="#333" stroke-width="0.8"/>
<text x="375.7" y="692.7" font-size="8.1" text-anchor="middle" fill="#1a1a1a">136070000</text>
<line x1="453.4" y1="679.7" x2="453.4" y2="682" stroke="#333" stroke-width="0.8"/>
<text x="451.59999999999997" y="692.7" font-size="8.1" text-anchor="middle" fill="#1a1a1a">136105000</text>
<line x1="524.3" y1="679.7" x2="524.3" y2="682" stroke="#333" stroke-width="0.8"/>
<text x="522.5" y="692.7" font-size="8.1" text-anchor="middle" fill="#1a1a1a">136140000</text>
<line x1="594.5" y1="679.7" x2="594.5" y2="682" stroke="#333" stroke-width="0.8"/>
<text x="592.7" y="692.7" font-size="8.1" text-anchor="middle" fill="#1a1a1a">136175000</text>
<line x1="667.4" y1="679.7" x2="667.4" y2="682" stroke="#333" stroke-width="0.8"/>
<text x="665.6" y="692.7" font-size="8.1" text-anchor="middle" fill="#1a1a1a">136210000</text>
<text x="522.8" y="701.4" font-size="7.95" text-anchor="middle" fill="#1a1a1a">Position on Chromosome 9</text>
</svg></body></html>
